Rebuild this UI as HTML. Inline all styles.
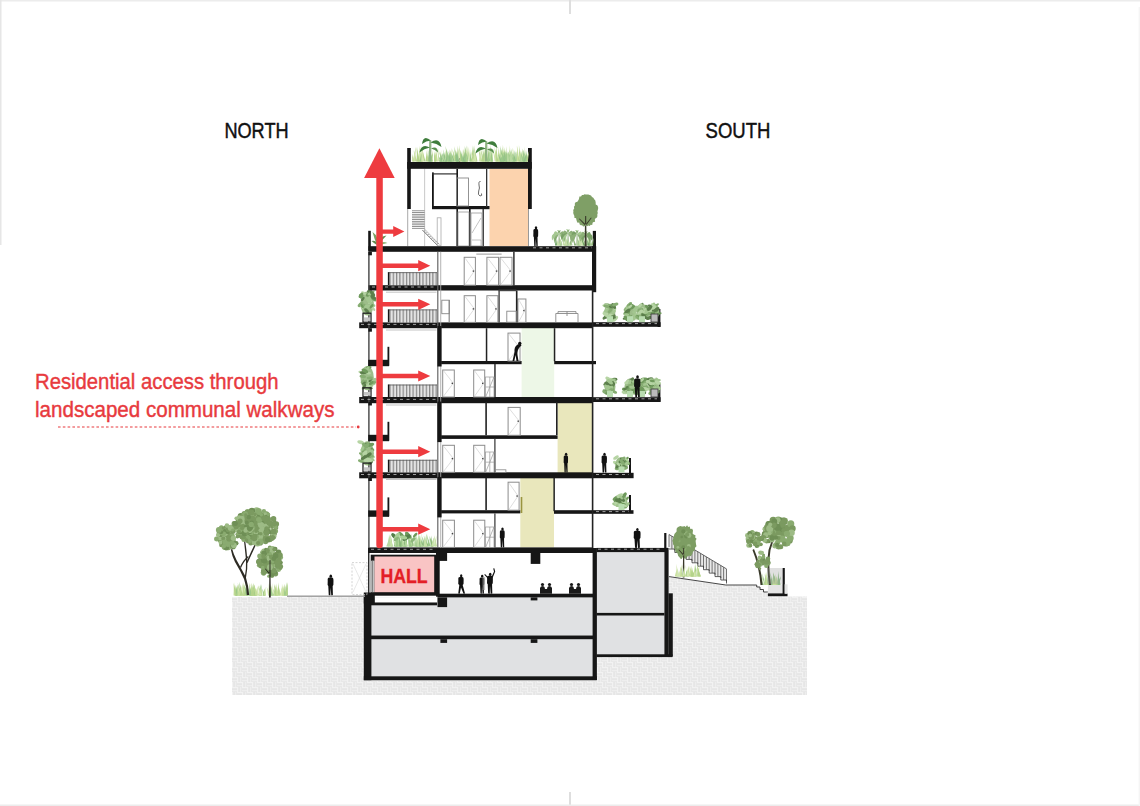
<!DOCTYPE html>
<html><head><meta charset="utf-8"><style>
html,body{margin:0;padding:0;background:#fff;}
body{width:1140px;height:806px;overflow:hidden;position:relative;}
svg{position:absolute;left:0;top:0;}
</style></head><body>
<svg width="1140" height="806" viewBox="0 0 1140 806" font-family="Liberation Sans, sans-serif">
<rect x="0" y="0" width="1140" height="1.5" fill="#ececec" />
<rect x="0" y="0" width="1.5" height="245" fill="#e6e6e6" />
<rect x="569" y="0" width="2" height="14" fill="#dedede" />
<rect x="569" y="792" width="2" height="14" fill="#dedede" />
<rect x="0" y="804.5" width="1140" height="1.5" fill="#ececec" />
<rect x="1138.6" y="7" width="1.4" height="799" fill="#f5f5f5" />
<defs>
<pattern id="hatch" x="232" y="597" width="10" height="10" patternUnits="userSpaceOnUse">
<rect width="10" height="10" fill="#fafafa"/>
<path d="M0 1.2H5M0 2.7H5M0 4.2H5 M5 6.2H10M5 7.7H10M5 9.2H10 M6.2 0V5M7.7 0V5M9.2 0V5 M1.2 5V10M2.7 5V10M4.2 5V10" stroke="#d6d6d6" stroke-width="0.7" fill="none"/>
</pattern>
<pattern id="rail" x="0" y="0" width="3.3" height="10" patternUnits="userSpaceOnUse">
<rect width="3.3" height="10" fill="#e4e4e4"/>
<rect x="0" width="1.2" height="10" fill="#858585"/>
</pattern>
</defs>
<path d="M232 597 H364 V681 H597 V657 H672.8 V593.3 H668.6 V576.6 L725.8 585 H756.7 L768 594 H787.5 V596.5 H807 V695 H232 Z" fill="url(#hatch)" stroke="none" stroke-width="1" />
<rect x="371" y="597.5" width="222" height="38" fill="#e0e1e3" />
<rect x="371" y="639" width="222" height="37.5" fill="#e0e1e3" />
<rect x="596.5" y="552" width="68" height="61" fill="#e0e1e3" />
<rect x="596.5" y="615" width="68" height="40" fill="#e0e1e3" />
<rect x="375" y="597.5" width="62" height="5" fill="#ffffff" />
<rect x="363.8" y="595.6" width="7.6" height="84.6" fill="#161616" />
<rect x="363.8" y="676.3" width="233" height="4" fill="#161616" />
<rect x="371" y="602.5" width="66" height="2.8" fill="#161616" />
<rect x="437.5" y="593.7" width="158" height="3.7" fill="#161616" />
<rect x="371" y="635.5" width="225" height="3.7" fill="#161616" />
<rect x="592.6" y="548" width="4.3" height="132" fill="#161616" />
<rect x="596.5" y="547.9" width="71" height="4.2" fill="#161616" />
<rect x="664.4" y="547.9" width="4.2" height="108.6" fill="#161616" />
<rect x="664.2" y="533" width="2.2" height="15" fill="#161616" />
<rect x="668.4" y="593.3" width="4.4" height="63.2" fill="#161616" />
<rect x="596.5" y="612.9" width="68" height="2.6" fill="#161616" />
<rect x="596.5" y="654.3" width="76" height="2.8" fill="#161616" />
<rect x="437.5" y="597.4" width="9.6" height="9.7" fill="#161616" />
<rect x="437.5" y="552.7" width="9.6" height="8.2" fill="#161616" />
<rect x="530.7" y="552.7" width="9.6" height="11.2" fill="#161616" />
<rect x="530.7" y="597.4" width="6.7" height="3" fill="#161616" />
<rect x="440.4" y="639.2" width="6.7" height="3.7" fill="#161616" />
<rect x="530.7" y="639.2" width="6.7" height="3.7" fill="#161616" />
<rect x="363.8" y="592.5" width="11" height="11" fill="#161616" />
<rect x="368.1" y="552.7" width="1.3" height="43" fill="#161616" />
<rect x="370.7" y="554.7" width="68" height="41" fill="#161616" />
<rect x="371.3" y="560.7" width="3.2" height="31.5" fill="#f4f4f4" />
<rect x="372.3" y="560.7" width="1" height="31.5" fill="#555" />
<rect x="374.5" y="556.5" width="59.7" height="35.7" fill="#f9c4c4" />
<text x="380.4" y="582.5" font-size="21" font-weight="bold" fill="#e41e26" stroke="#e41e26" stroke-width="0.35" textLength="47.2" lengthAdjust="spacingAndGlyphs">HALL</text>
<rect x="436" y="552.7" width="3.7" height="44" fill="#161616" />
<rect x="489.5" y="169" width="38.5" height="77" fill="#fcd3ae" />
<rect x="521.6" y="327.4" width="32.6" height="70.6" fill="#edf7e7" />
<rect x="557.6" y="401.6" width="34.8" height="71.7" fill="#e9e7bc" />
<rect x="520.3" y="476.9" width="33.7" height="70.6" fill="#e9e7bc" />
<rect x="407.2" y="148" width="3.6" height="61" fill="#161616" />
<rect x="528" y="148" width="3.8" height="61" fill="#161616" />
<rect x="407.2" y="162" width="124.6" height="6.8" fill="#161616" />
<rect x="457" y="158.3" width="3.2" height="4" fill="#161616" />
<rect x="432" y="206" width="57.5" height="3.2" fill="#161616" />
<rect x="432" y="172.4" width="1.8" height="35" fill="#161616" />
<rect x="432" y="173.3" width="25" height="1.2" fill="#333" />
<rect x="456.4" y="169" width="1.6" height="77" fill="#161616" />
<rect x="486" y="169" width="1.3" height="38" fill="#333" />
<rect x="469" y="209" width="1.6" height="37" fill="#161616" />
<rect x="482.5" y="209" width="1.4" height="37" fill="#333" />
<rect x="407.2" y="209" width="1" height="37" fill="#aaa" />
<rect x="424.3" y="169" width="0.8" height="77" fill="#bbb" />
<rect x="412" y="210.4" width="12.6" height="0.8" fill="#777" />
<rect x="412" y="212.15" width="12.6" height="0.8" fill="#777" />
<rect x="412" y="213.9" width="12.6" height="0.8" fill="#777" />
<rect x="412" y="215.65" width="12.6" height="0.8" fill="#777" />
<rect x="412" y="217.4" width="12.6" height="0.8" fill="#777" />
<rect x="412" y="219.15" width="12.6" height="0.8" fill="#777" />
<rect x="412" y="220.9" width="12.6" height="0.8" fill="#777" />
<rect x="412" y="222.65" width="12.6" height="0.8" fill="#777" />
<rect x="412" y="224.4" width="12.6" height="0.8" fill="#777" />
<rect x="412" y="226.15" width="12.6" height="0.8" fill="#777" />
<rect x="412" y="227.9" width="12.6" height="0.8" fill="#777" />
<line x1="422.3" y1="230" x2="437.5" y2="245.5" stroke="#666" stroke-width="0.8" />
<line x1="424.5" y1="229" x2="439.5" y2="244.5" stroke="#999" stroke-width="0.6" />
<line x1="423.5" y1="231.0" x2="425.4" y2="231.0" stroke="#777" stroke-width="0.6" />
<line x1="425.4" y1="232.8" x2="427.29999999999995" y2="232.8" stroke="#777" stroke-width="0.6" />
<line x1="427.3" y1="234.6" x2="429.2" y2="234.6" stroke="#777" stroke-width="0.6" />
<line x1="429.2" y1="236.4" x2="431.09999999999997" y2="236.4" stroke="#777" stroke-width="0.6" />
<line x1="431.1" y1="238.2" x2="433.0" y2="238.2" stroke="#777" stroke-width="0.6" />
<line x1="433.0" y1="240.0" x2="434.9" y2="240.0" stroke="#777" stroke-width="0.6" />
<line x1="434.9" y1="241.8" x2="436.79999999999995" y2="241.8" stroke="#777" stroke-width="0.6" />
<line x1="436.8" y1="243.6" x2="438.7" y2="243.6" stroke="#777" stroke-width="0.6" />
<rect x="456.8" y="178" width="11.7" height="28" fill="none" stroke="#888" stroke-width="0.9"/>
<rect x="458" y="212" width="11" height="34" fill="none" stroke="#999" stroke-width="0.8"/>
<rect x="471" y="213" width="11" height="33" fill="none" stroke="#999" stroke-width="0.8"/>
<path d="M472 240 H481 V246 M472 233 L481 218" fill="none" stroke="#aaa" stroke-width="0.7"/>
<rect x="437.2" y="217.8" width="3.8" height="28" fill="none" stroke="#aaa" stroke-width="0.8"/>
<path d="M480.5 181.5 Q478.5 181 479 185 Q480 188 478.7 191 Q477.5 195 480 196 Q482.5 196 481.5 193.5" fill="none" stroke="#444" stroke-width="0.8"/>
<rect x="528" y="209" width="1" height="37" fill="#999" />
<rect x="368.4" y="246.2" width="227.6" height="5.6" fill="#161616" />
<rect x="368.4" y="285.2" width="227.6" height="5.3" fill="#161616" />
<rect x="359.2" y="322.4" width="233.6" height="5.8" fill="#161616" />
<rect x="592.6" y="322.2" width="68" height="4.6" fill="#161616" />
<rect x="359.2" y="397" width="233.6" height="6.2" fill="#161616" />
<rect x="592.6" y="397.2" width="68" height="4.8" fill="#161616" />
<rect x="359.2" y="472.3" width="233.6" height="6.0" fill="#161616" />
<rect x="592.6" y="472.8" width="41" height="5.4" fill="#161616" />
<rect x="368.0" y="547.4" width="225" height="5.6" fill="#161616" />
<rect x="439.5" y="361" width="82.1" height="3.2" fill="#161616" />
<rect x="554.2" y="361" width="41.8" height="3.2" fill="#161616" />
<rect x="439.5" y="435.3" width="118.1" height="3.6" fill="#161616" />
<rect x="439.5" y="510.2" width="80.8" height="3.2" fill="#161616" />
<rect x="554" y="510.2" width="79.5" height="3.6" fill="#161616" />
<rect x="592" y="246.2" width="4.2" height="46" fill="#161616" />
<rect x="591.8" y="290" width="1.6" height="258" fill="#222" />
<rect x="437.2" y="251.8" width="1.2" height="296" fill="#666" />
<rect x="440.3" y="251.8" width="0.9" height="296" fill="#aaa" />
<rect x="437.4" y="326" width="4.2" height="40.5" fill="#161616" />
<rect x="437.4" y="401.6" width="4.2" height="40.5" fill="#161616" />
<rect x="437.4" y="476.9" width="4.2" height="40.5" fill="#161616" />
<rect x="368.2" y="251.8" width="1.4" height="296" fill="#444" />
<rect x="368.4" y="251.8" width="3.5" height="3.5" fill="#161616" />
<rect x="368.4" y="290.5" width="3.5" height="3.5" fill="#161616" />
<rect x="368.4" y="328.2" width="3.5" height="3.5" fill="#161616" />
<rect x="368.4" y="402" width="3.5" height="3.5" fill="#161616" />
<rect x="368.4" y="477.5" width="3.5" height="3.5" fill="#161616" />
<rect x="368.2" y="359.8" width="20.8" height="6.4" fill="#161616" />
<rect x="387.5" y="346.8" width="1.8" height="19" fill="#161616" />
<rect x="368.2" y="434.8" width="20.8" height="6.4" fill="#161616" />
<rect x="387.5" y="421.8" width="1.8" height="19" fill="#161616" />
<rect x="368.2" y="510.4" width="20.8" height="6.4" fill="#161616" />
<rect x="387.5" y="497.4" width="1.8" height="19" fill="#161616" />
<rect x="368.2" y="230.8" width="2.6" height="20" fill="#161616" />
<rect x="592.8" y="230.9" width="3.2" height="20" fill="#161616" />
<rect x="657.6" y="309" width="2.8" height="18" fill="#161616" />
<rect x="657.6" y="383.6" width="2.8" height="18" fill="#161616" />
<rect x="629" y="458" width="2" height="18" fill="#161616" />
<rect x="629" y="495" width="2" height="18" fill="#161616" />
<rect x="387.9" y="272.3" width="49.10000000000002" height="12.899999999999977" fill="url(#rail)" />
<rect x="387.9" y="272.3" width="49.10000000000002" height="0.8" fill="#555" />
<rect x="387.9" y="272.3" width="1.4" height="12.899999999999977" fill="#161616" />
<rect x="387.9" y="309.5" width="49.10000000000002" height="12.899999999999977" fill="url(#rail)" />
<rect x="387.9" y="309.5" width="49.10000000000002" height="0.8" fill="#555" />
<rect x="387.9" y="309.5" width="1.4" height="12.899999999999977" fill="#161616" />
<rect x="387.9" y="384.6" width="49.10000000000002" height="12.399999999999977" fill="url(#rail)" />
<rect x="387.9" y="384.6" width="49.10000000000002" height="0.8" fill="#555" />
<rect x="387.9" y="384.6" width="1.4" height="12.399999999999977" fill="#161616" />
<rect x="387.9" y="459.8" width="49.10000000000002" height="12.5" fill="url(#rail)" />
<rect x="387.9" y="459.8" width="49.10000000000002" height="0.8" fill="#555" />
<rect x="387.9" y="459.8" width="1.4" height="12.5" fill="#161616" />
<rect x="464.2" y="257.3" width="11.199999999999989" height="27.899999999999977" fill="none" stroke="#8c8c8c" stroke-width="1"/>
<path d="M465.2 284.2 L474.4 271.0 L465.2 258.3" fill="none" stroke="#c8c8c8" stroke-width="0.6"/>
<rect x="472.7" y="270.4" width="1.4" height="1.4" fill="#444" />
<rect x="486.9" y="257.3" width="11.600000000000023" height="27.899999999999977" fill="none" stroke="#8c8c8c" stroke-width="1"/>
<path d="M487.9 284.2 L497.5 271.0 L487.9 258.3" fill="none" stroke="#c8c8c8" stroke-width="0.6"/>
<rect x="495.8" y="270.4" width="1.4" height="1.4" fill="#444" />
<rect x="500.0" y="257.3" width="12.0" height="27.899999999999977" fill="none" stroke="#8c8c8c" stroke-width="1"/>
<path d="M501.0 284.2 L511.0 271.0 L501.0 258.3" fill="none" stroke="#c8c8c8" stroke-width="0.6"/>
<rect x="509.3" y="270.4" width="1.4" height="1.4" fill="#444" />
<rect x="513.2" y="251.8" width="1.4" height="33.5" fill="#222" />
<rect x="476.3" y="253.6" width="25.3" height="1" fill="#999" />
<rect x="464.2" y="295.7" width="11.199999999999989" height="26.69999999999999" fill="none" stroke="#8c8c8c" stroke-width="1"/>
<path d="M465.2 321.4 L474.4 308.79999999999995 L465.2 296.7" fill="none" stroke="#c8c8c8" stroke-width="0.6"/>
<rect x="472.7" y="308.19999999999993" width="1.4" height="1.4" fill="#444" />
<rect x="486.9" y="295.7" width="11.0" height="26.69999999999999" fill="none" stroke="#8c8c8c" stroke-width="1"/>
<path d="M487.9 321.4 L496.9 308.79999999999995 L487.9 296.7" fill="none" stroke="#c8c8c8" stroke-width="0.6"/>
<rect x="495.2" y="308.19999999999993" width="1.4" height="1.4" fill="#444" />
<rect x="517.9" y="299.0" width="8.0" height="23.399999999999977" fill="none" stroke="#8c8c8c" stroke-width="1"/>
<path d="M518.9 321.4 L524.9 310.45 L518.9 300.0" fill="none" stroke="#c8c8c8" stroke-width="0.6"/>
<rect x="523.1999999999999" y="309.84999999999997" width="1.4" height="1.4" fill="#444" />
<rect x="498.4" y="290.5" width="1.4" height="32" fill="#444" />
<rect x="515.9" y="290.5" width="1.6" height="32" fill="#222" />
<rect x="498.4" y="289.6" width="18" height="1.6" fill="#444" />
<rect x="506.8" y="311.2" width="9.5" height="11" fill="none" stroke="#888" stroke-width="0.9"/>
<rect x="441.8" y="300.2" width="7.5" height="13.5" fill="none" stroke="#888" stroke-width="0.9"/>
<rect x="448.6" y="300" width="1.2" height="22.5" fill="#888" />
<path d="M555.8 322.2 V313.5 H578 V322.2 M558 313.5 V311.6 H576 V313.5 M567 311.6 V316" fill="none" stroke="#888" stroke-width="0.9"/>
<rect x="485.8" y="328.2" width="1.5" height="32.8" fill="#222" />
<rect x="508.0" y="333.1" width="12.0" height="27.899999999999977" fill="none" stroke="#8c8c8c" stroke-width="1"/>
<path d="M509.0 360 L519.0 346.8 L509.0 334.1" fill="none" stroke="#c8c8c8" stroke-width="0.6"/>
<rect x="517.3" y="346.2" width="1.4" height="1.4" fill="#444" />
<rect x="553.8" y="328.2" width="1.5" height="33" fill="#222" />
<rect x="442.7" y="370.0" width="11.600000000000023" height="27.0" fill="none" stroke="#8c8c8c" stroke-width="1"/>
<path d="M443.7 396 L453.3 383.25 L443.7 371.0" fill="none" stroke="#c8c8c8" stroke-width="0.6"/>
<rect x="451.6" y="382.65" width="1.4" height="1.4" fill="#444" />
<rect x="473.7" y="370.0" width="11.0" height="27.0" fill="none" stroke="#8c8c8c" stroke-width="1"/>
<path d="M474.7 396 L483.7 383.25 L474.7 371.0" fill="none" stroke="#c8c8c8" stroke-width="0.6"/>
<rect x="482.0" y="382.65" width="1.4" height="1.4" fill="#444" />
<rect x="494.2" y="364" width="1.5" height="33" fill="#333" />
<rect x="485.3" y="402" width="1.6" height="33.3" fill="#222" />
<rect x="508.1" y="407.4" width="12.100000000000023" height="27.900000000000034" fill="none" stroke="#8c8c8c" stroke-width="1"/>
<path d="M509.1 434.3 L519.2 421.1 L509.1 408.4" fill="none" stroke="#c8c8c8" stroke-width="0.6"/>
<rect x="517.5" y="420.5" width="1.4" height="1.4" fill="#444" />
<rect x="556" y="402" width="1.6" height="33" fill="#222" />
<rect x="442.7" y="445.3" width="11.699999999999989" height="27.0" fill="none" stroke="#8c8c8c" stroke-width="1"/>
<path d="M443.7 471.3 L453.4 458.55 L443.7 446.3" fill="none" stroke="#c8c8c8" stroke-width="0.6"/>
<rect x="451.7" y="457.95" width="1.4" height="1.4" fill="#444" />
<rect x="473.7" y="445.3" width="11.100000000000023" height="27.0" fill="none" stroke="#8c8c8c" stroke-width="1"/>
<path d="M474.7 471.3 L483.8 458.55 L474.7 446.3" fill="none" stroke="#c8c8c8" stroke-width="0.6"/>
<rect x="482.1" y="457.95" width="1.4" height="1.4" fill="#444" />
<rect x="494.3" y="439" width="1.2" height="33.3" fill="#333" />
<rect x="495.6" y="469.8" width="10.3" height="2.8" fill="none" stroke="#888" stroke-width="0.8"/>
<rect x="485.3" y="477.8" width="1.6" height="32.4" fill="#222" />
<rect x="508.1" y="482.2" width="11.0" height="28.0" fill="none" stroke="#8c8c8c" stroke-width="1"/>
<path d="M509.1 509.2 L518.1 495.95 L509.1 483.2" fill="none" stroke="#c8c8c8" stroke-width="0.6"/>
<rect x="516.4" y="495.34999999999997" width="1.4" height="1.4" fill="#444" />
<rect x="553.4" y="477.8" width="1.5" height="33.4" fill="#222" />
<rect x="520.7" y="497" width="1.6" height="16" fill="#9a9440" />
<rect x="442.7" y="520.2" width="11.699999999999989" height="27.199999999999932" fill="none" stroke="#8c8c8c" stroke-width="1"/>
<path d="M443.7 546.4 L453.4 533.55 L443.7 521.2" fill="none" stroke="#c8c8c8" stroke-width="0.6"/>
<rect x="451.7" y="532.9499999999999" width="1.4" height="1.4" fill="#444" />
<rect x="473.7" y="520.2" width="11.100000000000023" height="27.199999999999932" fill="none" stroke="#8c8c8c" stroke-width="1"/>
<path d="M474.7 546.4 L483.8 533.55 L474.7 521.2" fill="none" stroke="#c8c8c8" stroke-width="0.6"/>
<rect x="482.1" y="532.9499999999999" width="1.4" height="1.4" fill="#444" />
<rect x="494.3" y="513.4" width="1.2" height="34" fill="#333" />
<g stroke="#999" stroke-width="0.7" fill="none"><rect x="485.6" y="377" width="8.399999999999977" height="20"/><line x1="485.6" y1="387.0" x2="494" y2="387.0"/><line x1="489.8" y1="377" x2="489.8" y2="397"/><line x1="485.6" y1="397" x2="494" y2="377"/></g>
<g stroke="#999" stroke-width="0.7" fill="none"><rect x="485.6" y="452" width="8.399999999999977" height="20.30000000000001"/><line x1="485.6" y1="462.15" x2="494" y2="462.15"/><line x1="489.8" y1="452" x2="489.8" y2="472.3"/><line x1="485.6" y1="472.3" x2="494" y2="452"/></g>
<g stroke="#999" stroke-width="0.7" fill="none"><rect x="485.6" y="527" width="8.399999999999977" height="20.399999999999977"/><line x1="485.6" y1="537.2" x2="494" y2="537.2"/><line x1="489.8" y1="527" x2="489.8" y2="547.4"/><line x1="485.6" y1="547.4" x2="494" y2="527"/></g>
<path d="M448.3 161.6 L450.2 152.5 L450.3 161.6 Z" fill="#c5de9a"/><path d="M505.8 161.6 L507.3 153.1 L507.8 161.6 Z" fill="#b4d38a"/><path d="M415.1 161.6 L413.6 149.9 L417.1 161.6 Z" fill="#c5de9a"/><path d="M474.6 161.6 L475.9 153.4 L476.6 161.6 Z" fill="#b4d38a"/><path d="M483.8 161.6 L482.1 148.5 L485.8 161.6 Z" fill="#d3e6b0"/><path d="M416.5 161.6 L417.9 151.9 L418.5 161.6 Z" fill="#b4d38a"/><path d="M444.3 161.6 L443.0 152.6 L446.3 161.6 Z" fill="#9cc98a"/><path d="M475.6 161.6 L474.2 147.6 L477.6 161.6 Z" fill="#b4d38a"/><path d="M453.9 161.6 L452.3 148.8 L455.9 161.6 Z" fill="#c5de9a"/><path d="M482.4 161.6 L483.6 149.3 L484.4 161.6 Z" fill="#9cc98a"/><path d="M464.7 161.6 L464.8 145.3 L466.7 161.6 Z" fill="#b4d38a"/><path d="M502.7 161.6 L502.2 147.4 L504.7 161.6 Z" fill="#9cc98a"/><path d="M471.6 161.6 L473.9 145.8 L473.6 161.6 Z" fill="#9cc98a"/><path d="M481.3 161.6 L482.3 153.3 L483.3 161.6 Z" fill="#b4d38a"/><path d="M498.4 161.6 L499.3 152.5 L500.4 161.6 Z" fill="#c5de9a"/><path d="M522.1 161.6 L523.5 153.2 L524.1 161.6 Z" fill="#9cc98a"/><path d="M450.2 161.6 L451.1 150.7 L452.2 161.6 Z" fill="#d3e6b0"/><path d="M418.8 161.6 L418.4 153.1 L420.8 161.6 Z" fill="#c5de9a"/><path d="M417.8 161.6 L419.7 147.4 L419.8 161.6 Z" fill="#d3e6b0"/><path d="M443.7 161.6 L445.7 150.3 L445.7 161.6 Z" fill="#c5de9a"/><path d="M519.6 161.6 L521.3 150.6 L521.6 161.6 Z" fill="#d3e6b0"/><path d="M417.6 161.6 L416.4 146.8 L419.6 161.6 Z" fill="#b4d38a"/><path d="M456.8 161.6 L457.8 145.4 L458.8 161.6 Z" fill="#b4d38a"/><path d="M462.8 161.6 L466.1 148.8 L464.8 161.6 Z" fill="#d3e6b0"/><path d="M510.8 161.6 L511.3 151.3 L512.8 161.6 Z" fill="#9cc98a"/><path d="M489.8 161.6 L489.2 150.4 L491.8 161.6 Z" fill="#c5de9a"/><path d="M431.2 161.6 L430.6 151.8 L433.2 161.6 Z" fill="#d3e6b0"/><path d="M507.0 161.6 L506.6 152.2 L509.0 161.6 Z" fill="#b4d38a"/><path d="M459.3 161.6 L460.7 150.5 L461.3 161.6 Z" fill="#b4d38a"/><path d="M490.7 161.6 L492.4 149.1 L492.7 161.6 Z" fill="#c5de9a"/><path d="M463.6 161.6 L467.3 145.8 L465.6 161.6 Z" fill="#d3e6b0"/><path d="M456.9 161.6 L457.7 150.3 L458.9 161.6 Z" fill="#d3e6b0"/><path d="M418.0 161.6 L417.3 153.3 L420.0 161.6 Z" fill="#b4d38a"/><path d="M423.5 161.6 L422.1 148.3 L425.5 161.6 Z" fill="#b4d38a"/><path d="M472.9 161.6 L474.6 145.1 L474.9 161.6 Z" fill="#c5de9a"/><path d="M512.0 161.6 L510.9 148.2 L514.0 161.6 Z" fill="#9cc98a"/><path d="M521.3 161.6 L522.2 148.3 L523.3 161.6 Z" fill="#c5de9a"/><path d="M509.0 161.6 L509.8 144.7 L511.0 161.6 Z" fill="#d3e6b0"/><path d="M446.9 161.6 L449.4 152.6 L448.9 161.6 Z" fill="#9cc98a"/><path d="M466.2 161.6 L467.3 147.5 L468.2 161.6 Z" fill="#b4d38a"/><path d="M520.8 161.6 L519.7 149.0 L522.8 161.6 Z" fill="#c5de9a"/><path d="M498.5 161.6 L500.4 151.2 L500.5 161.6 Z" fill="#c5de9a"/><path d="M491.3 161.6 L491.6 151.5 L493.3 161.6 Z" fill="#b4d38a"/><path d="M452.0 161.6 L453.2 151.9 L454.0 161.6 Z" fill="#9cc98a"/><path d="M484.4 161.6 L487.2 148.2 L486.4 161.6 Z" fill="#b4d38a"/><path d="M504.1 161.6 L506.5 146.3 L506.1 161.6 Z" fill="#b4d38a"/><path d="M433.9 161.6 L436.3 149.3 L435.9 161.6 Z" fill="#c5de9a"/><path d="M502.2 161.6 L501.4 149.5 L504.2 161.6 Z" fill="#9cc98a"/><path d="M462.5 161.6 L466.5 145.2 L464.5 161.6 Z" fill="#9cc98a"/><path d="M420.1 161.6 L420.9 153.0 L422.1 161.6 Z" fill="#9cc98a"/><path d="M434.4 161.6 L437.8 148.1 L436.4 161.6 Z" fill="#c5de9a"/><path d="M466.3 161.6 L469.1 147.8 L468.3 161.6 Z" fill="#c5de9a"/><path d="M507.4 161.6 L507.7 152.8 L509.4 161.6 Z" fill="#b4d38a"/><path d="M466.1 161.6 L468.8 152.3 L468.1 161.6 Z" fill="#9cc98a"/><path d="M420.8 161.6 L423.2 145.1 L422.8 161.6 Z" fill="#d3e6b0"/><path d="M457.2 161.6 L459.6 145.1 L459.2 161.6 Z" fill="#b4d38a"/><path d="M525.7 161.6 L527.2 153.7 L527.7 161.6 Z" fill="#d3e6b0"/><path d="M504.1 161.6 L507.1 152.6 L506.1 161.6 Z" fill="#d3e6b0"/><path d="M486.8 161.6 L488.1 150.7 L488.8 161.6 Z" fill="#b4d38a"/><path d="M413.3 161.6 L415.6 146.5 L415.3 161.6 Z" fill="#c5de9a"/><path d="M471.7 161.6 L472.3 145.2 L473.7 161.6 Z" fill="#b4d38a"/><path d="M506.4 161.6 L505.9 152.0 L508.4 161.6 Z" fill="#9cc98a"/><path d="M468.8 161.6 L468.7 146.8 L470.8 161.6 Z" fill="#d3e6b0"/><path d="M507.3 161.6 L509.8 153.4 L509.3 161.6 Z" fill="#d3e6b0"/><path d="M487.4 161.6 L488.5 146.3 L489.4 161.6 Z" fill="#b4d38a"/><path d="M472.3 161.6 L470.4 149.1 L474.3 161.6 Z" fill="#d3e6b0"/><path d="M500.6 161.6 L503.3 148.3 L502.6 161.6 Z" fill="#b4d38a"/><path d="M430.7 161.6 L433.1 149.5 L432.7 161.6 Z" fill="#c5de9a"/><path d="M448.5 161.6 L449.8 149.1 L450.5 161.6 Z" fill="#c5de9a"/><path d="M513.0 161.6 L512.1 153.4 L515.0 161.6 Z" fill="#c5de9a"/><path d="M500.2 161.6 L501.5 149.2 L502.2 161.6 Z" fill="#c5de9a"/><path d="M462.1 161.6 L463.1 148.2 L464.1 161.6 Z" fill="#b4d38a"/><path d="M490.9 161.6 L492.1 149.7 L492.9 161.6 Z" fill="#d3e6b0"/><path d="M469.5 161.6 L470.7 151.6 L471.5 161.6 Z" fill="#9cc98a"/><path d="M517.6 161.6 L516.8 145.6 L519.6 161.6 Z" fill="#d3e6b0"/><path d="M426.7 161.6 L427.3 152.8 L428.7 161.6 Z" fill="#c5de9a"/><path d="M488.5 161.6 L487.7 149.9 L490.5 161.6 Z" fill="#9cc98a"/><path d="M501.5 161.6 L500.4 145.6 L503.5 161.6 Z" fill="#9cc98a"/><path d="M427.3 161.6 L431.1 145.7 L429.3 161.6 Z" fill="#b4d38a"/><path d="M497.2 161.6 L500.5 153.1 L499.2 161.6 Z" fill="#b4d38a"/><path d="M525.3 161.6 L524.3 146.2 L527.3 161.6 Z" fill="#d3e6b0"/><path d="M525.8 161.6 L526.3 150.2 L527.8 161.6 Z" fill="#9cc98a"/><path d="M447.7 161.6 L445.8 147.2 L449.7 161.6 Z" fill="#d3e6b0"/><path d="M461.8 161.6 L461.7 153.8 L463.8 161.6 Z" fill="#9cc98a"/><path d="M470.1 161.6 L474.0 153.3 L472.1 161.6 Z" fill="#b4d38a"/><path d="M523.2 161.6 L522.8 153.0 L525.2 161.6 Z" fill="#c5de9a"/><path d="M515.6 161.6 L518.1 152.3 L517.6 161.6 Z" fill="#d3e6b0"/><path d="M509.1 161.6 L512.8 147.6 L511.1 161.6 Z" fill="#d3e6b0"/><path d="M428.1 161.6 L429.5 145.4 L430.1 161.6 Z" fill="#9cc98a"/><path d="M421.2 161.6 L423.3 153.4 L423.2 161.6 Z" fill="#d3e6b0"/><path d="M514.4 161.6 L512.5 151.4 L516.4 161.6 Z" fill="#c5de9a"/><path d="M503.5 161.6 L506.7 153.2 L505.5 161.6 Z" fill="#c5de9a"/><path d="M441.4 161.6 L439.5 152.8 L443.4 161.6 Z" fill="#d3e6b0"/><path d="M518.0 161.6 L516.8 151.4 L520.0 161.6 Z" fill="#b4d38a"/><path d="M519.3 161.6 L518.9 144.9 L521.3 161.6 Z" fill="#b4d38a"/><path d="M434.1 161.6 L434.0 151.0 L436.1 161.6 Z" fill="#b4d38a"/><path d="M444.3 161.6 L443.4 149.3 L446.3 161.6 Z" fill="#9cc98a"/><path d="M503.8 161.6 L502.0 144.7 L505.8 161.6 Z" fill="#c5de9a"/><path d="M495.6 161.6 L494.8 148.8 L497.6 161.6 Z" fill="#d3e6b0"/><path d="M439.2 161.6 L441.2 149.8 L441.2 161.6 Z" fill="#d3e6b0"/><path d="M486.8 161.6 L490.1 148.8 L488.8 161.6 Z" fill="#9cc98a"/><path d="M490.4 161.6 L490.4 144.8 L492.4 161.6 Z" fill="#b4d38a"/><path d="M457.6 161.6 L455.9 150.7 L459.6 161.6 Z" fill="#b4d38a"/><path d="M412.4 161.6 L415.7 148.1 L414.4 161.6 Z" fill="#d3e6b0"/><path d="M429.7 161.6 L432.7 153.2 L431.7 161.6 Z" fill="#9cc98a"/><path d="M480.1 161.6 L478.4 147.5 L482.1 161.6 Z" fill="#b4d38a"/><path d="M429.0 161.6 L428.6 149.8 L431.0 161.6 Z" fill="#9cc98a"/><path d="M523.3 161.6 L522.8 148.8 L525.3 161.6 Z" fill="#9cc98a"/><path d="M436.0 161.6 L436.0 152.2 L438.0 161.6 Z" fill="#c5de9a"/><path d="M465.7 161.6 L464.9 149.2 L467.7 161.6 Z" fill="#c5de9a"/><path d="M421.3 161.6 L420.2 146.3 L423.3 161.6 Z" fill="#c5de9a"/><path d="M456.4 161.6 L458.2 151.1 L458.4 161.6 Z" fill="#c5de9a"/><path d="M478.6 161.6 L481.1 149.0 L480.6 161.6 Z" fill="#d3e6b0"/><path d="M499.2 161.6 L500.2 147.2 L501.2 161.6 Z" fill="#9cc98a"/><path d="M494.6 161.6 L492.8 147.9 L496.6 161.6 Z" fill="#d3e6b0"/><path d="M495.7 161.6 L494.5 146.4 L497.7 161.6 Z" fill="#c5de9a"/><path d="M506.4 161.6 L509.8 148.5 L508.4 161.6 Z" fill="#b4d38a"/><path d="M420.6 161.6 L422.5 153.6 L422.6 161.6 Z" fill="#c5de9a"/><path d="M454.4 161.6 L452.7 149.7 L456.4 161.6 Z" fill="#c5de9a"/><path d="M483.3 161.6 L484.2 147.6 L485.3 161.6 Z" fill="#c5de9a"/><path d="M463.7 161.6 L467.3 153.3 L465.7 161.6 Z" fill="#c5de9a"/><path d="M487.1 161.6 L489.5 153.3 L489.1 161.6 Z" fill="#9cc98a"/><path d="M504.4 161.6 L503.8 146.0 L506.4 161.6 Z" fill="#b4d38a"/><path d="M437.5 161.6 L438.3 147.9 L439.5 161.6 Z" fill="#d3e6b0"/><path d="M419.7 161.6 L419.4 145.4 L421.7 161.6 Z" fill="#c5de9a"/><path d="M482.2 161.6 L480.6 147.9 L484.2 161.6 Z" fill="#b4d38a"/><path d="M449.2 161.6 L451.3 147.9 L451.2 161.6 Z" fill="#b4d38a"/><path d="M412.2 161.6 L411.9 153.4 L414.2 161.6 Z" fill="#c5de9a"/><path d="M490.9 161.6 L490.6 147.6 L492.9 161.6 Z" fill="#9cc98a"/><path d="M464.6 161.6 L463.3 149.6 L466.6 161.6 Z" fill="#b4d38a"/><path d="M446.9 161.6 L447.7 153.1 L448.9 161.6 Z" fill="#9cc98a"/><path d="M463.9 161.6 L467.7 146.3 L465.9 161.6 Z" fill="#d3e6b0"/><path d="M525.8 161.6 L529.3 150.3 L527.8 161.6 Z" fill="#b4d38a"/><path d="M419.4 161.6 L421.9 153.1 L421.4 161.6 Z" fill="#9cc98a"/><path d="M521.0 161.6 L524.0 152.7 L523.0 161.6 Z" fill="#9cc98a"/><path d="M513.4 161.6 L512.8 147.4 L515.4 161.6 Z" fill="#d3e6b0"/><path d="M456.4 161.6 L460.1 152.5 L458.4 161.6 Z" fill="#d3e6b0"/><path d="M457.7 161.6 L458.2 147.2 L459.7 161.6 Z" fill="#d3e6b0"/><path d="M447.4 161.6 L445.4 146.1 L449.4 161.6 Z" fill="#9cc98a"/><path d="M507.9 161.6 L511.4 152.8 L509.9 161.6 Z" fill="#c5de9a"/><path d="M515.1 161.6 L515.3 151.2 L517.1 161.6 Z" fill="#d3e6b0"/><path d="M455.9 161.6 L454.4 145.8 L457.9 161.6 Z" fill="#d3e6b0"/><path d="M498.2 161.6 L497.9 146.0 L500.2 161.6 Z" fill="#c5de9a"/><path d="M507.4 161.6 L511.0 151.3 L509.4 161.6 Z" fill="#b4d38a"/><path d="M523.1 161.6 L523.0 149.9 L525.1 161.6 Z" fill="#9cc98a"/><path d="M501.6 161.6 L499.8 150.0 L503.6 161.6 Z" fill="#d3e6b0"/><path d="M516.5 161.6 L517.8 145.2 L518.5 161.6 Z" fill="#c5de9a"/><path d="M416.5 161.6 L417.2 147.1 L418.5 161.6 Z" fill="#b4d38a"/><path d="M485.4 161.6 L483.7 151.3 L487.4 161.6 Z" fill="#b4d38a"/><path d="M430.6 161.6 L430.2 150.1 L432.6 161.6 Z" fill="#9cc98a"/><path d="M496.3 161.6 L495.9 144.8 L498.3 161.6 Z" fill="#b4d38a"/><path d="M445.6 161.6 L446.0 148.7 L447.6 161.6 Z" fill="#b4d38a"/><path d="M485.2 161.6 L486.2 153.2 L487.2 161.6 Z" fill="#d3e6b0"/><path d="M474.5 161.6 L474.5 149.7 L476.5 161.6 Z" fill="#d3e6b0"/><path d="M460.3 161.6 L459.7 148.8 L462.3 161.6 Z" fill="#b4d38a"/><path d="M450.4 161.6 L449.8 153.1 L452.4 161.6 Z" fill="#9cc98a"/><path d="M504.4 161.6 L502.6 152.1 L506.4 161.6 Z" fill="#d3e6b0"/><path d="M455.1 161.6 L454.4 147.0 L457.1 161.6 Z" fill="#9cc98a"/><path d="M449.9 161.6 L449.6 153.4 L451.9 161.6 Z" fill="#9cc98a"/><path d="M425.4 161.6 L427.1 149.2 L427.4 161.6 Z" fill="#b4d38a"/><path d="M421.5 161.6 L421.8 145.6 L423.5 161.6 Z" fill="#d3e6b0"/>
<path d="M428.8 161.6 L429.2 140.6 L431.4 140.6 L431.3 161.6 Z" fill="#8fb483"/><path d="M431.0 140.6 Q423.2 134.0 422.0 144.1 Q426.0 141.0 431.0 140.6 Z" fill="#3f7d3c"/><path d="M430.5 142.6 Q439.4 136.5 441.5 147.1 Q436.6 143.5 430.5 142.6 Z" fill="#3f7d3c"/><path d="M430.0 147.6 Q421.3 142.9 419.5 152.6 Q424.1 148.7 430.0 147.6 Z" fill="#3f7d3c"/><path d="M431.0 148.6 Q437.5 145.4 438.0 152.6 Q435.0 149.7 431.0 148.6 Z" fill="#5a9150"/>
<path d="M484.8 161.6 L485.2 141.6 L487.4 141.6 L487.3 161.6 Z" fill="#8fb483"/><path d="M487.0 141.6 Q479.2 135.0 478.0 145.1 Q482.0 142.0 487.0 141.6 Z" fill="#3f7d3c"/><path d="M486.5 143.6 Q495.4 137.5 497.5 148.1 Q492.6 144.5 486.5 143.6 Z" fill="#3f7d3c"/><path d="M486.0 148.6 Q477.3 143.9 475.5 153.6 Q480.1 149.7 486.0 148.6 Z" fill="#3f7d3c"/><path d="M487.0 149.6 Q493.5 146.4 494.0 153.6 Q491.0 150.7 487.0 149.6 Z" fill="#5a9150"/>
<path d="M450.2 161.6 L453.1 154.1 L452.2 161.6 Z" fill="#9cc98a"/><path d="M442.3 161.6 L444.9 153.4 L444.3 161.6 Z" fill="#8fbf86"/><path d="M464.2 161.6 L462.6 153.0 L466.2 161.6 Z" fill="#b8d8a0"/><path d="M461.2 161.6 L460.7 149.8 L463.2 161.6 Z" fill="#9cc98a"/><path d="M444.8 161.6 L448.7 155.2 L446.8 161.6 Z" fill="#9cc98a"/><path d="M463.5 161.6 L465.4 151.4 L465.5 161.6 Z" fill="#8fbf86"/><path d="M441.2 161.6 L439.2 151.1 L443.2 161.6 Z" fill="#9cc98a"/><path d="M445.0 161.6 L446.9 150.1 L447.0 161.6 Z" fill="#8fbf86"/><path d="M464.0 161.6 L465.2 152.1 L466.0 161.6 Z" fill="#8fbf86"/><path d="M457.2 161.6 L455.6 155.5 L459.2 161.6 Z" fill="#b8d8a0"/><path d="M463.5 161.6 L463.1 154.9 L465.5 161.6 Z" fill="#b8d8a0"/><path d="M439.0 161.6 L443.0 152.7 L441.0 161.6 Z" fill="#8fbf86"/><path d="M463.9 161.6 L467.2 151.9 L465.9 161.6 Z" fill="#8fbf86"/><path d="M452.7 161.6 L450.9 152.6 L454.7 161.6 Z" fill="#8fbf86"/><path d="M457.3 161.6 L455.5 154.2 L459.3 161.6 Z" fill="#8fbf86"/><path d="M462.0 161.6 L460.5 151.9 L464.0 161.6 Z" fill="#9cc98a"/><path d="M456.4 161.6 L455.7 150.1 L458.4 161.6 Z" fill="#9cc98a"/><path d="M457.1 161.6 L457.3 151.5 L459.1 161.6 Z" fill="#8fbf86"/><path d="M444.2 161.6 L446.6 150.9 L446.2 161.6 Z" fill="#b8d8a0"/><path d="M440.8 161.6 L440.0 152.9 L442.8 161.6 Z" fill="#9cc98a"/><path d="M445.0 161.6 L447.6 154.7 L447.0 161.6 Z" fill="#8fbf86"/><path d="M441.8 161.6 L443.5 152.1 L443.8 161.6 Z" fill="#9cc98a"/><path d="M451.6 161.6 L449.9 150.2 L453.6 161.6 Z" fill="#b8d8a0"/><path d="M442.8 161.6 L442.1 153.6 L444.8 161.6 Z" fill="#b8d8a0"/><path d="M442.7 161.6 L441.1 155.9 L444.7 161.6 Z" fill="#8fbf86"/><path d="M450.7 161.6 L450.6 151.5 L452.7 161.6 Z" fill="#9cc98a"/><path d="M464.9 161.6 L464.9 150.1 L466.9 161.6 Z" fill="#9cc98a"/><path d="M456.0 161.6 L456.8 152.7 L458.0 161.6 Z" fill="#8fbf86"/><path d="M456.3 161.6 L456.5 153.7 L458.3 161.6 Z" fill="#8fbf86"/><path d="M450.5 161.6 L449.0 155.5 L452.5 161.6 Z" fill="#9cc98a"/><path d="M448.1 161.6 L446.9 149.9 L450.1 161.6 Z" fill="#9cc98a"/><path d="M448.9 161.6 L448.7 151.1 L450.9 161.6 Z" fill="#8fbf86"/><path d="M441.3 161.6 L440.5 151.5 L443.3 161.6 Z" fill="#b8d8a0"/><path d="M462.9 161.6 L463.1 154.9 L464.9 161.6 Z" fill="#8fbf86"/><path d="M439.8 161.6 L442.7 153.5 L441.8 161.6 Z" fill="#8fbf86"/><path d="M440.1 161.6 L438.4 156.0 L442.1 161.6 Z" fill="#9cc98a"/>
<path d="M505.7 161.6 L509.1 151.3 L507.7 161.6 Z" fill="#8fbf86"/><path d="M508.4 161.6 L512.2 154.0 L510.4 161.6 Z" fill="#9cc98a"/><path d="M505.8 161.6 L505.7 151.5 L507.8 161.6 Z" fill="#8fbf86"/><path d="M506.7 161.6 L508.3 151.4 L508.7 161.6 Z" fill="#b8d8a0"/><path d="M523.6 161.6 L526.6 155.8 L525.6 161.6 Z" fill="#9cc98a"/><path d="M511.4 161.6 L515.1 149.9 L513.4 161.6 Z" fill="#8fbf86"/><path d="M519.5 161.6 L522.4 150.2 L521.5 161.6 Z" fill="#9cc98a"/><path d="M523.1 161.6 L525.9 155.0 L525.1 161.6 Z" fill="#b8d8a0"/><path d="M506.9 161.6 L505.8 151.6 L508.9 161.6 Z" fill="#9cc98a"/><path d="M507.5 161.6 L507.7 154.1 L509.5 161.6 Z" fill="#b8d8a0"/><path d="M501.1 161.6 L503.6 154.9 L503.1 161.6 Z" fill="#9cc98a"/><path d="M509.6 161.6 L510.5 151.9 L511.6 161.6 Z" fill="#b8d8a0"/><path d="M507.5 161.6 L510.8 149.7 L509.5 161.6 Z" fill="#9cc98a"/><path d="M505.9 161.6 L504.5 155.6 L507.9 161.6 Z" fill="#8fbf86"/><path d="M524.7 161.6 L523.7 149.8 L526.7 161.6 Z" fill="#9cc98a"/><path d="M509.8 161.6 L511.9 152.1 L511.8 161.6 Z" fill="#b8d8a0"/><path d="M513.0 161.6 L515.6 151.1 L515.0 161.6 Z" fill="#8fbf86"/><path d="M506.6 161.6 L506.9 152.5 L508.6 161.6 Z" fill="#b8d8a0"/><path d="M505.8 161.6 L504.9 153.3 L507.8 161.6 Z" fill="#9cc98a"/><path d="M503.0 161.6 L504.5 150.4 L505.0 161.6 Z" fill="#8fbf86"/><path d="M500.7 161.6 L500.2 154.5 L502.7 161.6 Z" fill="#b8d8a0"/><path d="M505.0 161.6 L506.9 150.9 L507.0 161.6 Z" fill="#9cc98a"/><path d="M501.7 161.6 L504.6 153.1 L503.7 161.6 Z" fill="#8fbf86"/><path d="M522.8 161.6 L522.5 155.9 L524.8 161.6 Z" fill="#9cc98a"/><path d="M500.3 161.6 L503.3 152.2 L502.3 161.6 Z" fill="#9cc98a"/><path d="M523.2 161.6 L526.4 153.7 L525.2 161.6 Z" fill="#8fbf86"/><path d="M514.7 161.6 L516.7 151.1 L516.7 161.6 Z" fill="#9cc98a"/><path d="M501.8 161.6 L503.5 152.3 L503.8 161.6 Z" fill="#9cc98a"/><path d="M500.0 161.6 L498.2 154.0 L502.0 161.6 Z" fill="#8fbf86"/><path d="M500.0 161.6 L503.5 151.4 L502.0 161.6 Z" fill="#9cc98a"/><path d="M520.3 161.6 L520.5 153.5 L522.3 161.6 Z" fill="#b8d8a0"/><path d="M507.1 161.6 L509.9 154.9 L509.1 161.6 Z" fill="#b8d8a0"/><path d="M511.6 161.6 L514.3 153.5 L513.6 161.6 Z" fill="#b8d8a0"/><path d="M513.3 161.6 L511.9 152.0 L515.3 161.6 Z" fill="#9cc98a"/><path d="M509.3 161.6 L513.3 154.4 L511.3 161.6 Z" fill="#b8d8a0"/><path d="M507.0 161.6 L506.9 149.9 L509.0 161.6 Z" fill="#b8d8a0"/>
<path d="M558.4 245.5 L558.7 234.3 L559.5 234.3 L559.6 245.5 Z" fill="#8aa878"/><path d="M559.0 234.0 Q550.1 231.3 552.0 240.4 Q554.7 236.3 559.0 234.0 Z" fill="#a6c892"/><path d="M559.0 234.0 Q567.9 231.3 566.0 240.4 Q563.3 236.3 559.0 234.0 Z" fill="#a6c892"/><path d="M559.0 234.0 Q554.6 227.8 553.4 235.3 Q556.0 233.6 559.0 234.0 Z" fill="#a6c892"/><path d="M559.0 234.0 Q563.8 228.0 564.9 235.6 Q562.2 233.8 559.0 234.0 Z" fill="#8db078"/><path d="M559.0 234.0 Q561.5 230.1 556.9 230.0 Q558.5 231.7 559.0 234.0 Z" fill="#a6c892"/><path d="M559.0 234.0 Q556.6 230.2 561.1 230.5 Q559.5 231.9 559.0 234.0 Z" fill="#79a066"/><path d="M559.0 234.0 Q551.4 236.4 554.8 243.6 Q556.1 238.4 559.0 234.0 Z" fill="#8db078"/><path d="M559.0 234.0 Q566.6 236.4 563.2 243.6 Q561.9 238.4 559.0 234.0 Z" fill="#a6c892"/>
<path d="M567.4 245.5 L567.7 233.6 L568.5 233.6 L568.6 245.5 Z" fill="#8aa878"/><path d="M568.0 233.3 Q559.0 231.1 561.5 240.1 Q563.9 235.8 568.0 233.3 Z" fill="#79a066"/><path d="M568.0 233.3 Q577.0 231.1 574.5 240.1 Q572.1 235.8 568.0 233.3 Z" fill="#a6c892"/><path d="M568.0 233.3 Q563.6 227.2 562.8 234.6 Q565.1 232.9 568.0 233.3 Z" fill="#8db078"/><path d="M568.0 233.3 Q572.8 227.4 573.5 235.0 Q571.0 233.1 568.0 233.3 Z" fill="#8db078"/><path d="M568.0 233.3 Q570.7 229.5 566.0 229.0 Q567.6 230.9 568.0 233.3 Z" fill="#a6c892"/><path d="M568.0 233.3 Q565.4 229.5 570.0 229.5 Q568.4 231.1 568.0 233.3 Z" fill="#8db078"/><path d="M568.0 233.3 Q560.4 236.2 564.1 243.5 Q565.2 238.0 568.0 233.3 Z" fill="#a6c892"/><path d="M568.0 233.3 Q575.6 236.2 571.9 243.5 Q570.8 238.0 568.0 233.3 Z" fill="#8db078"/>
<path d="M576.4 245.5 L576.7 234.3 L577.5 234.3 L577.6 245.5 Z" fill="#8aa878"/><path d="M577.0 234.0 Q568.1 231.5 570.5 240.4 Q572.9 236.3 577.0 234.0 Z" fill="#8db078"/><path d="M577.0 234.0 Q585.9 231.5 583.5 240.4 Q581.1 236.3 577.0 234.0 Z" fill="#a6c892"/><path d="M577.0 234.0 Q572.7 227.8 571.8 235.3 Q574.1 233.6 577.0 234.0 Z" fill="#79a066"/><path d="M577.0 234.0 Q581.7 228.1 582.5 235.6 Q580.0 233.8 577.0 234.0 Z" fill="#a6c892"/><path d="M577.0 234.0 Q579.6 230.2 575.0 230.0 Q576.6 231.7 577.0 234.0 Z" fill="#a6c892"/><path d="M577.0 234.0 Q574.5 230.3 579.0 230.5 Q577.5 231.9 577.0 234.0 Z" fill="#8db078"/><path d="M577.0 234.0 Q569.5 236.5 573.1 243.6 Q574.2 238.4 577.0 234.0 Z" fill="#8db078"/><path d="M577.0 234.0 Q584.5 236.5 580.9 243.6 Q579.8 238.4 577.0 234.0 Z" fill="#8db078"/>
<path d="M585.4 245.5 L585.7 235.0 L586.5 235.0 L586.6 245.5 Z" fill="#8aa878"/><path d="M586.0 234.7 Q577.3 232.0 580.0 240.7 Q582.2 236.9 586.0 234.7 Z" fill="#8db078"/><path d="M586.0 234.7 Q594.7 232.0 592.0 240.7 Q589.8 236.9 586.0 234.7 Z" fill="#79a066"/><path d="M586.0 234.7 Q581.9 228.5 581.2 235.9 Q583.3 234.3 586.0 234.7 Z" fill="#8db078"/><path d="M586.0 234.7 Q590.5 228.7 591.0 236.2 Q588.8 234.4 586.0 234.7 Z" fill="#79a066"/><path d="M586.0 234.7 Q588.7 231.1 584.2 230.9 Q585.6 232.6 586.0 234.7 Z" fill="#a6c892"/><path d="M586.0 234.7 Q583.4 231.1 587.8 231.4 Q586.4 232.8 586.0 234.7 Z" fill="#8db078"/><path d="M586.0 234.7 Q578.6 237.0 582.4 243.7 Q583.4 238.9 586.0 234.7 Z" fill="#79a066"/><path d="M586.0 234.7 Q593.4 237.0 589.6 243.7 Q588.6 238.9 586.0 234.7 Z" fill="#79a066"/>
<path d="M588.3 245.5 L587.4 237.8 L590.5 245.5 Z" fill="#c6dea8"/><path d="M565.1 245.5 L568.8 238.9 L567.3 245.5 Z" fill="#a6c892"/><path d="M568.7 245.5 L571.6 237.7 L570.9 245.5 Z" fill="#8db078"/><path d="M565.8 245.5 L564.1 237.3 L568.0 245.5 Z" fill="#6fa266"/><path d="M566.2 245.5 L568.1 238.4 L568.4 245.5 Z" fill="#a6c892"/><path d="M587.5 245.5 L590.5 238.4 L589.7 245.5 Z" fill="#8db078"/><path d="M578.0 245.5 L579.8 237.2 L580.2 245.5 Z" fill="#8db078"/><path d="M584.8 245.5 L584.2 240.5 L587.0 245.5 Z" fill="#6fa266"/><path d="M588.7 245.5 L588.9 240.7 L590.9 245.5 Z" fill="#8db078"/><path d="M563.8 245.5 L567.3 237.9 L566.0 245.5 Z" fill="#a6c892"/><path d="M586.7 245.5 L588.9 237.3 L588.9 245.5 Z" fill="#c6dea8"/><path d="M559.1 245.5 L560.5 238.5 L561.3 245.5 Z" fill="#c6dea8"/><path d="M578.3 245.5 L577.9 239.9 L580.5 245.5 Z" fill="#6fa266"/><path d="M578.6 245.5 L579.3 239.2 L580.8 245.5 Z" fill="#a6c892"/><path d="M555.0 245.5 L555.9 236.6 L557.2 245.5 Z" fill="#6fa266"/><path d="M582.4 245.5 L583.2 237.6 L584.6 245.5 Z" fill="#8db078"/><path d="M584.1 245.5 L582.6 239.5 L586.3 245.5 Z" fill="#c6dea8"/><path d="M570.4 245.5 L571.2 241.0 L572.6 245.5 Z" fill="#a6c892"/><path d="M556.4 245.5 L560.0 240.8 L558.6 245.5 Z" fill="#c6dea8"/><path d="M582.9 245.5 L581.3 238.9 L585.1 245.5 Z" fill="#6fa266"/><path d="M578.4 245.5 L576.7 237.6 L580.6 245.5 Z" fill="#a6c892"/><path d="M590.8 245.5 L593.8 237.8 L593.0 245.5 Z" fill="#8db078"/><path d="M559.6 245.5 L559.5 237.1 L561.8 245.5 Z" fill="#8db078"/><path d="M579.6 245.5 L579.0 237.9 L581.8 245.5 Z" fill="#c6dea8"/><path d="M576.9 245.5 L576.9 240.2 L579.1 245.5 Z" fill="#c6dea8"/><path d="M587.5 245.5 L587.1 239.2 L589.7 245.5 Z" fill="#6fa266"/><path d="M562.4 245.5 L563.5 240.1 L564.6 245.5 Z" fill="#c6dea8"/><path d="M568.3 245.5 L568.8 240.5 L570.5 245.5 Z" fill="#c6dea8"/><path d="M579.4 245.5 L578.5 237.0 L581.6 245.5 Z" fill="#c6dea8"/><path d="M559.0 245.5 L561.0 238.8 L561.2 245.5 Z" fill="#c6dea8"/><path d="M589.7 245.5 L590.9 239.2 L591.9 245.5 Z" fill="#a6c892"/><path d="M564.0 245.5 L567.2 238.8 L566.2 245.5 Z" fill="#c6dea8"/><path d="M564.4 245.5 L566.0 236.5 L566.6 245.5 Z" fill="#c6dea8"/><path d="M566.8 245.5 L566.3 241.0 L569.0 245.5 Z" fill="#a6c892"/><path d="M565.6 245.5 L565.5 238.9 L567.8 245.5 Z" fill="#c6dea8"/><path d="M581.3 245.5 L580.7 237.8 L583.5 245.5 Z" fill="#c6dea8"/><path d="M577.1 245.5 L578.3 239.3 L579.3 245.5 Z" fill="#a6c892"/><path d="M559.7 245.5 L561.7 240.3 L561.9 245.5 Z" fill="#a6c892"/><path d="M556.9 245.5 L556.8 238.6 L559.1 245.5 Z" fill="#c6dea8"/><path d="M574.1 245.5 L574.0 239.4 L576.3 245.5 Z" fill="#8db078"/>
<path d="M597.4 211.5 L597.8 213.0 L597.3 214.5 L597.4 216.0 L597.0 217.5 L595.6 218.3 L594.8 219.4 L595.1 221.7 L593.6 221.9 L592.6 222.8 L592.2 224.9 L590.7 224.7 L589.7 225.9 L588.3 225.6 L587.1 226.2 L585.8 225.3 L584.5 226.2 L583.2 226.4 L582.1 225.3 L580.8 225.2 L579.7 224.4 L579.2 222.5 L577.5 222.7 L576.8 221.3 L576.4 219.8 L576.1 218.3 L574.3 217.7 L574.4 216.0 L573.7 214.6 L573.2 213.1 L573.4 211.5 L573.2 209.9 L574.2 208.5 L573.9 206.8 L574.9 205.6 L574.8 203.6 L575.6 202.2 L577.4 201.8 L578.2 200.4 L579.0 199.0 L579.4 196.4 L581.0 196.4 L582.0 195.1 L583.4 195.1 L584.5 194.2 L585.8 194.4 L587.0 194.6 L588.3 194.5 L589.6 195.1 L591.0 195.4 L592.0 196.9 L593.3 197.7 L594.2 199.3 L595.3 200.5 L595.7 202.4 L595.7 204.4 L597.3 205.2 L598.0 206.7 L598.2 208.3 L597.8 210.0 Z" fill="#7f9f66"/>
<path d="M584.6 246 L586.6 246 L586.2 216 L585.1 216 Z M585.5 226 L579 219 L579.6 218.4 L585.8 224.5 Z M585.9 224 L591 217.5 L591.6 218 L586.2 225.5 Z" fill="#3b3d2c"/>
<g fill="#111"><ellipse cx="536.00" cy="227.83" rx="1.22" ry="1.56"/><path d="M534.84 229.10 C533.30 229.20 533.30 230.20 533.40 232.20 L533.30 236.20 L533.88 237.20 L534.26 246.00 L535.61 246.20 L535.80 238.60 L536.38 246.20 L537.72 246.00 L537.53 237.20 L538.11 236.20 L538.20 232.20 C538.20 230.20 538.11 229.20 536.76 229.10 Z"/></g>
<path d="M377.0 245.0 Q379.5 236.9 372.5 232.0 Q374.3 238.7 377.0 245.0 Z" fill="#7aa062"/>
<path d="M377.0 245.0 Q378.2 236.7 386.5 235.5 Q382.1 240.6 377.0 245.0 Z" fill="#5f8a4c"/>
<path d="M378.0 245.0 Q381.9 240.1 387.5 243.0 Q382.8 244.4 378.0 245.0 Z" fill="#8fb477"/>
<path d="M377.0 245.0 Q376.6 239.8 371.5 241.0 Q374.0 243.3 377.0 245.0 Z" fill="#5f8a4c"/>
<path d="M377.5 245.0 Q381.7 238.5 380.0 231.0 Q378.5 237.9 377.5 245.0 Z" fill="#a8c890"/>
<ellipse cx="367.2" cy="303.5" rx="6.7" ry="12.1" fill="#9dbd8a"/>
<ellipse cx="363.2" cy="306.0" rx="2.9" ry="1.4" fill="#86ad72" transform="rotate(-44 363.2 306.0)"/><ellipse cx="370.0" cy="302.2" rx="2.3" ry="1.1" fill="#b6d4a4" transform="rotate(-43 370.0 302.2)"/><ellipse cx="365.9" cy="298.0" rx="2.2" ry="1.1" fill="#a3c690" transform="rotate(17 365.9 298.0)"/><ellipse cx="372.5" cy="305.3" rx="3.0" ry="1.5" fill="#a3c690" transform="rotate(12 372.5 305.3)"/><ellipse cx="370.3" cy="297.7" rx="3.5" ry="1.7" fill="#a3c690" transform="rotate(-55 370.3 297.7)"/><ellipse cx="360.8" cy="296.3" rx="2.4" ry="1.2" fill="#6f9a5c" transform="rotate(49 360.8 296.3)"/><ellipse cx="360.6" cy="304.4" rx="3.5" ry="1.8" fill="#86ad72" transform="rotate(-43 360.6 304.4)"/><ellipse cx="367.4" cy="306.4" rx="3.1" ry="1.6" fill="#a3c690" transform="rotate(-10 367.4 306.4)"/><ellipse cx="362.8" cy="299.0" rx="2.6" ry="1.3" fill="#5c7f4c" transform="rotate(-54 362.8 299.0)"/><ellipse cx="370.1" cy="292.3" rx="3.4" ry="1.7" fill="#5c7f4c" transform="rotate(29 370.1 292.3)"/><ellipse cx="361.6" cy="306.7" rx="2.4" ry="1.2" fill="#b6d4a4" transform="rotate(60 361.6 306.7)"/><ellipse cx="363.6" cy="293.0" rx="2.7" ry="1.3" fill="#b6d4a4" transform="rotate(30 363.6 293.0)"/><ellipse cx="370.0" cy="298.0" rx="3.0" ry="1.5" fill="#a3c690" transform="rotate(-8 370.0 298.0)"/><ellipse cx="373.5" cy="298.7" rx="3.5" ry="1.7" fill="#6f9a5c" transform="rotate(47 373.5 298.7)"/><ellipse cx="372.3" cy="292.5" rx="2.6" ry="1.3" fill="#86ad72" transform="rotate(-32 372.3 292.5)"/><ellipse cx="373.2" cy="308.7" rx="2.7" ry="1.3" fill="#b6d4a4" transform="rotate(46 373.2 308.7)"/><ellipse cx="368.6" cy="300.6" rx="3.4" ry="1.7" fill="#a3c690" transform="rotate(51 368.6 300.6)"/><ellipse cx="366.8" cy="310.8" rx="3.2" ry="1.6" fill="#5c7f4c" transform="rotate(43 366.8 310.8)"/><ellipse cx="373.3" cy="297.3" rx="3.4" ry="1.7" fill="#5c7f4c" transform="rotate(35 373.3 297.3)"/><ellipse cx="368.8" cy="293.9" rx="3.5" ry="1.7" fill="#6f9a5c" transform="rotate(-43 368.8 293.9)"/><ellipse cx="362.0" cy="305.9" rx="2.4" ry="1.2" fill="#6f9a5c" transform="rotate(57 362.0 305.9)"/><ellipse cx="360.9" cy="295.2" rx="3.1" ry="1.6" fill="#6f9a5c" transform="rotate(-55 360.9 295.2)"/><ellipse cx="370.4" cy="293.6" rx="3.0" ry="1.5" fill="#a3c690" transform="rotate(-16 370.4 293.6)"/><ellipse cx="372.5" cy="293.6" rx="3.4" ry="1.7" fill="#5c7f4c" transform="rotate(50 372.5 293.6)"/><ellipse cx="361.9" cy="296.7" rx="2.4" ry="1.2" fill="#6f9a5c" transform="rotate(-56 361.9 296.7)"/><ellipse cx="371.6" cy="306.2" rx="2.6" ry="1.3" fill="#6f9a5c" transform="rotate(-48 371.6 306.2)"/>
<rect x="363" y="313.2" width="8" height="9" fill="none" stroke="#222" stroke-width="1.3"/>
<rect x="363.8" y="317.4" width="6.4" height="3.5" fill="#c4c4c4"/>
<ellipse cx="367.2" cy="378.1" rx="6.7" ry="12.1" fill="#9dbd8a"/>
<ellipse cx="371.1" cy="381.1" rx="2.6" ry="1.3" fill="#b6d4a4" transform="rotate(-20 371.1 381.1)"/><ellipse cx="360.8" cy="372.4" rx="2.6" ry="1.3" fill="#b6d4a4" transform="rotate(26 360.8 372.4)"/><ellipse cx="372.7" cy="383.8" rx="3.0" ry="1.5" fill="#b6d4a4" transform="rotate(-3 372.7 383.8)"/><ellipse cx="368.8" cy="367.4" rx="2.8" ry="1.4" fill="#6f9a5c" transform="rotate(-8 368.8 367.4)"/><ellipse cx="365.1" cy="382.4" rx="3.0" ry="1.5" fill="#6f9a5c" transform="rotate(-34 365.1 382.4)"/><ellipse cx="368.2" cy="373.1" rx="2.8" ry="1.4" fill="#b6d4a4" transform="rotate(3 368.2 373.1)"/><ellipse cx="370.7" cy="388.4" rx="2.2" ry="1.1" fill="#5c7f4c" transform="rotate(-1 370.7 388.4)"/><ellipse cx="369.8" cy="385.1" rx="3.6" ry="1.8" fill="#a3c690" transform="rotate(11 369.8 385.1)"/><ellipse cx="364.0" cy="387.7" rx="2.6" ry="1.3" fill="#86ad72" transform="rotate(-34 364.0 387.7)"/><ellipse cx="367.2" cy="369.2" rx="3.1" ry="1.5" fill="#a3c690" transform="rotate(-50 367.2 369.2)"/><ellipse cx="371.1" cy="380.7" rx="2.7" ry="1.3" fill="#5c7f4c" transform="rotate(-12 371.1 380.7)"/><ellipse cx="372.5" cy="383.3" rx="2.8" ry="1.4" fill="#b6d4a4" transform="rotate(18 372.5 383.3)"/><ellipse cx="363.3" cy="372.6" rx="3.5" ry="1.7" fill="#5c7f4c" transform="rotate(0 363.3 372.6)"/><ellipse cx="373.7" cy="380.7" rx="3.5" ry="1.8" fill="#a3c690" transform="rotate(-45 373.7 380.7)"/><ellipse cx="370.6" cy="383.5" rx="3.1" ry="1.6" fill="#b6d4a4" transform="rotate(-18 370.6 383.5)"/><ellipse cx="367.5" cy="386.0" rx="2.8" ry="1.4" fill="#b6d4a4" transform="rotate(6 367.5 386.0)"/><ellipse cx="362.8" cy="376.5" rx="3.3" ry="1.6" fill="#86ad72" transform="rotate(10 362.8 376.5)"/><ellipse cx="365.0" cy="381.0" rx="3.2" ry="1.6" fill="#b6d4a4" transform="rotate(1 365.0 381.0)"/><ellipse cx="364.5" cy="382.3" rx="3.4" ry="1.7" fill="#86ad72" transform="rotate(-41 364.5 382.3)"/><ellipse cx="373.6" cy="382.8" rx="3.0" ry="1.5" fill="#86ad72" transform="rotate(-18 373.6 382.8)"/><ellipse cx="364.9" cy="370.9" rx="3.6" ry="1.8" fill="#6f9a5c" transform="rotate(27 364.9 370.9)"/><ellipse cx="362.7" cy="381.3" rx="2.5" ry="1.2" fill="#86ad72" transform="rotate(-42 362.7 381.3)"/><ellipse cx="371.2" cy="383.0" rx="2.8" ry="1.4" fill="#6f9a5c" transform="rotate(-36 371.2 383.0)"/><ellipse cx="364.3" cy="386.4" rx="2.8" ry="1.4" fill="#5c7f4c" transform="rotate(-58 364.3 386.4)"/><ellipse cx="369.8" cy="377.9" rx="3.1" ry="1.5" fill="#86ad72" transform="rotate(-4 369.8 377.9)"/><ellipse cx="363.9" cy="383.1" rx="2.2" ry="1.1" fill="#5c7f4c" transform="rotate(-31 363.9 383.1)"/>
<rect x="363" y="387.8" width="8" height="9" fill="none" stroke="#222" stroke-width="1.3"/>
<rect x="363.8" y="392" width="6.4" height="3.5" fill="#c4c4c4"/>
<ellipse cx="367.2" cy="453.4" rx="6.7" ry="12.1" fill="#9dbd8a"/>
<ellipse cx="369.9" cy="455.1" rx="3.1" ry="1.6" fill="#a3c690" transform="rotate(42 369.9 455.1)"/><ellipse cx="371.9" cy="457.1" rx="3.1" ry="1.5" fill="#b6d4a4" transform="rotate(-6 371.9 457.1)"/><ellipse cx="364.0" cy="457.6" rx="3.5" ry="1.7" fill="#5c7f4c" transform="rotate(-31 364.0 457.6)"/><ellipse cx="370.1" cy="456.0" rx="2.6" ry="1.3" fill="#5c7f4c" transform="rotate(-9 370.1 456.0)"/><ellipse cx="360.7" cy="461.1" rx="2.9" ry="1.5" fill="#86ad72" transform="rotate(19 360.7 461.1)"/><ellipse cx="372.5" cy="449.3" rx="2.2" ry="1.1" fill="#6f9a5c" transform="rotate(40 372.5 449.3)"/><ellipse cx="361.0" cy="454.1" rx="2.4" ry="1.2" fill="#86ad72" transform="rotate(34 361.0 454.1)"/><ellipse cx="367.5" cy="444.3" rx="3.0" ry="1.5" fill="#5c7f4c" transform="rotate(5 367.5 444.3)"/><ellipse cx="367.4" cy="456.2" rx="3.4" ry="1.7" fill="#5c7f4c" transform="rotate(3 367.4 456.2)"/><ellipse cx="370.5" cy="452.2" rx="3.6" ry="1.8" fill="#a3c690" transform="rotate(-38 370.5 452.2)"/><ellipse cx="370.7" cy="444.8" rx="3.6" ry="1.8" fill="#6f9a5c" transform="rotate(-17 370.7 444.8)"/><ellipse cx="363.9" cy="450.5" rx="2.3" ry="1.1" fill="#5c7f4c" transform="rotate(-51 363.9 450.5)"/><ellipse cx="368.9" cy="457.0" rx="3.0" ry="1.5" fill="#b6d4a4" transform="rotate(-47 368.9 457.0)"/><ellipse cx="370.4" cy="462.9" rx="2.9" ry="1.5" fill="#5c7f4c" transform="rotate(-34 370.4 462.9)"/><ellipse cx="366.7" cy="445.7" rx="3.5" ry="1.8" fill="#86ad72" transform="rotate(-52 366.7 445.7)"/><ellipse cx="366.8" cy="454.5" rx="2.5" ry="1.3" fill="#b6d4a4" transform="rotate(56 366.8 454.5)"/><ellipse cx="369.4" cy="460.5" rx="3.3" ry="1.7" fill="#b6d4a4" transform="rotate(-10 369.4 460.5)"/><ellipse cx="370.7" cy="456.5" rx="3.3" ry="1.6" fill="#86ad72" transform="rotate(-4 370.7 456.5)"/><ellipse cx="364.1" cy="450.4" rx="2.6" ry="1.3" fill="#86ad72" transform="rotate(-9 364.1 450.4)"/><ellipse cx="367.0" cy="459.9" rx="3.3" ry="1.7" fill="#b6d4a4" transform="rotate(-17 367.0 459.9)"/><ellipse cx="364.8" cy="452.8" rx="3.1" ry="1.5" fill="#b6d4a4" transform="rotate(-50 364.8 452.8)"/><ellipse cx="362.5" cy="448.8" rx="2.7" ry="1.4" fill="#a3c690" transform="rotate(-50 362.5 448.8)"/><ellipse cx="372.7" cy="459.4" rx="2.4" ry="1.2" fill="#a3c690" transform="rotate(40 372.7 459.4)"/><ellipse cx="360.7" cy="442.3" rx="3.5" ry="1.8" fill="#b6d4a4" transform="rotate(19 360.7 442.3)"/><ellipse cx="368.7" cy="454.9" rx="3.4" ry="1.7" fill="#5c7f4c" transform="rotate(-38 368.7 454.9)"/><ellipse cx="365.1" cy="445.4" rx="3.5" ry="1.7" fill="#86ad72" transform="rotate(35 365.1 445.4)"/>
<rect x="363" y="463.1" width="8" height="9" fill="none" stroke="#222" stroke-width="1.3"/>
<rect x="363.8" y="467.3" width="6.4" height="3.5" fill="#c4c4c4"/>
<path d="M415.7 546.5 L419.7 534.9 L418.1 546.5 Z" fill="#b8d8a0"/><path d="M418.6 546.5 L421.5 533.3 L421.0 546.5 Z" fill="#c8e2a8"/><path d="M395.5 546.5 L396.9 534.9 L397.9 546.5 Z" fill="#8ab87a"/><path d="M418.7 546.5 L417.6 539.3 L421.1 546.5 Z" fill="#8ab87a"/><path d="M397.3 546.5 L398.4 539.1 L399.7 546.5 Z" fill="#b8d8a0"/><path d="M409.5 546.5 L411.9 533.2 L411.9 546.5 Z" fill="#9cc98a"/><path d="M410.2 546.5 L413.6 536.0 L412.6 546.5 Z" fill="#b8d8a0"/><path d="M393.7 546.5 L396.0 537.7 L396.1 546.5 Z" fill="#8ab87a"/><path d="M418.4 546.5 L418.8 533.7 L420.8 546.5 Z" fill="#8ab87a"/><path d="M434.8 546.5 L434.1 535.0 L437.2 546.5 Z" fill="#c8e2a8"/><path d="M417.0 546.5 L418.8 540.0 L419.4 546.5 Z" fill="#c8e2a8"/><path d="M425.4 546.5 L426.5 539.5 L427.8 546.5 Z" fill="#9cc98a"/><path d="M387.5 546.5 L389.4 534.7 L389.9 546.5 Z" fill="#c8e2a8"/><path d="M390.4 546.5 L390.7 535.1 L392.8 546.5 Z" fill="#9cc98a"/><path d="M399.7 546.5 L399.4 537.6 L402.1 546.5 Z" fill="#b8d8a0"/><path d="M426.3 546.5 L429.5 537.9 L428.7 546.5 Z" fill="#8ab87a"/><path d="M402.2 546.5 L405.6 532.6 L404.6 546.5 Z" fill="#c8e2a8"/><path d="M433.6 546.5 L436.5 535.2 L436.0 546.5 Z" fill="#c8e2a8"/><path d="M395.2 546.5 L394.2 534.7 L397.6 546.5 Z" fill="#b8d8a0"/><path d="M424.2 546.5 L426.8 539.9 L426.6 546.5 Z" fill="#8ab87a"/><path d="M412.5 546.5 L412.5 539.8 L414.9 546.5 Z" fill="#b8d8a0"/><path d="M388.1 546.5 L389.1 533.9 L390.5 546.5 Z" fill="#b8d8a0"/><path d="M424.5 546.5 L426.3 533.2 L426.9 546.5 Z" fill="#9cc98a"/><path d="M416.5 546.5 L418.3 534.8 L418.9 546.5 Z" fill="#b8d8a0"/><path d="M396.2 546.5 L397.2 535.1 L398.6 546.5 Z" fill="#9cc98a"/><path d="M390.8 546.5 L389.2 538.8 L393.2 546.5 Z" fill="#b8d8a0"/><path d="M430.6 546.5 L431.0 535.2 L433.0 546.5 Z" fill="#9cc98a"/><path d="M424.3 546.5 L424.1 535.9 L426.7 546.5 Z" fill="#c8e2a8"/><path d="M394.9 546.5 L393.2 539.9 L397.3 546.5 Z" fill="#b8d8a0"/><path d="M410.2 546.5 L413.3 536.2 L412.6 546.5 Z" fill="#8ab87a"/><path d="M414.0 546.5 L414.9 533.1 L416.4 546.5 Z" fill="#b8d8a0"/><path d="M419.1 546.5 L423.3 535.6 L421.5 546.5 Z" fill="#9cc98a"/><path d="M409.1 546.5 L407.9 537.0 L411.5 546.5 Z" fill="#8ab87a"/><path d="M396.2 546.5 L394.5 539.0 L398.6 546.5 Z" fill="#b8d8a0"/><path d="M386.3 546.5 L390.4 535.0 L388.7 546.5 Z" fill="#b8d8a0"/><path d="M396.5 546.5 L397.5 539.3 L398.9 546.5 Z" fill="#c8e2a8"/><path d="M421.0 546.5 L423.6 538.3 L423.4 546.5 Z" fill="#9cc98a"/><path d="M431.0 546.5 L433.7 537.4 L433.4 546.5 Z" fill="#9cc98a"/><path d="M421.6 546.5 L423.5 539.6 L424.0 546.5 Z" fill="#8ab87a"/><path d="M408.4 546.5 L408.1 533.0 L410.8 546.5 Z" fill="#b8d8a0"/><path d="M420.9 546.5 L419.2 540.1 L423.3 546.5 Z" fill="#b8d8a0"/><path d="M404.9 546.5 L406.7 537.8 L407.3 546.5 Z" fill="#8ab87a"/><path d="M415.6 546.5 L419.5 537.8 L418.0 546.5 Z" fill="#8ab87a"/><path d="M408.8 546.5 L412.8 538.9 L411.2 546.5 Z" fill="#b8d8a0"/><path d="M403.6 546.5 L405.6 535.2 L406.0 546.5 Z" fill="#8ab87a"/><path d="M409.2 546.5 L410.1 534.2 L411.6 546.5 Z" fill="#c8e2a8"/><path d="M424.2 546.5 L424.2 535.8 L426.6 546.5 Z" fill="#b8d8a0"/><path d="M416.3 546.5 L419.3 535.2 L418.7 546.5 Z" fill="#c8e2a8"/><path d="M428.4 546.5 L426.7 534.6 L430.8 546.5 Z" fill="#9cc98a"/><path d="M415.3 546.5 L416.0 537.8 L417.7 546.5 Z" fill="#9cc98a"/><path d="M404.3 546.5 L406.1 534.9 L406.7 546.5 Z" fill="#9cc98a"/><path d="M425.4 546.5 L423.6 538.0 L427.8 546.5 Z" fill="#c8e2a8"/><path d="M398.9 546.5 L402.7 539.0 L401.3 546.5 Z" fill="#b8d8a0"/><path d="M399.9 546.5 L403.5 539.1 L402.3 546.5 Z" fill="#9cc98a"/><path d="M399.2 546.5 L402.3 533.6 L401.6 546.5 Z" fill="#8ab87a"/><path d="M402.8 546.5 L404.3 539.5 L405.2 546.5 Z" fill="#8ab87a"/><path d="M395.6 546.5 L399.4 534.4 L398.0 546.5 Z" fill="#9cc98a"/><path d="M401.0 546.5 L401.5 539.8 L403.4 546.5 Z" fill="#9cc98a"/><path d="M431.2 546.5 L429.4 535.7 L433.6 546.5 Z" fill="#8ab87a"/><path d="M408.3 546.5 L411.4 539.5 L410.7 546.5 Z" fill="#b8d8a0"/><path d="M397.2 546.5 L400.8 535.7 L399.6 546.5 Z" fill="#c8e2a8"/><path d="M409.2 546.5 L408.5 535.7 L411.6 546.5 Z" fill="#9cc98a"/><path d="M390.3 546.5 L390.3 534.0 L392.7 546.5 Z" fill="#c8e2a8"/><path d="M405.5 546.5 L404.6 536.2 L407.9 546.5 Z" fill="#b8d8a0"/><path d="M431.0 546.5 L434.4 536.4 L433.4 546.5 Z" fill="#c8e2a8"/><path d="M416.8 546.5 L415.9 534.1 L419.2 546.5 Z" fill="#b8d8a0"/><path d="M402.7 546.5 L401.0 536.2 L405.1 546.5 Z" fill="#b8d8a0"/><path d="M395.8 546.5 L397.4 533.5 L398.2 546.5 Z" fill="#9cc98a"/><path d="M398.6 546.5 L399.4 534.2 L401.0 546.5 Z" fill="#8ab87a"/><path d="M423.4 546.5 L427.4 533.9 L425.8 546.5 Z" fill="#c8e2a8"/>
<ellipse cx="401.3" cy="534.6" rx="3.6" ry="1.6" fill="#6f9a5c" transform="rotate(47 401.3 534.6)"/><ellipse cx="406.3" cy="535.7" rx="3.7" ry="1.7" fill="#6f9a5c" transform="rotate(-62 406.3 535.7)"/><ellipse cx="408.2" cy="535.3" rx="4.2" ry="1.9" fill="#6f9a5c" transform="rotate(50 408.2 535.3)"/><ellipse cx="406.5" cy="537.6" rx="4.7" ry="2.1" fill="#55804a" transform="rotate(-33 406.5 537.6)"/><ellipse cx="413.1" cy="539.9" rx="3.3" ry="1.5" fill="#8cb67a" transform="rotate(-44 413.1 539.9)"/><ellipse cx="415.2" cy="535.1" rx="2.9" ry="1.3" fill="#6f9a5c" transform="rotate(-45 415.2 535.1)"/><ellipse cx="394.5" cy="536.4" rx="4.2" ry="1.9" fill="#55804a" transform="rotate(46 394.5 536.4)"/><ellipse cx="396.8" cy="536.7" rx="4.7" ry="2.1" fill="#a9cf96" transform="rotate(-61 396.8 536.7)"/><ellipse cx="403.6" cy="537.5" rx="3.7" ry="1.7" fill="#a9cf96" transform="rotate(12 403.6 537.5)"/><ellipse cx="396.3" cy="539.0" rx="3.1" ry="1.4" fill="#8cb67a" transform="rotate(-33 396.3 539.0)"/>
<ellipse cx="610" cy="311.7" rx="5.5" ry="8.0" fill="#9dbd8a"/>
<ellipse cx="613.4" cy="317.6" rx="3.4" ry="1.7" fill="#86ad72" transform="rotate(-4 613.4 317.6)"/><ellipse cx="613.3" cy="306.5" rx="3.4" ry="1.7" fill="#a3c690" transform="rotate(-51 613.3 306.5)"/><ellipse cx="614.0" cy="317.2" rx="2.4" ry="1.2" fill="#6f9a5c" transform="rotate(-6 614.0 317.2)"/><ellipse cx="614.7" cy="309.8" rx="2.2" ry="1.1" fill="#b6d4a4" transform="rotate(-51 614.7 309.8)"/><ellipse cx="608.1" cy="307.6" rx="2.4" ry="1.2" fill="#b6d4a4" transform="rotate(-16 608.1 307.6)"/><ellipse cx="607.0" cy="305.0" rx="3.2" ry="1.6" fill="#86ad72" transform="rotate(6 607.0 305.0)"/><ellipse cx="609.3" cy="306.4" rx="2.8" ry="1.4" fill="#6f9a5c" transform="rotate(-30 609.3 306.4)"/><ellipse cx="607.5" cy="316.5" rx="2.7" ry="1.3" fill="#5c7f4c" transform="rotate(-40 607.5 316.5)"/><ellipse cx="605.7" cy="310.9" rx="2.9" ry="1.4" fill="#a3c690" transform="rotate(-42 605.7 310.9)"/><ellipse cx="605.2" cy="317.3" rx="3.1" ry="1.6" fill="#5c7f4c" transform="rotate(-35 605.2 317.3)"/><ellipse cx="613.7" cy="306.0" rx="3.3" ry="1.6" fill="#5c7f4c" transform="rotate(56 613.7 306.0)"/><ellipse cx="615.4" cy="318.8" rx="3.5" ry="1.7" fill="#b6d4a4" transform="rotate(-48 615.4 318.8)"/><ellipse cx="609.1" cy="306.6" rx="3.4" ry="1.7" fill="#86ad72" transform="rotate(57 609.1 306.6)"/><ellipse cx="615.2" cy="304.5" rx="3.3" ry="1.7" fill="#86ad72" transform="rotate(-19 615.2 304.5)"/><ellipse cx="609.4" cy="315.8" rx="3.5" ry="1.8" fill="#b6d4a4" transform="rotate(-26 609.4 315.8)"/><ellipse cx="609.3" cy="317.6" rx="2.5" ry="1.3" fill="#86ad72" transform="rotate(9 609.3 317.6)"/><ellipse cx="613.7" cy="311.8" rx="2.5" ry="1.3" fill="#a3c690" transform="rotate(-39 613.7 311.8)"/><ellipse cx="605.4" cy="305.5" rx="3.1" ry="1.5" fill="#b6d4a4" transform="rotate(-1 605.4 305.5)"/><ellipse cx="606.5" cy="306.2" rx="3.1" ry="1.6" fill="#86ad72" transform="rotate(15 606.5 306.2)"/><ellipse cx="610.9" cy="307.2" rx="2.3" ry="1.1" fill="#5c7f4c" transform="rotate(28 610.9 307.2)"/><ellipse cx="613.7" cy="317.6" rx="2.9" ry="1.5" fill="#b6d4a4" transform="rotate(-18 613.7 317.6)"/><ellipse cx="613.7" cy="316.9" rx="2.9" ry="1.4" fill="#5c7f4c" transform="rotate(-58 613.7 316.9)"/><ellipse cx="606.0" cy="313.9" rx="2.5" ry="1.3" fill="#b6d4a4" transform="rotate(8 606.0 313.9)"/><ellipse cx="604.9" cy="314.5" rx="3.0" ry="1.5" fill="#b6d4a4" transform="rotate(43 604.9 314.5)"/><ellipse cx="610.2" cy="310.7" rx="2.9" ry="1.5" fill="#86ad72" transform="rotate(-46 610.2 310.7)"/><ellipse cx="613.5" cy="316.9" rx="2.6" ry="1.3" fill="#5c7f4c" transform="rotate(25 613.5 316.9)"/>
<rect x="607" y="316.2" width="6" height="6" fill="#b9dcb0"/>
<ellipse cx="630" cy="311.7" rx="5.5" ry="8.0" fill="#9dbd8a"/>
<ellipse cx="630.8" cy="317.3" rx="2.6" ry="1.3" fill="#5c7f4c" transform="rotate(-47 630.8 317.3)"/><ellipse cx="629.4" cy="304.6" rx="3.3" ry="1.7" fill="#86ad72" transform="rotate(-44 629.4 304.6)"/><ellipse cx="635.1" cy="307.5" rx="2.5" ry="1.2" fill="#b6d4a4" transform="rotate(-48 635.1 307.5)"/><ellipse cx="630.6" cy="318.2" rx="2.2" ry="1.1" fill="#86ad72" transform="rotate(51 630.6 318.2)"/><ellipse cx="627.4" cy="316.5" rx="3.1" ry="1.5" fill="#86ad72" transform="rotate(-4 627.4 316.5)"/><ellipse cx="632.2" cy="305.7" rx="3.4" ry="1.7" fill="#6f9a5c" transform="rotate(26 632.2 305.7)"/><ellipse cx="627.5" cy="311.0" rx="3.0" ry="1.5" fill="#6f9a5c" transform="rotate(31 627.5 311.0)"/><ellipse cx="625.9" cy="310.2" rx="2.4" ry="1.2" fill="#86ad72" transform="rotate(11 625.9 310.2)"/><ellipse cx="626.1" cy="312.6" rx="3.2" ry="1.6" fill="#6f9a5c" transform="rotate(-40 626.1 312.6)"/><ellipse cx="634.8" cy="309.9" rx="2.8" ry="1.4" fill="#a3c690" transform="rotate(41 634.8 309.9)"/><ellipse cx="624.9" cy="318.4" rx="2.3" ry="1.1" fill="#5c7f4c" transform="rotate(-16 624.9 318.4)"/><ellipse cx="627.2" cy="309.1" rx="2.8" ry="1.4" fill="#b6d4a4" transform="rotate(58 627.2 309.1)"/><ellipse cx="633.4" cy="316.6" rx="2.3" ry="1.1" fill="#b6d4a4" transform="rotate(2 633.4 316.6)"/><ellipse cx="627.3" cy="310.4" rx="3.1" ry="1.5" fill="#a3c690" transform="rotate(-16 627.3 310.4)"/><ellipse cx="626.6" cy="309.0" rx="2.5" ry="1.2" fill="#86ad72" transform="rotate(20 626.6 309.0)"/><ellipse cx="626.1" cy="318.4" rx="3.3" ry="1.6" fill="#6f9a5c" transform="rotate(52 626.1 318.4)"/><ellipse cx="633.4" cy="317.1" rx="3.4" ry="1.7" fill="#a3c690" transform="rotate(-56 633.4 317.1)"/><ellipse cx="627.4" cy="314.1" rx="2.6" ry="1.3" fill="#6f9a5c" transform="rotate(5 627.4 314.1)"/><ellipse cx="631.3" cy="307.9" rx="2.9" ry="1.5" fill="#6f9a5c" transform="rotate(-8 631.3 307.9)"/><ellipse cx="627.7" cy="308.7" rx="3.1" ry="1.6" fill="#a3c690" transform="rotate(-46 627.7 308.7)"/><ellipse cx="635.0" cy="317.7" rx="3.5" ry="1.7" fill="#a3c690" transform="rotate(-50 635.0 317.7)"/><ellipse cx="630.4" cy="306.4" rx="2.4" ry="1.2" fill="#b6d4a4" transform="rotate(-44 630.4 306.4)"/><ellipse cx="634.5" cy="312.7" rx="2.6" ry="1.3" fill="#a3c690" transform="rotate(28 634.5 312.7)"/><ellipse cx="627.7" cy="310.9" rx="3.2" ry="1.6" fill="#5c7f4c" transform="rotate(-33 627.7 310.9)"/><ellipse cx="626.7" cy="314.6" rx="2.8" ry="1.4" fill="#a3c690" transform="rotate(6 626.7 314.6)"/><ellipse cx="629.8" cy="316.2" rx="2.2" ry="1.1" fill="#86ad72" transform="rotate(-20 629.8 316.2)"/>
<rect x="627" y="316.2" width="6" height="6" fill="#b9dcb0"/>
<ellipse cx="642" cy="311.7" rx="5.5" ry="8.0" fill="#9dbd8a"/>
<ellipse cx="642.1" cy="309.8" rx="3.0" ry="1.5" fill="#b6d4a4" transform="rotate(-59 642.1 309.8)"/><ellipse cx="638.3" cy="318.1" rx="2.7" ry="1.3" fill="#b6d4a4" transform="rotate(-21 638.3 318.1)"/><ellipse cx="639.7" cy="318.7" rx="2.6" ry="1.3" fill="#86ad72" transform="rotate(33 639.7 318.7)"/><ellipse cx="642.6" cy="313.1" rx="2.7" ry="1.3" fill="#a3c690" transform="rotate(19 642.6 313.1)"/><ellipse cx="640.8" cy="310.7" rx="3.2" ry="1.6" fill="#86ad72" transform="rotate(-47 640.8 310.7)"/><ellipse cx="647.3" cy="314.1" rx="3.5" ry="1.8" fill="#b6d4a4" transform="rotate(-10 647.3 314.1)"/><ellipse cx="638.1" cy="307.2" rx="3.1" ry="1.5" fill="#a3c690" transform="rotate(-27 638.1 307.2)"/><ellipse cx="637.6" cy="316.7" rx="3.5" ry="1.7" fill="#b6d4a4" transform="rotate(59 637.6 316.7)"/><ellipse cx="645.1" cy="314.6" rx="3.5" ry="1.7" fill="#6f9a5c" transform="rotate(-45 645.1 314.6)"/><ellipse cx="636.6" cy="315.4" rx="3.0" ry="1.5" fill="#a3c690" transform="rotate(-0 636.6 315.4)"/><ellipse cx="638.2" cy="316.6" rx="2.6" ry="1.3" fill="#6f9a5c" transform="rotate(15 638.2 316.6)"/><ellipse cx="640.7" cy="310.8" rx="2.8" ry="1.4" fill="#b6d4a4" transform="rotate(27 640.7 310.8)"/><ellipse cx="640.4" cy="311.9" rx="3.0" ry="1.5" fill="#6f9a5c" transform="rotate(18 640.4 311.9)"/><ellipse cx="645.1" cy="316.6" rx="2.9" ry="1.4" fill="#86ad72" transform="rotate(-7 645.1 316.6)"/><ellipse cx="642.4" cy="316.0" rx="2.8" ry="1.4" fill="#86ad72" transform="rotate(-15 642.4 316.0)"/><ellipse cx="637.5" cy="317.7" rx="2.7" ry="1.3" fill="#86ad72" transform="rotate(41 637.5 317.7)"/><ellipse cx="647.0" cy="307.2" rx="2.8" ry="1.4" fill="#6f9a5c" transform="rotate(49 647.0 307.2)"/><ellipse cx="636.8" cy="308.0" rx="3.5" ry="1.7" fill="#a3c690" transform="rotate(-24 636.8 308.0)"/><ellipse cx="645.0" cy="312.1" rx="3.6" ry="1.8" fill="#a3c690" transform="rotate(2 645.0 312.1)"/><ellipse cx="644.5" cy="310.5" rx="2.8" ry="1.4" fill="#b6d4a4" transform="rotate(-55 644.5 310.5)"/><ellipse cx="641.5" cy="304.4" rx="2.3" ry="1.1" fill="#5c7f4c" transform="rotate(-32 641.5 304.4)"/><ellipse cx="640.6" cy="310.1" rx="3.0" ry="1.5" fill="#86ad72" transform="rotate(9 640.6 310.1)"/><ellipse cx="647.1" cy="311.3" rx="2.8" ry="1.4" fill="#a3c690" transform="rotate(15 647.1 311.3)"/><ellipse cx="640.3" cy="312.0" rx="3.3" ry="1.7" fill="#b6d4a4" transform="rotate(-40 640.3 312.0)"/><ellipse cx="640.5" cy="305.3" rx="2.6" ry="1.3" fill="#b6d4a4" transform="rotate(-39 640.5 305.3)"/><ellipse cx="644.1" cy="316.2" rx="3.6" ry="1.8" fill="#5c7f4c" transform="rotate(47 644.1 316.2)"/>
<rect x="639" y="316.2" width="6" height="6" fill="#b9dcb0"/>
<ellipse cx="654" cy="311.7" rx="5.5" ry="8.0" fill="#9dbd8a"/>
<ellipse cx="655.4" cy="311.9" rx="3.3" ry="1.7" fill="#86ad72" transform="rotate(-35 655.4 311.9)"/><ellipse cx="653.0" cy="305.1" rx="3.0" ry="1.5" fill="#a3c690" transform="rotate(-47 653.0 305.1)"/><ellipse cx="659.4" cy="313.5" rx="2.3" ry="1.1" fill="#6f9a5c" transform="rotate(-11 659.4 313.5)"/><ellipse cx="651.9" cy="314.3" rx="2.2" ry="1.1" fill="#6f9a5c" transform="rotate(-23 651.9 314.3)"/><ellipse cx="654.9" cy="314.0" rx="2.5" ry="1.2" fill="#a3c690" transform="rotate(-0 654.9 314.0)"/><ellipse cx="654.7" cy="317.0" rx="3.5" ry="1.7" fill="#86ad72" transform="rotate(2 654.7 317.0)"/><ellipse cx="654.8" cy="310.2" rx="2.4" ry="1.2" fill="#a3c690" transform="rotate(-41 654.8 310.2)"/><ellipse cx="649.7" cy="305.7" rx="2.4" ry="1.2" fill="#5c7f4c" transform="rotate(3 649.7 305.7)"/><ellipse cx="655.2" cy="316.0" rx="2.3" ry="1.1" fill="#a3c690" transform="rotate(-59 655.2 316.0)"/><ellipse cx="652.1" cy="314.7" rx="2.7" ry="1.3" fill="#b6d4a4" transform="rotate(-40 652.1 314.7)"/><ellipse cx="655.4" cy="316.8" rx="3.5" ry="1.8" fill="#86ad72" transform="rotate(-52 655.4 316.8)"/><ellipse cx="653.5" cy="309.9" rx="2.3" ry="1.1" fill="#a3c690" transform="rotate(47 653.5 309.9)"/><ellipse cx="656.9" cy="304.9" rx="2.3" ry="1.1" fill="#86ad72" transform="rotate(-31 656.9 304.9)"/><ellipse cx="649.0" cy="317.8" rx="3.4" ry="1.7" fill="#5c7f4c" transform="rotate(-22 649.0 317.8)"/><ellipse cx="651.9" cy="313.0" rx="3.5" ry="1.8" fill="#6f9a5c" transform="rotate(-1 651.9 313.0)"/><ellipse cx="651.2" cy="309.9" rx="3.2" ry="1.6" fill="#b6d4a4" transform="rotate(-33 651.2 309.9)"/><ellipse cx="652.9" cy="314.6" rx="2.2" ry="1.1" fill="#6f9a5c" transform="rotate(44 652.9 314.6)"/><ellipse cx="650.4" cy="309.5" rx="2.5" ry="1.2" fill="#b6d4a4" transform="rotate(57 650.4 309.5)"/><ellipse cx="652.9" cy="309.5" rx="2.7" ry="1.3" fill="#b6d4a4" transform="rotate(45 652.9 309.5)"/><ellipse cx="652.9" cy="305.2" rx="2.4" ry="1.2" fill="#b6d4a4" transform="rotate(39 652.9 305.2)"/><ellipse cx="654.6" cy="309.9" rx="2.9" ry="1.4" fill="#5c7f4c" transform="rotate(-19 654.6 309.9)"/><ellipse cx="648.9" cy="313.9" rx="2.7" ry="1.3" fill="#86ad72" transform="rotate(-41 648.9 313.9)"/><ellipse cx="649.6" cy="308.2" rx="3.4" ry="1.7" fill="#5c7f4c" transform="rotate(-45 649.6 308.2)"/><ellipse cx="653.6" cy="315.8" rx="2.5" ry="1.3" fill="#86ad72" transform="rotate(-16 653.6 315.8)"/><ellipse cx="656.4" cy="309.7" rx="3.5" ry="1.8" fill="#5c7f4c" transform="rotate(-35 656.4 309.7)"/><ellipse cx="654.1" cy="307.5" rx="2.8" ry="1.4" fill="#b6d4a4" transform="rotate(-44 654.1 307.5)"/>
<rect x="651" y="316.2" width="6" height="6" fill="#b9dcb0"/>
<rect x="651" y="314" width="7" height="8" fill="#bbb" stroke="#333" stroke-width="0.8"/>
<ellipse cx="610" cy="386.5" rx="5.5" ry="8.0" fill="#9dbd8a"/>
<ellipse cx="611.0" cy="385.5" rx="3.6" ry="1.8" fill="#5c7f4c" transform="rotate(4 611.0 385.5)"/><ellipse cx="611.2" cy="382.1" rx="3.4" ry="1.7" fill="#a3c690" transform="rotate(-45 611.2 382.1)"/><ellipse cx="605.5" cy="391.5" rx="3.2" ry="1.6" fill="#6f9a5c" transform="rotate(32 605.5 391.5)"/><ellipse cx="611.7" cy="387.3" rx="2.6" ry="1.3" fill="#6f9a5c" transform="rotate(-13 611.7 387.3)"/><ellipse cx="612.1" cy="390.4" rx="2.5" ry="1.3" fill="#6f9a5c" transform="rotate(-37 612.1 390.4)"/><ellipse cx="605.3" cy="392.4" rx="3.3" ry="1.7" fill="#86ad72" transform="rotate(31 605.3 392.4)"/><ellipse cx="605.3" cy="383.6" rx="2.5" ry="1.3" fill="#5c7f4c" transform="rotate(-45 605.3 383.6)"/><ellipse cx="607.6" cy="384.9" rx="3.5" ry="1.7" fill="#86ad72" transform="rotate(33 607.6 384.9)"/><ellipse cx="614.8" cy="381.6" rx="2.7" ry="1.4" fill="#b6d4a4" transform="rotate(36 614.8 381.6)"/><ellipse cx="614.3" cy="379.4" rx="3.2" ry="1.6" fill="#5c7f4c" transform="rotate(-4 614.3 379.4)"/><ellipse cx="608.4" cy="388.2" rx="2.5" ry="1.2" fill="#a3c690" transform="rotate(-46 608.4 388.2)"/><ellipse cx="612.6" cy="389.4" rx="2.3" ry="1.1" fill="#86ad72" transform="rotate(-55 612.6 389.4)"/><ellipse cx="609.2" cy="390.1" rx="2.4" ry="1.2" fill="#a3c690" transform="rotate(29 609.2 390.1)"/><ellipse cx="607.9" cy="388.4" rx="2.5" ry="1.2" fill="#a3c690" transform="rotate(41 607.9 388.4)"/><ellipse cx="610.0" cy="386.6" rx="3.5" ry="1.7" fill="#a3c690" transform="rotate(20 610.0 386.6)"/><ellipse cx="608.4" cy="379.0" rx="3.4" ry="1.7" fill="#b6d4a4" transform="rotate(33 608.4 379.0)"/><ellipse cx="614.4" cy="391.8" rx="3.0" ry="1.5" fill="#86ad72" transform="rotate(24 614.4 391.8)"/><ellipse cx="612.0" cy="379.6" rx="2.6" ry="1.3" fill="#b6d4a4" transform="rotate(33 612.0 379.6)"/><ellipse cx="612.7" cy="380.3" rx="3.2" ry="1.6" fill="#a3c690" transform="rotate(-13 612.7 380.3)"/><ellipse cx="613.6" cy="383.1" rx="2.3" ry="1.2" fill="#5c7f4c" transform="rotate(54 613.6 383.1)"/><ellipse cx="609.4" cy="384.0" rx="2.9" ry="1.5" fill="#5c7f4c" transform="rotate(23 609.4 384.0)"/><ellipse cx="610.1" cy="388.9" rx="2.5" ry="1.2" fill="#86ad72" transform="rotate(21 610.1 388.9)"/><ellipse cx="609.9" cy="381.8" rx="3.5" ry="1.8" fill="#a3c690" transform="rotate(39 609.9 381.8)"/><ellipse cx="607.4" cy="387.0" rx="3.6" ry="1.8" fill="#a3c690" transform="rotate(17 607.4 387.0)"/><ellipse cx="607.4" cy="393.1" rx="2.4" ry="1.2" fill="#6f9a5c" transform="rotate(-18 607.4 393.1)"/><ellipse cx="606.7" cy="383.6" rx="2.4" ry="1.2" fill="#5c7f4c" transform="rotate(25 606.7 383.6)"/>
<rect x="607" y="391" width="6" height="6" fill="#b9dcb0"/>
<ellipse cx="630" cy="386.5" rx="5.5" ry="8.0" fill="#9dbd8a"/>
<ellipse cx="627.1" cy="382.6" rx="2.9" ry="1.5" fill="#b6d4a4" transform="rotate(-7 627.1 382.6)"/><ellipse cx="632.2" cy="381.0" rx="3.2" ry="1.6" fill="#86ad72" transform="rotate(11 632.2 381.0)"/><ellipse cx="628.2" cy="390.9" rx="3.0" ry="1.5" fill="#86ad72" transform="rotate(31 628.2 390.9)"/><ellipse cx="631.9" cy="381.3" rx="3.6" ry="1.8" fill="#5c7f4c" transform="rotate(41 631.9 381.3)"/><ellipse cx="633.6" cy="380.7" rx="2.6" ry="1.3" fill="#86ad72" transform="rotate(-17 633.6 380.7)"/><ellipse cx="625.0" cy="392.1" rx="2.6" ry="1.3" fill="#b6d4a4" transform="rotate(-47 625.0 392.1)"/><ellipse cx="629.4" cy="380.7" rx="2.7" ry="1.3" fill="#b6d4a4" transform="rotate(-4 629.4 380.7)"/><ellipse cx="627.7" cy="387.2" rx="2.3" ry="1.1" fill="#5c7f4c" transform="rotate(-4 627.7 387.2)"/><ellipse cx="625.5" cy="389.5" rx="3.6" ry="1.8" fill="#6f9a5c" transform="rotate(8 625.5 389.5)"/><ellipse cx="631.6" cy="393.0" rx="2.9" ry="1.4" fill="#b6d4a4" transform="rotate(34 631.6 393.0)"/><ellipse cx="624.6" cy="392.5" rx="3.1" ry="1.6" fill="#b6d4a4" transform="rotate(15 624.6 392.5)"/><ellipse cx="631.7" cy="380.2" rx="3.2" ry="1.6" fill="#5c7f4c" transform="rotate(-57 631.7 380.2)"/><ellipse cx="633.7" cy="383.4" rx="2.5" ry="1.2" fill="#86ad72" transform="rotate(17 633.7 383.4)"/><ellipse cx="625.7" cy="389.5" rx="2.6" ry="1.3" fill="#5c7f4c" transform="rotate(14 625.7 389.5)"/><ellipse cx="626.6" cy="391.1" rx="2.6" ry="1.3" fill="#a3c690" transform="rotate(-16 626.6 391.1)"/><ellipse cx="634.6" cy="391.3" rx="2.6" ry="1.3" fill="#6f9a5c" transform="rotate(-53 634.6 391.3)"/><ellipse cx="630.7" cy="388.2" rx="3.3" ry="1.7" fill="#6f9a5c" transform="rotate(25 630.7 388.2)"/><ellipse cx="634.9" cy="386.2" rx="2.9" ry="1.4" fill="#b6d4a4" transform="rotate(-41 634.9 386.2)"/><ellipse cx="631.1" cy="388.2" rx="2.4" ry="1.2" fill="#86ad72" transform="rotate(-33 631.1 388.2)"/><ellipse cx="629.4" cy="393.2" rx="2.3" ry="1.2" fill="#5c7f4c" transform="rotate(-55 629.4 393.2)"/><ellipse cx="629.8" cy="382.2" rx="2.7" ry="1.4" fill="#a3c690" transform="rotate(-56 629.8 382.2)"/><ellipse cx="633.9" cy="390.5" rx="2.8" ry="1.4" fill="#6f9a5c" transform="rotate(-26 633.9 390.5)"/><ellipse cx="630.2" cy="385.2" rx="2.7" ry="1.3" fill="#86ad72" transform="rotate(-7 630.2 385.2)"/><ellipse cx="634.4" cy="381.4" rx="2.6" ry="1.3" fill="#a3c690" transform="rotate(-7 634.4 381.4)"/><ellipse cx="631.9" cy="387.3" rx="2.9" ry="1.4" fill="#a3c690" transform="rotate(5 631.9 387.3)"/><ellipse cx="629.6" cy="393.2" rx="3.5" ry="1.7" fill="#5c7f4c" transform="rotate(44 629.6 393.2)"/>
<rect x="627" y="391" width="6" height="6" fill="#b9dcb0"/>
<ellipse cx="642" cy="386.5" rx="5.5" ry="8.0" fill="#9dbd8a"/>
<ellipse cx="647.0" cy="388.1" rx="3.3" ry="1.7" fill="#b6d4a4" transform="rotate(-53 647.0 388.1)"/><ellipse cx="643.2" cy="383.4" rx="3.0" ry="1.5" fill="#5c7f4c" transform="rotate(54 643.2 383.4)"/><ellipse cx="643.7" cy="381.0" rx="3.4" ry="1.7" fill="#6f9a5c" transform="rotate(4 643.7 381.0)"/><ellipse cx="645.8" cy="382.3" rx="3.2" ry="1.6" fill="#86ad72" transform="rotate(23 645.8 382.3)"/><ellipse cx="643.8" cy="384.5" rx="3.0" ry="1.5" fill="#a3c690" transform="rotate(-10 643.8 384.5)"/><ellipse cx="639.2" cy="385.5" rx="2.6" ry="1.3" fill="#86ad72" transform="rotate(-33 639.2 385.5)"/><ellipse cx="642.5" cy="380.7" rx="3.4" ry="1.7" fill="#6f9a5c" transform="rotate(-30 642.5 380.7)"/><ellipse cx="638.6" cy="388.8" rx="3.2" ry="1.6" fill="#5c7f4c" transform="rotate(-33 638.6 388.8)"/><ellipse cx="639.0" cy="387.4" rx="2.4" ry="1.2" fill="#a3c690" transform="rotate(2 639.0 387.4)"/><ellipse cx="642.7" cy="391.5" rx="3.2" ry="1.6" fill="#86ad72" transform="rotate(36 642.7 391.5)"/><ellipse cx="646.0" cy="387.1" rx="3.2" ry="1.6" fill="#6f9a5c" transform="rotate(31 646.0 387.1)"/><ellipse cx="643.4" cy="393.1" rx="2.9" ry="1.5" fill="#5c7f4c" transform="rotate(-5 643.4 393.1)"/><ellipse cx="642.5" cy="393.2" rx="2.5" ry="1.2" fill="#6f9a5c" transform="rotate(-3 642.5 393.2)"/><ellipse cx="638.0" cy="390.4" rx="2.3" ry="1.1" fill="#b6d4a4" transform="rotate(-32 638.0 390.4)"/><ellipse cx="637.0" cy="389.3" rx="3.5" ry="1.8" fill="#6f9a5c" transform="rotate(-5 637.0 389.3)"/><ellipse cx="644.3" cy="385.2" rx="3.4" ry="1.7" fill="#86ad72" transform="rotate(15 644.3 385.2)"/><ellipse cx="642.7" cy="392.4" rx="3.4" ry="1.7" fill="#b6d4a4" transform="rotate(-40 642.7 392.4)"/><ellipse cx="645.3" cy="389.8" rx="2.2" ry="1.1" fill="#86ad72" transform="rotate(-29 645.3 389.8)"/><ellipse cx="640.6" cy="389.8" rx="3.5" ry="1.8" fill="#6f9a5c" transform="rotate(27 640.6 389.8)"/><ellipse cx="645.5" cy="384.2" rx="2.7" ry="1.3" fill="#a3c690" transform="rotate(-21 645.5 384.2)"/><ellipse cx="637.8" cy="392.5" rx="3.1" ry="1.6" fill="#86ad72" transform="rotate(-29 637.8 392.5)"/><ellipse cx="644.1" cy="379.3" rx="3.6" ry="1.8" fill="#6f9a5c" transform="rotate(-7 644.1 379.3)"/><ellipse cx="641.9" cy="380.1" rx="2.6" ry="1.3" fill="#b6d4a4" transform="rotate(-42 641.9 380.1)"/><ellipse cx="646.1" cy="388.8" rx="3.4" ry="1.7" fill="#b6d4a4" transform="rotate(11 646.1 388.8)"/><ellipse cx="642.4" cy="389.1" rx="3.3" ry="1.7" fill="#6f9a5c" transform="rotate(54 642.4 389.1)"/><ellipse cx="636.8" cy="393.6" rx="2.9" ry="1.4" fill="#6f9a5c" transform="rotate(-2 636.8 393.6)"/>
<rect x="639" y="391" width="6" height="6" fill="#b9dcb0"/>
<ellipse cx="654" cy="386.5" rx="5.5" ry="8.0" fill="#9dbd8a"/>
<ellipse cx="657.3" cy="379.5" rx="2.5" ry="1.2" fill="#a3c690" transform="rotate(38 657.3 379.5)"/><ellipse cx="652.8" cy="386.0" rx="2.4" ry="1.2" fill="#5c7f4c" transform="rotate(41 652.8 386.0)"/><ellipse cx="651.0" cy="393.0" rx="2.9" ry="1.5" fill="#a3c690" transform="rotate(-17 651.0 393.0)"/><ellipse cx="650.9" cy="392.1" rx="3.0" ry="1.5" fill="#86ad72" transform="rotate(-55 650.9 392.1)"/><ellipse cx="657.5" cy="389.7" rx="2.7" ry="1.3" fill="#b6d4a4" transform="rotate(-4 657.5 389.7)"/><ellipse cx="652.0" cy="383.9" rx="2.9" ry="1.4" fill="#86ad72" transform="rotate(-33 652.0 383.9)"/><ellipse cx="653.6" cy="393.4" rx="2.3" ry="1.1" fill="#86ad72" transform="rotate(-43 653.6 393.4)"/><ellipse cx="651.5" cy="383.0" rx="2.9" ry="1.5" fill="#a3c690" transform="rotate(-29 651.5 383.0)"/><ellipse cx="654.8" cy="387.6" rx="2.4" ry="1.2" fill="#a3c690" transform="rotate(24 654.8 387.6)"/><ellipse cx="658.4" cy="380.4" rx="2.5" ry="1.2" fill="#a3c690" transform="rotate(-9 658.4 380.4)"/><ellipse cx="655.5" cy="384.3" rx="2.6" ry="1.3" fill="#86ad72" transform="rotate(35 655.5 384.3)"/><ellipse cx="656.0" cy="383.5" rx="3.3" ry="1.6" fill="#a3c690" transform="rotate(29 656.0 383.5)"/><ellipse cx="657.9" cy="382.6" rx="3.4" ry="1.7" fill="#b6d4a4" transform="rotate(26 657.9 382.6)"/><ellipse cx="649.2" cy="384.0" rx="2.7" ry="1.3" fill="#5c7f4c" transform="rotate(59 649.2 384.0)"/><ellipse cx="654.0" cy="392.1" rx="3.3" ry="1.7" fill="#86ad72" transform="rotate(60 654.0 392.1)"/><ellipse cx="650.0" cy="379.1" rx="3.4" ry="1.7" fill="#5c7f4c" transform="rotate(-6 650.0 379.1)"/><ellipse cx="652.9" cy="390.3" rx="3.5" ry="1.8" fill="#86ad72" transform="rotate(10 652.9 390.3)"/><ellipse cx="651.8" cy="383.5" rx="3.2" ry="1.6" fill="#b6d4a4" transform="rotate(6 651.8 383.5)"/><ellipse cx="649.3" cy="381.8" rx="3.5" ry="1.7" fill="#b6d4a4" transform="rotate(10 649.3 381.8)"/><ellipse cx="654.9" cy="393.5" rx="2.7" ry="1.3" fill="#5c7f4c" transform="rotate(33 654.9 393.5)"/><ellipse cx="656.4" cy="392.5" rx="3.4" ry="1.7" fill="#86ad72" transform="rotate(-22 656.4 392.5)"/><ellipse cx="651.6" cy="382.8" rx="2.2" ry="1.1" fill="#b6d4a4" transform="rotate(-40 651.6 382.8)"/><ellipse cx="651.1" cy="379.3" rx="2.3" ry="1.1" fill="#a3c690" transform="rotate(-6 651.1 379.3)"/><ellipse cx="651.6" cy="386.4" rx="2.3" ry="1.2" fill="#6f9a5c" transform="rotate(-31 651.6 386.4)"/><ellipse cx="659.1" cy="387.8" rx="2.3" ry="1.2" fill="#a3c690" transform="rotate(37 659.1 387.8)"/><ellipse cx="652.3" cy="381.0" rx="2.5" ry="1.2" fill="#6f9a5c" transform="rotate(4 652.3 381.0)"/>
<rect x="651" y="391" width="6" height="6" fill="#b9dcb0"/>
<rect x="651" y="389" width="7" height="8" fill="#bbb" stroke="#333" stroke-width="0.8"/>
<ellipse cx="621.5" cy="463.5" rx="5.9" ry="6.6" fill="#9dbd8a"/>
<ellipse cx="623.1" cy="468.5" rx="2.5" ry="1.2" fill="#6f9a5c" transform="rotate(-21 623.1 468.5)"/><ellipse cx="623.3" cy="462.2" rx="3.2" ry="1.6" fill="#6f9a5c" transform="rotate(-19 623.3 462.2)"/><ellipse cx="625.8" cy="466.9" rx="2.3" ry="1.2" fill="#5c7f4c" transform="rotate(14 625.8 466.9)"/><ellipse cx="627.2" cy="462.2" rx="3.5" ry="1.8" fill="#6f9a5c" transform="rotate(45 627.2 462.2)"/><ellipse cx="626.5" cy="464.1" rx="3.6" ry="1.8" fill="#a3c690" transform="rotate(-53 626.5 464.1)"/><ellipse cx="624.0" cy="467.4" rx="2.4" ry="1.2" fill="#86ad72" transform="rotate(-58 624.0 467.4)"/><ellipse cx="617.3" cy="466.6" rx="2.3" ry="1.2" fill="#5c7f4c" transform="rotate(38 617.3 466.6)"/><ellipse cx="619.7" cy="465.5" rx="3.4" ry="1.7" fill="#a3c690" transform="rotate(-42 619.7 465.5)"/><ellipse cx="622.4" cy="460.1" rx="3.1" ry="1.5" fill="#5c7f4c" transform="rotate(38 622.4 460.1)"/><ellipse cx="624.6" cy="466.7" rx="2.6" ry="1.3" fill="#5c7f4c" transform="rotate(33 624.6 466.7)"/><ellipse cx="622.2" cy="461.7" rx="2.9" ry="1.5" fill="#b6d4a4" transform="rotate(-27 622.2 461.7)"/><ellipse cx="615.7" cy="463.1" rx="3.1" ry="1.6" fill="#b6d4a4" transform="rotate(33 615.7 463.1)"/><ellipse cx="617.4" cy="464.9" rx="2.8" ry="1.4" fill="#6f9a5c" transform="rotate(57 617.4 464.9)"/><ellipse cx="623.0" cy="458.8" rx="3.0" ry="1.5" fill="#86ad72" transform="rotate(-35 623.0 458.8)"/><ellipse cx="618.7" cy="464.6" rx="3.2" ry="1.6" fill="#86ad72" transform="rotate(48 618.7 464.6)"/><ellipse cx="621.8" cy="461.6" rx="3.2" ry="1.6" fill="#5c7f4c" transform="rotate(-7 621.8 461.6)"/><ellipse cx="618.1" cy="468.3" rx="3.5" ry="1.7" fill="#86ad72" transform="rotate(-13 618.1 468.3)"/><ellipse cx="619.4" cy="468.2" rx="2.4" ry="1.2" fill="#6f9a5c" transform="rotate(28 619.4 468.2)"/><ellipse cx="625.1" cy="468.3" rx="3.1" ry="1.6" fill="#86ad72" transform="rotate(-18 625.1 468.3)"/><ellipse cx="622.3" cy="462.3" rx="3.5" ry="1.7" fill="#86ad72" transform="rotate(53 622.3 462.3)"/><ellipse cx="616.0" cy="457.6" rx="3.2" ry="1.6" fill="#b6d4a4" transform="rotate(-31 616.0 457.6)"/><ellipse cx="618.0" cy="466.5" rx="3.1" ry="1.5" fill="#5c7f4c" transform="rotate(-24 618.0 466.5)"/><ellipse cx="618.2" cy="464.2" rx="2.4" ry="1.2" fill="#b6d4a4" transform="rotate(44 618.2 464.2)"/><ellipse cx="626.8" cy="459.0" rx="2.6" ry="1.3" fill="#6f9a5c" transform="rotate(-49 626.8 459.0)"/><ellipse cx="621.3" cy="468.1" rx="2.4" ry="1.2" fill="#a3c690" transform="rotate(22 621.3 468.1)"/><ellipse cx="626.9" cy="459.9" rx="2.3" ry="1.1" fill="#b6d4a4" transform="rotate(34 626.9 459.9)"/>
<rect x="618.5" y="466.5" width="6" height="6" fill="#b9dcb0"/>
<ellipse cx="621.5" cy="501.0" rx="5.9" ry="6.6" fill="#9dbd8a"/>
<ellipse cx="616.2" cy="504.2" rx="2.8" ry="1.4" fill="#86ad72" transform="rotate(-8 616.2 504.2)"/><ellipse cx="627.3" cy="498.4" rx="2.2" ry="1.1" fill="#6f9a5c" transform="rotate(-47 627.3 498.4)"/><ellipse cx="617.2" cy="498.5" rx="2.9" ry="1.5" fill="#86ad72" transform="rotate(-18 617.2 498.5)"/><ellipse cx="621.1" cy="499.6" rx="2.8" ry="1.4" fill="#5c7f4c" transform="rotate(17 621.1 499.6)"/><ellipse cx="626.0" cy="506.6" rx="2.2" ry="1.1" fill="#6f9a5c" transform="rotate(-32 626.0 506.6)"/><ellipse cx="616.1" cy="500.9" rx="2.5" ry="1.3" fill="#6f9a5c" transform="rotate(-8 616.1 500.9)"/><ellipse cx="624.2" cy="495.4" rx="3.5" ry="1.7" fill="#6f9a5c" transform="rotate(-52 624.2 495.4)"/><ellipse cx="617.0" cy="500.7" rx="2.4" ry="1.2" fill="#86ad72" transform="rotate(-9 617.0 500.7)"/><ellipse cx="618.3" cy="501.3" rx="3.1" ry="1.5" fill="#6f9a5c" transform="rotate(5 618.3 501.3)"/><ellipse cx="621.9" cy="504.9" rx="3.5" ry="1.8" fill="#86ad72" transform="rotate(-51 621.9 504.9)"/><ellipse cx="625.7" cy="506.5" rx="2.5" ry="1.3" fill="#86ad72" transform="rotate(-51 625.7 506.5)"/><ellipse cx="615.8" cy="498.1" rx="3.6" ry="1.8" fill="#6f9a5c" transform="rotate(-36 615.8 498.1)"/><ellipse cx="620.4" cy="501.5" rx="2.7" ry="1.4" fill="#6f9a5c" transform="rotate(-59 620.4 501.5)"/><ellipse cx="623.3" cy="501.4" rx="3.0" ry="1.5" fill="#b6d4a4" transform="rotate(23 623.3 501.4)"/><ellipse cx="620.3" cy="498.7" rx="2.8" ry="1.4" fill="#5c7f4c" transform="rotate(57 620.3 498.7)"/><ellipse cx="624.6" cy="505.5" rx="3.3" ry="1.7" fill="#6f9a5c" transform="rotate(48 624.6 505.5)"/><ellipse cx="618.4" cy="500.9" rx="3.6" ry="1.8" fill="#5c7f4c" transform="rotate(23 618.4 500.9)"/><ellipse cx="627.3" cy="504.8" rx="3.1" ry="1.6" fill="#a3c690" transform="rotate(-50 627.3 504.8)"/><ellipse cx="624.8" cy="505.8" rx="2.3" ry="1.1" fill="#b6d4a4" transform="rotate(23 624.8 505.8)"/><ellipse cx="623.7" cy="500.2" rx="3.1" ry="1.6" fill="#a3c690" transform="rotate(-5 623.7 500.2)"/><ellipse cx="615.6" cy="503.8" rx="3.4" ry="1.7" fill="#a3c690" transform="rotate(1 615.6 503.8)"/><ellipse cx="622.0" cy="499.4" rx="3.4" ry="1.7" fill="#5c7f4c" transform="rotate(35 622.0 499.4)"/><ellipse cx="619.8" cy="495.6" rx="3.6" ry="1.8" fill="#b6d4a4" transform="rotate(-28 619.8 495.6)"/><ellipse cx="616.5" cy="504.4" rx="3.1" ry="1.6" fill="#b6d4a4" transform="rotate(51 616.5 504.4)"/><ellipse cx="618.7" cy="505.0" rx="3.4" ry="1.7" fill="#a3c690" transform="rotate(-18 618.7 505.0)"/><ellipse cx="621.2" cy="497.5" rx="2.4" ry="1.2" fill="#a3c690" transform="rotate(51 621.2 497.5)"/>
<rect x="618.5" y="504" width="6" height="6" fill="#b9dcb0"/>
<path d="M252.1 595.5 L251.3 587.6 L254.5 595.5 Z" fill="#9cc98a"/><path d="M245.4 595.5 L248.6 587.9 L247.8 595.5 Z" fill="#d3e6b0"/><path d="M242.2 595.5 L245.6 581.9 L244.6 595.5 Z" fill="#c5de9a"/><path d="M249.9 595.5 L253.2 586.4 L252.3 595.5 Z" fill="#d3e6b0"/><path d="M239.3 595.5 L239.0 588.0 L241.7 595.5 Z" fill="#c5de9a"/><path d="M252.1 595.5 L253.5 584.1 L254.5 595.5 Z" fill="#9cc98a"/><path d="M256.8 595.5 L257.4 588.5 L259.2 595.5 Z" fill="#d3e6b0"/><path d="M269.6 595.5 L270.7 585.7 L272.0 595.5 Z" fill="#b4d38a"/><path d="M273.0 595.5 L275.3 588.0 L275.4 595.5 Z" fill="#9cc98a"/><path d="M258.7 595.5 L260.6 584.1 L261.1 595.5 Z" fill="#9cc98a"/><path d="M275.3 595.5 L276.8 587.3 L277.7 595.5 Z" fill="#c5de9a"/><path d="M263.0 595.5 L262.3 588.8 L265.4 595.5 Z" fill="#9cc98a"/><path d="M281.4 595.5 L281.2 587.2 L283.8 595.5 Z" fill="#d3e6b0"/><path d="M237.6 595.5 L241.0 584.3 L240.0 595.5 Z" fill="#b4d38a"/><path d="M239.6 595.5 L239.5 581.8 L242.0 595.5 Z" fill="#9cc98a"/><path d="M281.6 595.5 L282.0 583.7 L284.0 595.5 Z" fill="#c5de9a"/><path d="M270.6 595.5 L271.2 586.9 L273.0 595.5 Z" fill="#9cc98a"/><path d="M251.5 595.5 L253.1 586.2 L253.9 595.5 Z" fill="#b4d38a"/><path d="M284.6 595.5 L286.3 582.6 L287.0 595.5 Z" fill="#c5de9a"/><path d="M268.1 595.5 L266.7 586.7 L270.5 595.5 Z" fill="#d3e6b0"/><path d="M252.9 595.5 L254.1 585.2 L255.3 595.5 Z" fill="#c5de9a"/><path d="M238.5 595.5 L242.3 584.9 L240.9 595.5 Z" fill="#d3e6b0"/><path d="M254.8 595.5 L258.3 585.6 L257.2 595.5 Z" fill="#d3e6b0"/><path d="M253.9 595.5 L256.6 588.2 L256.3 595.5 Z" fill="#c5de9a"/><path d="M268.3 595.5 L268.9 583.5 L270.7 595.5 Z" fill="#c5de9a"/><path d="M281.9 595.5 L282.0 586.9 L284.3 595.5 Z" fill="#d3e6b0"/><path d="M273.6 595.5 L273.1 588.3 L276.0 595.5 Z" fill="#c5de9a"/><path d="M263.1 595.5 L264.2 589.1 L265.5 595.5 Z" fill="#b4d38a"/><path d="M262.7 595.5 L265.0 588.8 L265.1 595.5 Z" fill="#9cc98a"/><path d="M258.4 595.5 L260.7 588.8 L260.8 595.5 Z" fill="#d3e6b0"/><path d="M277.5 595.5 L278.2 588.1 L279.9 595.5 Z" fill="#c5de9a"/><path d="M279.0 595.5 L279.2 588.1 L281.4 595.5 Z" fill="#c5de9a"/><path d="M242.7 595.5 L244.0 585.1 L245.1 595.5 Z" fill="#c5de9a"/><path d="M249.4 595.5 L252.7 587.2 L251.8 595.5 Z" fill="#d3e6b0"/><path d="M259.9 595.5 L258.4 586.0 L262.3 595.5 Z" fill="#9cc98a"/><path d="M246.0 595.5 L246.8 586.3 L248.4 595.5 Z" fill="#9cc98a"/><path d="M249.0 595.5 L248.4 588.2 L251.4 595.5 Z" fill="#9cc98a"/><path d="M282.2 595.5 L284.7 584.1 L284.6 595.5 Z" fill="#b4d38a"/><path d="M252.2 595.5 L251.6 583.0 L254.6 595.5 Z" fill="#c5de9a"/><path d="M271.5 595.5 L270.1 589.1 L273.9 595.5 Z" fill="#9cc98a"/><path d="M234.7 595.5 L235.5 587.5 L237.1 595.5 Z" fill="#b4d38a"/><path d="M270.5 595.5 L272.2 583.0 L272.9 595.5 Z" fill="#d3e6b0"/><path d="M254.3 595.5 L253.7 583.6 L256.7 595.5 Z" fill="#b4d38a"/><path d="M235.9 595.5 L237.9 585.9 L238.3 595.5 Z" fill="#c5de9a"/><path d="M240.1 595.5 L243.1 582.4 L242.5 595.5 Z" fill="#d3e6b0"/><path d="M242.3 595.5 L243.9 582.1 L244.7 595.5 Z" fill="#b4d38a"/><path d="M259.2 595.5 L261.5 584.0 L261.6 595.5 Z" fill="#9cc98a"/><path d="M275.3 595.5 L274.5 585.1 L277.7 595.5 Z" fill="#b4d38a"/><path d="M260.2 595.5 L259.6 585.6 L262.6 595.5 Z" fill="#c5de9a"/><path d="M283.2 595.5 L285.3 586.0 L285.6 595.5 Z" fill="#9cc98a"/><path d="M270.2 595.5 L271.0 585.8 L272.6 595.5 Z" fill="#c5de9a"/><path d="M281.8 595.5 L280.9 588.2 L284.2 595.5 Z" fill="#d3e6b0"/><path d="M248.4 595.5 L250.1 587.4 L250.8 595.5 Z" fill="#9cc98a"/><path d="M270.3 595.5 L270.3 583.7 L272.7 595.5 Z" fill="#9cc98a"/><path d="M250.0 595.5 L249.1 582.7 L252.4 595.5 Z" fill="#b4d38a"/><path d="M253.5 595.5 L254.0 588.9 L255.9 595.5 Z" fill="#9cc98a"/><path d="M244.6 595.5 L243.4 585.0 L247.0 595.5 Z" fill="#d3e6b0"/><path d="M240.7 595.5 L240.9 587.8 L243.1 595.5 Z" fill="#d3e6b0"/><path d="M238.9 595.5 L237.8 582.8 L241.3 595.5 Z" fill="#b4d38a"/><path d="M285.6 595.5 L287.0 582.0 L288.0 595.5 Z" fill="#9cc98a"/><path d="M258.8 595.5 L261.7 589.1 L261.2 595.5 Z" fill="#c5de9a"/><path d="M243.4 595.5 L243.4 587.0 L245.8 595.5 Z" fill="#c5de9a"/><path d="M243.5 595.5 L246.3 585.6 L245.9 595.5 Z" fill="#b4d38a"/><path d="M263.5 595.5 L265.2 586.9 L265.9 595.5 Z" fill="#c5de9a"/><path d="M284.1 595.5 L287.9 586.5 L286.5 595.5 Z" fill="#9cc98a"/><path d="M235.5 595.5 L236.4 586.6 L237.9 595.5 Z" fill="#b4d38a"/><path d="M250.3 595.5 L249.1 586.4 L252.7 595.5 Z" fill="#9cc98a"/><path d="M275.7 595.5 L276.6 583.6 L278.1 595.5 Z" fill="#c5de9a"/><path d="M274.6 595.5 L275.5 584.6 L277.0 595.5 Z" fill="#c5de9a"/><path d="M234.9 595.5 L235.6 584.7 L237.3 595.5 Z" fill="#b4d38a"/><path d="M254.8 595.5 L253.5 582.8 L257.2 595.5 Z" fill="#b4d38a"/><path d="M251.9 595.5 L250.6 584.1 L254.3 595.5 Z" fill="#c5de9a"/><path d="M277.4 595.5 L278.5 582.5 L279.8 595.5 Z" fill="#b4d38a"/><path d="M246.6 595.5 L246.3 588.4 L249.0 595.5 Z" fill="#b4d38a"/><path d="M259.1 595.5 L258.0 585.1 L261.5 595.5 Z" fill="#d3e6b0"/><path d="M245.8 595.5 L244.3 584.8 L248.2 595.5 Z" fill="#9cc98a"/><path d="M252.2 595.5 L252.9 587.7 L254.6 595.5 Z" fill="#b4d38a"/><path d="M285.2 595.5 L287.7 582.2 L287.6 595.5 Z" fill="#b4d38a"/><path d="M280.0 595.5 L283.9 589.1 L282.4 595.5 Z" fill="#d3e6b0"/><path d="M274.8 595.5 L274.2 583.8 L277.2 595.5 Z" fill="#b4d38a"/><path d="M237.4 595.5 L240.7 587.9 L239.8 595.5 Z" fill="#c5de9a"/><path d="M255.3 595.5 L254.1 584.4 L257.7 595.5 Z" fill="#c5de9a"/><path d="M237.3 595.5 L236.9 584.7 L239.7 595.5 Z" fill="#c5de9a"/><path d="M276.3 595.5 L276.6 588.6 L278.7 595.5 Z" fill="#c5de9a"/><path d="M235.0 595.5 L237.3 584.4 L237.4 595.5 Z" fill="#9cc98a"/><path d="M250.9 595.5 L251.9 583.0 L253.3 595.5 Z" fill="#b4d38a"/><path d="M233.4 595.5 L234.0 582.0 L235.8 595.5 Z" fill="#d3e6b0"/><path d="M234.5 595.5 L233.6 583.1 L236.9 595.5 Z" fill="#b4d38a"/><path d="M240.8 595.5 L239.9 586.5 L243.2 595.5 Z" fill="#b4d38a"/><path d="M281.8 595.5 L284.3 583.9 L284.2 595.5 Z" fill="#c5de9a"/>
<path d="M246.8 595 L249.2 595 Q248.6 586 245.8 577 Q241 568 236.5 560 Q233.5 554 232.2 549 L230.8 549.5 Q232 556 235 562 Q240.5 571 244 579 Q246.8 587 246.8 595 Z" fill="#2d2b24"/>
<path d="M244.6 578 Q246.5 568 246 560 Q245 550 244 541 L245.2 540.8 Q246.6 550 247.4 560 Q247.8 569 245.8 579 Z" fill="#2d2b24"/>
<path d="M246.5 562 Q252 549 259.5 534.5 L260.5 535.2 Q253.5 550 247.6 563 Z" fill="#2d2b24"/>
<path d="M240 567 Q243 560 248 556 L248.6 557 Q244 561 241 568 Z" fill="#2d2b24"/>
<ellipse cx="257" cy="527" rx="10.5" ry="8.5" fill="#7b9a60"/><circle cx="275.8" cy="526.7" r="2.4" fill="#6f8f56"/><circle cx="244.5" cy="525.4" r="1.8" fill="#9dbb85"/><circle cx="250.3" cy="520.7" r="2.7" fill="#8aab70"/><circle cx="258.8" cy="520.9" r="2.8" fill="#8aab70"/><circle cx="240.6" cy="519.4" r="2.5" fill="#6f8f56"/><circle cx="269.7" cy="538.7" r="3.2" fill="#7b9a60"/><circle cx="256.4" cy="511.4" r="3.0" fill="#9dbb85"/><circle cx="263.9" cy="536.4" r="2.7" fill="#9dbb85"/><circle cx="250.8" cy="542.9" r="2.5" fill="#7b9a60"/><circle cx="274.0" cy="533.3" r="3.0" fill="#7b9a60"/><circle cx="258.0" cy="540.2" r="2.6" fill="#6f8f56"/><circle cx="238.9" cy="519.5" r="3.1" fill="#7b9a60"/><circle cx="242.4" cy="536.5" r="3.0" fill="#8aab70"/><circle cx="263.4" cy="517.0" r="1.8" fill="#8aab70"/><circle cx="246.6" cy="513.1" r="2.4" fill="#8aab70"/><circle cx="272.1" cy="527.3" r="1.7" fill="#7b9a60"/><circle cx="267.7" cy="518.7" r="2.3" fill="#8aab70"/><circle cx="244.7" cy="529.7" r="2.0" fill="#8aab70"/><circle cx="245.4" cy="534.4" r="1.7" fill="#8aab70"/><circle cx="266.9" cy="531.9" r="2.8" fill="#6f8f56"/><circle cx="243.9" cy="534.0" r="2.0" fill="#7b9a60"/><circle cx="254.4" cy="522.4" r="3.0" fill="#7b9a60"/><circle cx="247.2" cy="533.6" r="1.9" fill="#7b9a60"/><circle cx="260.2" cy="542.9" r="2.7" fill="#6f8f56"/><circle cx="252.5" cy="536.4" r="3.1" fill="#9dbb85"/><circle cx="264.1" cy="541.5" r="1.9" fill="#9dbb85"/><circle cx="276.5" cy="527.9" r="1.8" fill="#7b9a60"/><circle cx="238.8" cy="531.3" r="2.1" fill="#8aab70"/><circle cx="247.7" cy="511.9" r="2.9" fill="#9dbb85"/><circle cx="252.5" cy="520.8" r="2.9" fill="#8aab70"/><circle cx="253.3" cy="521.9" r="2.7" fill="#6f8f56"/><circle cx="255.8" cy="536.7" r="2.2" fill="#6f8f56"/><circle cx="274.6" cy="521.1" r="1.7" fill="#6f8f56"/><circle cx="239.4" cy="527.6" r="1.7" fill="#7b9a60"/><circle cx="243.5" cy="522.9" r="2.9" fill="#7b9a60"/><circle cx="254.6" cy="512.3" r="1.7" fill="#8aab70"/><circle cx="252.0" cy="527.4" r="3.2" fill="#8aab70"/><circle cx="267.1" cy="537.5" r="2.6" fill="#7b9a60"/><circle cx="266.7" cy="526.9" r="2.6" fill="#8aab70"/><circle cx="249.3" cy="520.6" r="2.9" fill="#7b9a60"/><circle cx="238.7" cy="535.0" r="2.7" fill="#6f8f56"/><circle cx="236.3" cy="527.7" r="2.2" fill="#8aab70"/><circle cx="248.3" cy="540.9" r="2.5" fill="#7b9a60"/><circle cx="260.5" cy="516.9" r="1.9" fill="#9dbb85"/><circle cx="259.4" cy="521.8" r="2.2" fill="#9dbb85"/><circle cx="262.9" cy="535.8" r="1.7" fill="#8aab70"/><circle cx="275.3" cy="524.3" r="2.2" fill="#7b9a60"/><circle cx="254.2" cy="542.9" r="2.4" fill="#9dbb85"/><circle cx="250.8" cy="537.5" r="1.8" fill="#8aab70"/><circle cx="248.9" cy="534.7" r="3.0" fill="#6f8f56"/><circle cx="255.9" cy="535.3" r="3.1" fill="#6f8f56"/><circle cx="243.1" cy="526.9" r="1.9" fill="#8aab70"/><circle cx="268.3" cy="529.6" r="2.5" fill="#9dbb85"/><circle cx="265.1" cy="517.8" r="1.8" fill="#6f8f56"/><circle cx="243.9" cy="539.4" r="2.5" fill="#8aab70"/><circle cx="262.1" cy="521.4" r="2.4" fill="#7b9a60"/><circle cx="275.5" cy="531.0" r="2.6" fill="#8aab70"/><circle cx="246.5" cy="520.6" r="3.3" fill="#7b9a60"/><circle cx="262.6" cy="522.5" r="2.6" fill="#6f8f56"/><circle cx="266.1" cy="514.5" r="3.2" fill="#7b9a60"/><circle cx="244.3" cy="513.8" r="2.7" fill="#7b9a60"/><circle cx="259.1" cy="516.1" r="3.2" fill="#8aab70"/><circle cx="244.7" cy="534.2" r="2.2" fill="#7b9a60"/><circle cx="254.9" cy="519.9" r="2.9" fill="#6f8f56"/><circle cx="247.3" cy="512.8" r="1.9" fill="#8aab70"/><circle cx="248.6" cy="512.1" r="1.8" fill="#7b9a60"/><circle cx="267.4" cy="515.7" r="2.6" fill="#6f8f56"/><circle cx="261.1" cy="541.3" r="2.9" fill="#7b9a60"/><circle cx="267.1" cy="538.5" r="2.9" fill="#9dbb85"/><circle cx="265.4" cy="533.8" r="1.7" fill="#6f8f56"/><circle cx="263.3" cy="522.1" r="2.8" fill="#6f8f56"/><circle cx="248.1" cy="520.8" r="1.8" fill="#9dbb85"/><circle cx="244.9" cy="519.4" r="2.7" fill="#7b9a60"/><circle cx="252.2" cy="536.9" r="2.6" fill="#7b9a60"/><circle cx="245.7" cy="538.1" r="1.8" fill="#8aab70"/><circle cx="259.9" cy="538.6" r="2.9" fill="#6f8f56"/><circle cx="255.9" cy="532.5" r="2.4" fill="#9dbb85"/><circle cx="252.1" cy="524.3" r="2.5" fill="#6f8f56"/><circle cx="265.3" cy="532.6" r="2.7" fill="#8aab70"/><circle cx="272.3" cy="524.2" r="2.0" fill="#9dbb85"/><circle cx="259.8" cy="518.8" r="3.0" fill="#9dbb85"/><circle cx="251.3" cy="525.9" r="2.9" fill="#7b9a60"/><circle cx="261.3" cy="518.3" r="2.3" fill="#8aab70"/><circle cx="254.4" cy="513.9" r="2.3" fill="#9dbb85"/><circle cx="270.3" cy="523.8" r="2.8" fill="#7b9a60"/><circle cx="263.9" cy="511.3" r="2.2" fill="#8aab70"/><circle cx="270.4" cy="532.2" r="1.9" fill="#6f8f56"/><circle cx="276.4" cy="523.9" r="2.7" fill="#7b9a60"/><circle cx="251.5" cy="533.8" r="2.3" fill="#8aab70"/><circle cx="257.4" cy="521.1" r="3.1" fill="#7b9a60"/><circle cx="247.5" cy="530.1" r="2.8" fill="#7b9a60"/><circle cx="258.5" cy="518.7" r="2.9" fill="#8aab70"/><circle cx="256.7" cy="510.4" r="3.2" fill="#9dbb85"/><circle cx="255.7" cy="521.5" r="2.0" fill="#7b9a60"/><circle cx="265.7" cy="515.1" r="2.9" fill="#9dbb85"/><circle cx="255.9" cy="537.5" r="1.9" fill="#8aab70"/><circle cx="269.2" cy="526.5" r="1.7" fill="#7b9a60"/><circle cx="251.9" cy="516.4" r="1.7" fill="#6f8f56"/><circle cx="258.8" cy="516.7" r="3.1" fill="#8aab70"/><circle cx="259.5" cy="515.2" r="3.3" fill="#8aab70"/><circle cx="261.1" cy="515.4" r="3.0" fill="#7b9a60"/><circle cx="266.2" cy="516.8" r="2.1" fill="#6f8f56"/><circle cx="259.9" cy="535.8" r="1.7" fill="#7b9a60"/><circle cx="251.9" cy="511.0" r="3.3" fill="#6f8f56"/><circle cx="259.8" cy="512.6" r="1.9" fill="#6f8f56"/><circle cx="260.5" cy="530.2" r="2.0" fill="#9dbb85"/><circle cx="251.3" cy="526.1" r="3.0" fill="#7b9a60"/><circle cx="250.8" cy="528.2" r="3.1" fill="#9dbb85"/><circle cx="273.7" cy="518.9" r="2.2" fill="#9dbb85"/><circle cx="268.3" cy="519.0" r="2.7" fill="#7b9a60"/><circle cx="267.4" cy="527.4" r="2.2" fill="#7b9a60"/><circle cx="273.1" cy="536.2" r="3.2" fill="#6f8f56"/><circle cx="241.3" cy="530.6" r="2.7" fill="#6f8f56"/><circle cx="258.2" cy="514.0" r="2.8" fill="#6f8f56"/><circle cx="265.4" cy="539.1" r="3.1" fill="#7b9a60"/><circle cx="253.9" cy="515.3" r="3.1" fill="#9dbb85"/><circle cx="269.6" cy="539.6" r="2.6" fill="#7b9a60"/><circle cx="251.1" cy="512.5" r="3.1" fill="#7b9a60"/><circle cx="242.4" cy="536.5" r="3.0" fill="#7b9a60"/><circle cx="257.9" cy="543.2" r="2.0" fill="#7b9a60"/><circle cx="263.3" cy="528.2" r="2.0" fill="#7b9a60"/><circle cx="258.0" cy="521.9" r="2.6" fill="#9dbb85"/><circle cx="267.1" cy="522.5" r="1.9" fill="#7b9a60"/><circle cx="236.6" cy="529.2" r="2.9" fill="#7b9a60"/><circle cx="264.3" cy="541.2" r="1.9" fill="#9dbb85"/><circle cx="250.2" cy="538.1" r="3.2" fill="#6f8f56"/><circle cx="261.1" cy="525.1" r="3.1" fill="#9dbb85"/><circle cx="252.5" cy="522.1" r="2.6" fill="#9dbb85"/><circle cx="241.3" cy="518.4" r="1.8" fill="#7b9a60"/><circle cx="248.2" cy="515.5" r="2.4" fill="#7b9a60"/><circle cx="247.3" cy="523.9" r="2.0" fill="#9dbb85"/><circle cx="262.5" cy="516.0" r="1.9" fill="#7b9a60"/><circle cx="247.2" cy="512.1" r="2.7" fill="#7b9a60"/><circle cx="244.5" cy="524.0" r="1.8" fill="#7b9a60"/><circle cx="268.4" cy="514.3" r="1.8" fill="#8aab70"/><circle cx="255.2" cy="536.9" r="2.1" fill="#6f8f56"/><circle cx="240.7" cy="516.6" r="2.9" fill="#7b9a60"/><circle cx="262.6" cy="529.4" r="2.8" fill="#9dbb85"/><circle cx="260.0" cy="537.7" r="3.3" fill="#9dbb85"/><circle cx="247.6" cy="523.2" r="2.9" fill="#7b9a60"/><circle cx="273.5" cy="518.9" r="2.8" fill="#7b9a60"/><circle cx="252.7" cy="520.7" r="3.2" fill="#7b9a60"/><circle cx="265.7" cy="541.9" r="2.4" fill="#7b9a60"/><circle cx="256.8" cy="536.8" r="2.2" fill="#8aab70"/><circle cx="250.0" cy="532.2" r="1.9" fill="#6f8f56"/><circle cx="258.5" cy="511.4" r="3.3" fill="#8aab70"/><circle cx="255.3" cy="536.0" r="2.3" fill="#7b9a60"/><circle cx="248.5" cy="537.8" r="2.2" fill="#8aab70"/><circle cx="275.6" cy="527.2" r="2.0" fill="#8aab70"/><circle cx="261.3" cy="514.8" r="1.8" fill="#8aab70"/><circle cx="245.6" cy="531.7" r="1.8" fill="#7b9a60"/><circle cx="266.2" cy="525.4" r="2.5" fill="#9dbb85"/><circle cx="257.6" cy="543.3" r="3.2" fill="#9dbb85"/><circle cx="249.4" cy="511.4" r="1.8" fill="#7b9a60"/><circle cx="260.7" cy="541.6" r="3.1" fill="#8aab70"/><circle cx="249.3" cy="529.9" r="3.2" fill="#9dbb85"/><circle cx="240.7" cy="532.4" r="2.8" fill="#8aab70"/><circle cx="257.2" cy="517.9" r="2.1" fill="#7b9a60"/><circle cx="273.4" cy="535.7" r="2.7" fill="#9dbb85"/><circle cx="273.6" cy="523.9" r="2.6" fill="#7b9a60"/><circle cx="242.5" cy="518.7" r="2.2" fill="#7b9a60"/><circle cx="255.0" cy="514.4" r="1.8" fill="#7b9a60"/><circle cx="262.2" cy="532.3" r="2.5" fill="#9dbb85"/><circle cx="252.5" cy="518.3" r="2.9" fill="#7b9a60"/><circle cx="266.2" cy="521.6" r="2.3" fill="#7b9a60"/><circle cx="240.0" cy="532.0" r="1.8" fill="#6f8f56"/><circle cx="246.4" cy="540.0" r="1.7" fill="#7b9a60"/><circle cx="265.2" cy="532.3" r="2.2" fill="#8aab70"/><circle cx="256.1" cy="531.1" r="2.0" fill="#7b9a60"/><circle cx="266.4" cy="538.7" r="2.6" fill="#8aab70"/><circle cx="260.8" cy="533.7" r="1.8" fill="#7b9a60"/><circle cx="244.3" cy="536.3" r="2.6" fill="#7b9a60"/><circle cx="268.2" cy="530.7" r="2.1" fill="#7b9a60"/><circle cx="269.0" cy="522.9" r="2.5" fill="#7b9a60"/><circle cx="269.1" cy="538.6" r="2.1" fill="#8aab70"/><circle cx="265.7" cy="539.1" r="3.1" fill="#7b9a60"/><circle cx="254.0" cy="537.6" r="2.9" fill="#7b9a60"/><circle cx="245.2" cy="514.1" r="2.9" fill="#8aab70"/><circle cx="258.1" cy="543.1" r="2.1" fill="#7b9a60"/><circle cx="273.5" cy="531.4" r="3.0" fill="#7b9a60"/><circle cx="254.1" cy="538.8" r="2.5" fill="#7b9a60"/><circle cx="239.7" cy="530.6" r="1.8" fill="#7b9a60"/><circle cx="236.9" cy="528.5" r="3.2" fill="#6f8f56"/><circle cx="249.1" cy="529.5" r="1.8" fill="#8aab70"/><circle cx="246.6" cy="530.1" r="2.2" fill="#7b9a60"/><circle cx="266.7" cy="530.8" r="2.9" fill="#9dbb85"/><circle cx="240.9" cy="516.1" r="3.2" fill="#6f8f56"/><circle cx="272.7" cy="537.5" r="2.5" fill="#7b9a60"/><circle cx="241.8" cy="525.3" r="2.2" fill="#7b9a60"/><circle cx="267.0" cy="531.7" r="3.2" fill="#6f8f56"/><circle cx="258.9" cy="520.1" r="3.0" fill="#8aab70"/><circle cx="266.6" cy="532.5" r="3.0" fill="#7b9a60"/><circle cx="272.2" cy="538.5" r="2.4" fill="#7b9a60"/><circle cx="240.1" cy="526.2" r="3.0" fill="#7b9a60"/><circle cx="246.1" cy="515.8" r="1.7" fill="#7b9a60"/><circle cx="259.4" cy="513.1" r="1.9" fill="#8aab70"/><circle cx="268.6" cy="539.1" r="3.2" fill="#7b9a60"/><circle cx="265.3" cy="518.6" r="3.1" fill="#7b9a60"/><circle cx="255.3" cy="522.9" r="2.4" fill="#7b9a60"/><circle cx="238.5" cy="531.9" r="2.1" fill="#7b9a60"/><circle cx="263.5" cy="518.6" r="2.2" fill="#7b9a60"/><circle cx="269.8" cy="522.9" r="2.8" fill="#7b9a60"/><circle cx="247.4" cy="536.4" r="1.8" fill="#8aab70"/><circle cx="236.6" cy="525.8" r="2.5" fill="#7b9a60"/><circle cx="249.3" cy="521.1" r="3.0" fill="#7b9a60"/><circle cx="250.1" cy="541.1" r="2.1" fill="#8aab70"/><circle cx="266.6" cy="528.6" r="2.3" fill="#7b9a60"/><circle cx="240.1" cy="520.7" r="2.0" fill="#7b9a60"/><circle cx="267.7" cy="539.7" r="2.7" fill="#6f8f56"/>
<ellipse cx="227" cy="537" rx="5.5" ry="6.0" fill="#7b9a60"/><circle cx="218.3" cy="533.1" r="1.7" fill="#7b9a60"/><circle cx="221.3" cy="534.5" r="2.1" fill="#7b9a60"/><circle cx="231.6" cy="537.0" r="2.0" fill="#7b9a60"/><circle cx="230.7" cy="544.0" r="1.6" fill="#6f8f56"/><circle cx="228.5" cy="530.7" r="2.4" fill="#7b9a60"/><circle cx="233.9" cy="528.0" r="1.9" fill="#6f8f56"/><circle cx="233.2" cy="541.6" r="2.7" fill="#7b9a60"/><circle cx="230.1" cy="534.7" r="2.6" fill="#7b9a60"/><circle cx="232.1" cy="531.2" r="2.3" fill="#8aab70"/><circle cx="230.2" cy="527.8" r="2.3" fill="#7b9a60"/><circle cx="219.5" cy="539.9" r="2.3" fill="#8aab70"/><circle cx="235.7" cy="530.0" r="1.8" fill="#7b9a60"/><circle cx="222.0" cy="533.5" r="2.1" fill="#8aab70"/><circle cx="222.5" cy="530.7" r="2.9" fill="#8aab70"/><circle cx="225.3" cy="533.3" r="2.6" fill="#9dbb85"/><circle cx="224.7" cy="531.5" r="2.0" fill="#7b9a60"/><circle cx="220.7" cy="539.5" r="2.6" fill="#7b9a60"/><circle cx="220.6" cy="538.5" r="3.0" fill="#6f8f56"/><circle cx="236.2" cy="543.3" r="2.3" fill="#6f8f56"/><circle cx="237.2" cy="534.3" r="1.8" fill="#8aab70"/><circle cx="221.2" cy="542.9" r="2.0" fill="#7b9a60"/><circle cx="220.4" cy="528.3" r="1.7" fill="#9dbb85"/><circle cx="231.8" cy="543.0" r="2.1" fill="#7b9a60"/><circle cx="219.5" cy="538.6" r="2.0" fill="#9dbb85"/><circle cx="221.3" cy="545.0" r="2.2" fill="#7b9a60"/><circle cx="230.5" cy="527.6" r="2.5" fill="#7b9a60"/><circle cx="223.5" cy="540.0" r="2.4" fill="#8aab70"/><circle cx="231.6" cy="528.6" r="2.5" fill="#9dbb85"/><circle cx="232.2" cy="535.8" r="2.6" fill="#8aab70"/><circle cx="224.0" cy="532.6" r="1.6" fill="#6f8f56"/><circle cx="233.1" cy="527.9" r="2.4" fill="#7b9a60"/><circle cx="233.9" cy="531.3" r="2.1" fill="#9dbb85"/><circle cx="226.5" cy="541.1" r="1.5" fill="#7b9a60"/><circle cx="232.1" cy="540.3" r="1.8" fill="#7b9a60"/><circle cx="226.1" cy="547.2" r="3.0" fill="#7b9a60"/><circle cx="230.9" cy="537.6" r="1.6" fill="#7b9a60"/><circle cx="231.0" cy="542.9" r="2.3" fill="#8aab70"/><circle cx="224.5" cy="547.1" r="2.8" fill="#8aab70"/><circle cx="230.7" cy="538.5" r="1.7" fill="#7b9a60"/><circle cx="230.2" cy="538.5" r="3.0" fill="#7b9a60"/><circle cx="229.5" cy="527.0" r="2.0" fill="#6f8f56"/><circle cx="232.5" cy="544.3" r="3.0" fill="#7b9a60"/><circle cx="227.1" cy="526.0" r="2.1" fill="#8aab70"/><circle cx="225.8" cy="530.9" r="2.7" fill="#6f8f56"/><circle cx="234.1" cy="542.2" r="1.8" fill="#6f8f56"/><circle cx="230.3" cy="526.9" r="1.8" fill="#7b9a60"/><circle cx="230.5" cy="529.4" r="2.2" fill="#7b9a60"/><circle cx="230.0" cy="545.7" r="1.7" fill="#6f8f56"/><circle cx="227.3" cy="543.5" r="2.1" fill="#9dbb85"/><circle cx="225.3" cy="540.4" r="1.8" fill="#7b9a60"/><circle cx="228.1" cy="543.7" r="2.5" fill="#6f8f56"/><circle cx="219.1" cy="529.5" r="1.8" fill="#8aab70"/><circle cx="237.5" cy="536.7" r="1.7" fill="#7b9a60"/><circle cx="228.4" cy="547.5" r="2.7" fill="#8aab70"/><circle cx="220.5" cy="542.4" r="2.0" fill="#9dbb85"/><circle cx="224.5" cy="543.3" r="2.0" fill="#7b9a60"/><circle cx="233.2" cy="546.4" r="2.8" fill="#6f8f56"/><circle cx="233.4" cy="538.3" r="2.7" fill="#9dbb85"/><circle cx="233.3" cy="529.7" r="2.2" fill="#8aab70"/><circle cx="227.7" cy="532.4" r="1.6" fill="#6f8f56"/><circle cx="223.6" cy="538.6" r="2.7" fill="#9dbb85"/><circle cx="228.1" cy="544.0" r="2.2" fill="#6f8f56"/><circle cx="227.9" cy="529.4" r="2.2" fill="#8aab70"/><circle cx="223.9" cy="533.8" r="2.2" fill="#8aab70"/><circle cx="233.9" cy="545.3" r="2.9" fill="#9dbb85"/><circle cx="232.3" cy="543.1" r="2.4" fill="#8aab70"/><circle cx="221.4" cy="527.7" r="2.5" fill="#8aab70"/><circle cx="223.3" cy="538.7" r="2.1" fill="#7b9a60"/><circle cx="225.0" cy="526.9" r="1.5" fill="#7b9a60"/><circle cx="217.9" cy="535.1" r="2.0" fill="#9dbb85"/><circle cx="221.2" cy="532.2" r="1.9" fill="#6f8f56"/><circle cx="227.7" cy="528.9" r="2.0" fill="#7b9a60"/><circle cx="232.9" cy="531.7" r="2.3" fill="#7b9a60"/><circle cx="226.4" cy="547.4" r="2.8" fill="#6f8f56"/><circle cx="216.4" cy="539.0" r="2.4" fill="#8aab70"/><circle cx="227.4" cy="529.2" r="1.8" fill="#7b9a60"/><circle cx="226.9" cy="525.5" r="2.2" fill="#9dbb85"/><circle cx="223.9" cy="542.4" r="1.9" fill="#6f8f56"/><circle cx="230.6" cy="527.7" r="3.0" fill="#9dbb85"/><circle cx="224.8" cy="542.0" r="2.6" fill="#8aab70"/><circle cx="223.3" cy="528.0" r="1.6" fill="#7b9a60"/><circle cx="232.5" cy="530.0" r="1.5" fill="#8aab70"/><circle cx="218.8" cy="529.9" r="2.9" fill="#8aab70"/><circle cx="227.9" cy="544.1" r="2.8" fill="#8aab70"/><circle cx="224.2" cy="546.1" r="2.1" fill="#8aab70"/>
<ellipse cx="243" cy="524" rx="4.5" ry="5.0" fill="#7b9a60"/><circle cx="246.6" cy="527.3" r="2.9" fill="#6f8f56"/><circle cx="243.3" cy="515.2" r="2.4" fill="#7b9a60"/><circle cx="246.0" cy="516.6" r="1.6" fill="#7b9a60"/><circle cx="243.2" cy="514.9" r="1.9" fill="#8aab70"/><circle cx="236.9" cy="530.3" r="1.7" fill="#9dbb85"/><circle cx="241.3" cy="515.9" r="1.6" fill="#7b9a60"/><circle cx="247.9" cy="516.3" r="1.7" fill="#9dbb85"/><circle cx="241.4" cy="521.5" r="2.8" fill="#9dbb85"/><circle cx="251.7" cy="522.7" r="2.2" fill="#6f8f56"/><circle cx="244.7" cy="514.8" r="1.8" fill="#8aab70"/><circle cx="241.1" cy="526.6" r="1.7" fill="#7b9a60"/><circle cx="245.0" cy="522.4" r="2.1" fill="#9dbb85"/><circle cx="250.1" cy="527.6" r="1.8" fill="#6f8f56"/><circle cx="239.6" cy="519.5" r="2.2" fill="#6f8f56"/><circle cx="240.3" cy="531.5" r="2.8" fill="#6f8f56"/><circle cx="240.7" cy="529.6" r="2.8" fill="#8aab70"/><circle cx="239.9" cy="522.3" r="2.4" fill="#9dbb85"/><circle cx="248.6" cy="526.9" r="1.5" fill="#7b9a60"/><circle cx="244.5" cy="530.1" r="2.0" fill="#7b9a60"/><circle cx="239.1" cy="517.7" r="2.2" fill="#9dbb85"/><circle cx="236.0" cy="527.5" r="2.1" fill="#7b9a60"/><circle cx="245.1" cy="529.2" r="2.3" fill="#8aab70"/><circle cx="249.5" cy="529.3" r="2.4" fill="#7b9a60"/><circle cx="244.6" cy="533.3" r="3.0" fill="#6f8f56"/><circle cx="247.0" cy="530.8" r="1.6" fill="#6f8f56"/><circle cx="244.6" cy="529.5" r="2.0" fill="#7b9a60"/><circle cx="235.1" cy="524.5" r="1.5" fill="#7b9a60"/><circle cx="238.4" cy="520.1" r="2.7" fill="#7b9a60"/><circle cx="246.5" cy="532.7" r="2.3" fill="#7b9a60"/><circle cx="246.8" cy="519.4" r="2.9" fill="#7b9a60"/><circle cx="234.4" cy="523.7" r="2.8" fill="#7b9a60"/><circle cx="234.3" cy="523.3" r="2.3" fill="#7b9a60"/><circle cx="246.5" cy="529.6" r="1.5" fill="#7b9a60"/><circle cx="239.1" cy="520.7" r="1.9" fill="#6f8f56"/><circle cx="244.5" cy="531.9" r="1.6" fill="#7b9a60"/><circle cx="245.8" cy="515.0" r="1.7" fill="#7b9a60"/><circle cx="238.5" cy="522.8" r="2.7" fill="#7b9a60"/><circle cx="236.2" cy="518.3" r="1.8" fill="#9dbb85"/><circle cx="242.4" cy="520.1" r="2.2" fill="#9dbb85"/><circle cx="241.8" cy="518.6" r="2.8" fill="#9dbb85"/><circle cx="251.3" cy="527.2" r="2.2" fill="#7b9a60"/><circle cx="248.8" cy="517.0" r="2.3" fill="#6f8f56"/><circle cx="246.9" cy="529.4" r="2.5" fill="#9dbb85"/><circle cx="238.9" cy="531.6" r="1.9" fill="#7b9a60"/><circle cx="244.2" cy="533.3" r="2.0" fill="#6f8f56"/><circle cx="241.7" cy="528.3" r="1.8" fill="#7b9a60"/><circle cx="247.4" cy="530.1" r="1.7" fill="#8aab70"/><circle cx="245.6" cy="530.5" r="2.2" fill="#9dbb85"/><circle cx="234.3" cy="524.8" r="2.2" fill="#7b9a60"/><circle cx="236.5" cy="525.3" r="2.3" fill="#7b9a60"/><circle cx="249.8" cy="527.8" r="3.0" fill="#6f8f56"/><circle cx="249.3" cy="529.1" r="2.0" fill="#6f8f56"/><circle cx="239.1" cy="518.4" r="2.8" fill="#9dbb85"/><circle cx="251.3" cy="524.4" r="2.6" fill="#8aab70"/><circle cx="235.3" cy="523.5" r="2.5" fill="#6f8f56"/><circle cx="240.1" cy="521.0" r="2.5" fill="#7b9a60"/><circle cx="246.7" cy="522.6" r="2.0" fill="#6f8f56"/>
<ellipse cx="270" cy="561.5" rx="5.8" ry="7.5" fill="#7b9a60"/><circle cx="272.3" cy="550.2" r="2.5" fill="#8aab70"/><circle cx="271.6" cy="555.2" r="2.3" fill="#7b9a60"/><circle cx="268.9" cy="567.7" r="2.9" fill="#7b9a60"/><circle cx="262.3" cy="552.4" r="2.2" fill="#8aab70"/><circle cx="262.9" cy="572.3" r="2.0" fill="#9dbb85"/><circle cx="271.8" cy="552.8" r="2.9" fill="#7b9a60"/><circle cx="266.3" cy="569.9" r="2.4" fill="#8aab70"/><circle cx="280.3" cy="562.9" r="1.6" fill="#9dbb85"/><circle cx="280.9" cy="562.6" r="1.9" fill="#6f8f56"/><circle cx="275.2" cy="572.1" r="1.5" fill="#7b9a60"/><circle cx="272.5" cy="574.1" r="1.7" fill="#8aab70"/><circle cx="270.5" cy="566.3" r="1.9" fill="#7b9a60"/><circle cx="278.2" cy="557.8" r="2.9" fill="#7b9a60"/><circle cx="270.7" cy="555.0" r="2.8" fill="#7b9a60"/><circle cx="269.9" cy="547.5" r="2.1" fill="#7b9a60"/><circle cx="263.3" cy="552.2" r="1.8" fill="#7b9a60"/><circle cx="273.3" cy="560.9" r="1.6" fill="#7b9a60"/><circle cx="276.7" cy="563.7" r="2.5" fill="#7b9a60"/><circle cx="274.0" cy="565.9" r="1.8" fill="#9dbb85"/><circle cx="263.0" cy="572.9" r="1.8" fill="#7b9a60"/><circle cx="277.8" cy="560.2" r="2.1" fill="#8aab70"/><circle cx="262.3" cy="565.1" r="1.5" fill="#7b9a60"/><circle cx="275.5" cy="573.8" r="2.7" fill="#7b9a60"/><circle cx="261.3" cy="565.5" r="2.9" fill="#6f8f56"/><circle cx="259.6" cy="557.4" r="1.5" fill="#6f8f56"/><circle cx="276.7" cy="553.5" r="2.0" fill="#6f8f56"/><circle cx="265.0" cy="561.0" r="1.6" fill="#9dbb85"/><circle cx="261.7" cy="560.4" r="2.5" fill="#7b9a60"/><circle cx="269.0" cy="558.2" r="2.7" fill="#9dbb85"/><circle cx="279.8" cy="556.3" r="2.0" fill="#7b9a60"/><circle cx="261.0" cy="556.0" r="2.1" fill="#6f8f56"/><circle cx="280.7" cy="557.5" r="2.4" fill="#8aab70"/><circle cx="274.4" cy="557.1" r="3.0" fill="#7b9a60"/><circle cx="272.7" cy="548.6" r="2.7" fill="#9dbb85"/><circle cx="267.4" cy="553.3" r="2.6" fill="#8aab70"/><circle cx="272.2" cy="552.8" r="2.4" fill="#9dbb85"/><circle cx="263.6" cy="562.1" r="2.9" fill="#7b9a60"/><circle cx="259.5" cy="562.2" r="1.6" fill="#6f8f56"/><circle cx="270.6" cy="550.0" r="2.9" fill="#9dbb85"/><circle cx="260.3" cy="560.9" r="1.5" fill="#9dbb85"/><circle cx="270.7" cy="555.8" r="1.9" fill="#7b9a60"/><circle cx="263.8" cy="555.2" r="2.8" fill="#8aab70"/><circle cx="276.9" cy="566.6" r="2.1" fill="#7b9a60"/><circle cx="260.1" cy="562.0" r="1.8" fill="#8aab70"/><circle cx="268.7" cy="570.9" r="2.9" fill="#9dbb85"/><circle cx="277.8" cy="561.4" r="2.4" fill="#8aab70"/><circle cx="259.7" cy="565.3" r="2.1" fill="#6f8f56"/><circle cx="273.4" cy="560.3" r="2.8" fill="#8aab70"/><circle cx="280.8" cy="566.4" r="2.3" fill="#7b9a60"/><circle cx="263.6" cy="572.7" r="2.8" fill="#8aab70"/><circle cx="271.3" cy="557.6" r="2.2" fill="#7b9a60"/><circle cx="279.0" cy="568.1" r="2.8" fill="#7b9a60"/><circle cx="262.1" cy="563.8" r="2.6" fill="#8aab70"/><circle cx="263.8" cy="573.6" r="1.8" fill="#7b9a60"/><circle cx="263.8" cy="551.1" r="2.5" fill="#9dbb85"/><circle cx="269.7" cy="568.3" r="2.9" fill="#7b9a60"/><circle cx="259.9" cy="563.7" r="1.9" fill="#7b9a60"/><circle cx="272.0" cy="575.6" r="2.4" fill="#7b9a60"/><circle cx="264.2" cy="553.3" r="2.8" fill="#6f8f56"/><circle cx="271.8" cy="571.2" r="2.2" fill="#8aab70"/><circle cx="265.9" cy="549.6" r="1.8" fill="#6f8f56"/><circle cx="261.5" cy="562.8" r="1.8" fill="#8aab70"/><circle cx="275.1" cy="572.1" r="2.3" fill="#6f8f56"/><circle cx="278.5" cy="552.3" r="2.8" fill="#6f8f56"/><circle cx="263.7" cy="561.9" r="2.1" fill="#9dbb85"/><circle cx="258.6" cy="561.7" r="2.0" fill="#8aab70"/><circle cx="275.5" cy="555.3" r="2.9" fill="#7b9a60"/><circle cx="263.5" cy="561.6" r="2.0" fill="#9dbb85"/><circle cx="263.5" cy="558.9" r="1.5" fill="#7b9a60"/><circle cx="259.1" cy="565.3" r="2.2" fill="#8aab70"/><circle cx="259.7" cy="555.9" r="2.5" fill="#8aab70"/><circle cx="259.0" cy="563.3" r="1.8" fill="#7b9a60"/><circle cx="264.2" cy="570.6" r="2.0" fill="#7b9a60"/><circle cx="267.7" cy="550.2" r="2.1" fill="#7b9a60"/><circle cx="264.6" cy="559.1" r="2.3" fill="#7b9a60"/><circle cx="270.1" cy="553.6" r="1.7" fill="#8aab70"/><circle cx="280.3" cy="554.9" r="2.5" fill="#7b9a60"/><circle cx="268.8" cy="576.2" r="1.6" fill="#8aab70"/><circle cx="266.6" cy="572.1" r="1.5" fill="#6f8f56"/><circle cx="264.2" cy="571.8" r="2.3" fill="#7b9a60"/><circle cx="275.6" cy="562.1" r="1.8" fill="#7b9a60"/><circle cx="278.9" cy="570.1" r="1.9" fill="#9dbb85"/><circle cx="279.2" cy="558.1" r="2.1" fill="#7b9a60"/><circle cx="279.6" cy="567.1" r="3.0" fill="#7b9a60"/><circle cx="275.2" cy="549.0" r="2.3" fill="#6f8f56"/><circle cx="263.8" cy="570.8" r="2.9" fill="#7b9a60"/><circle cx="279.2" cy="561.0" r="2.5" fill="#7b9a60"/><circle cx="265.0" cy="568.3" r="1.7" fill="#8aab70"/><circle cx="269.8" cy="567.9" r="1.7" fill="#7b9a60"/><circle cx="277.9" cy="570.1" r="1.7" fill="#8aab70"/><circle cx="261.1" cy="561.3" r="2.3" fill="#6f8f56"/><circle cx="260.2" cy="564.5" r="2.6" fill="#7b9a60"/><circle cx="264.7" cy="565.2" r="2.6" fill="#7b9a60"/><circle cx="275.7" cy="555.8" r="2.7" fill="#6f8f56"/><circle cx="263.4" cy="556.1" r="2.2" fill="#7b9a60"/><circle cx="271.6" cy="573.7" r="2.8" fill="#6f8f56"/><circle cx="276.0" cy="560.9" r="1.6" fill="#7b9a60"/><circle cx="272.0" cy="569.2" r="2.7" fill="#7b9a60"/><circle cx="267.8" cy="566.0" r="2.6" fill="#7b9a60"/><circle cx="258.9" cy="560.4" r="1.9" fill="#7b9a60"/><circle cx="273.7" cy="570.5" r="2.9" fill="#7b9a60"/><circle cx="267.9" cy="551.7" r="1.7" fill="#7b9a60"/><circle cx="258.6" cy="561.7" r="2.6" fill="#7b9a60"/><circle cx="274.3" cy="549.3" r="1.9" fill="#7b9a60"/><circle cx="267.7" cy="566.4" r="2.6" fill="#7b9a60"/><circle cx="264.7" cy="561.0" r="2.5" fill="#6f8f56"/><circle cx="269.6" cy="571.9" r="1.9" fill="#6f8f56"/><circle cx="275.9" cy="561.7" r="2.1" fill="#7b9a60"/><circle cx="262.8" cy="567.6" r="1.9" fill="#8aab70"/><circle cx="266.8" cy="568.6" r="2.5" fill="#7b9a60"/><circle cx="277.5" cy="563.9" r="2.8" fill="#7b9a60"/><circle cx="272.2" cy="565.8" r="2.3" fill="#8aab70"/><circle cx="273.8" cy="558.7" r="2.3" fill="#6f8f56"/><circle cx="269.9" cy="567.2" r="2.9" fill="#9dbb85"/>
<path d="M269 597.5 L270.8 597.5 L270.4 560 L269.6 560 Z M269.8 575 L265 569 L265.5 568.5 L270 573.5 Z" fill="#2d2b24"/>
<g fill="#111"><ellipse cx="330.81" cy="576.21" rx="1.29" ry="1.64"/><path d="M329.45 577.54 C327.60 577.65 327.60 578.70 327.72 580.80 L327.60 585.00 L328.29 586.05 L328.75 595.29 L330.37 595.50 L330.60 587.52 L331.29 595.50 L332.91 595.29 L332.68 586.05 L333.37 585.00 L333.48 580.80 C333.48 578.70 333.37 577.65 331.75 577.54 Z"/></g>
<rect x="352" y="562.6" width="15" height="32" fill="none" stroke="#c8c8c8" stroke-width="0.8" stroke-dasharray="2 1.5"/>
<path d="M353 564 L366 592 M353 592 L366 564" stroke="#d8d8d8" stroke-width="0.6"/>
<rect x="287" y="595.5" width="78" height="1.4" fill="#9a9a9a" />
<path d="M669 534.5 L726.5 568.9 L726.5 581.5 L669 547 Z" fill="#e9e9e9"/>
<line x1="669.0" y1="534.5" x2="669.0" y2="547.0" stroke="#666" stroke-width="0.9"/><line x1="671.9" y1="536.2" x2="671.9" y2="548.7" stroke="#666" stroke-width="0.9"/><line x1="674.8" y1="537.9" x2="674.8" y2="550.5" stroke="#666" stroke-width="0.9"/><line x1="677.6" y1="539.7" x2="677.6" y2="552.2" stroke="#666" stroke-width="0.9"/><line x1="680.5" y1="541.4" x2="680.5" y2="553.9" stroke="#666" stroke-width="0.9"/><line x1="683.4" y1="543.1" x2="683.4" y2="555.6" stroke="#666" stroke-width="0.9"/><line x1="686.2" y1="544.8" x2="686.2" y2="557.4" stroke="#666" stroke-width="0.9"/><line x1="689.1" y1="546.5" x2="689.1" y2="559.1" stroke="#666" stroke-width="0.9"/><line x1="692.0" y1="548.3" x2="692.0" y2="560.8" stroke="#666" stroke-width="0.9"/><line x1="694.9" y1="550.0" x2="694.9" y2="562.5" stroke="#666" stroke-width="0.9"/><line x1="697.8" y1="551.7" x2="697.8" y2="564.2" stroke="#666" stroke-width="0.9"/><line x1="700.6" y1="553.4" x2="700.6" y2="566.0" stroke="#666" stroke-width="0.9"/><line x1="703.5" y1="555.1" x2="703.5" y2="567.7" stroke="#666" stroke-width="0.9"/><line x1="706.4" y1="556.9" x2="706.4" y2="569.4" stroke="#666" stroke-width="0.9"/><line x1="709.2" y1="558.6" x2="709.2" y2="571.1" stroke="#666" stroke-width="0.9"/><line x1="712.1" y1="560.3" x2="712.1" y2="572.9" stroke="#666" stroke-width="0.9"/><line x1="715.0" y1="562.0" x2="715.0" y2="574.6" stroke="#666" stroke-width="0.9"/><line x1="717.9" y1="563.7" x2="717.9" y2="576.3" stroke="#666" stroke-width="0.9"/><line x1="720.8" y1="565.5" x2="720.8" y2="578.0" stroke="#666" stroke-width="0.9"/><line x1="723.6" y1="567.2" x2="723.6" y2="579.8" stroke="#666" stroke-width="0.9"/><line x1="726.5" y1="568.9" x2="726.5" y2="581.5" stroke="#666" stroke-width="0.9"/>
<line x1="669" y1="534.5" x2="726.5" y2="568.9" stroke="#555" stroke-width="0.9" />
<path d="M669 549 H674.8 V552.5 H680.5 V555.9 H686.2 V559.4 H692.0 V562.8 H697.8 V566.2 H703.5 V569.7 H709.2 V573.1 H715.0 V576.6 H720.8 V580.0 H726.5 V583.5" fill="none" stroke="#333" stroke-width="0.8" />
<line x1="669" y1="576.6" x2="725.8" y2="585" stroke="#333" stroke-width="0.9" />
<line x1="725.8" y1="585" x2="756.7" y2="585" stroke="#333" stroke-width="0.9" />
<path d="M756.7 585 V587 H760 V589.5 H763.5 V592 H767.9" fill="none" stroke="#333" stroke-width="0.9" />
<rect x="767.9" y="584.3" width="16.5" height="9.5" fill="#e4e4e4" />
<rect x="782.6" y="568" width="2.2" height="27" fill="#161616" />
<rect x="767.9" y="593.4" width="19.6" height="2.8" fill="#161616" />
<rect x="784.6" y="584.3" width="3" height="9.5" fill="#e4e4e4" />
<path d="M695.8 542.5 L696.0 544.3 L696.5 546.2 L695.2 547.6 L694.8 549.2 L694.3 550.9 L692.9 551.6 L692.5 553.5 L691.7 554.9 L690.8 556.3 L689.0 555.4 L688.1 556.6 L686.8 556.5 L685.8 558.8 L684.4 558.5 L683.2 556.6 L681.6 558.9 L680.3 558.4 L679.3 556.9 L678.2 555.9 L677.7 553.9 L677.0 552.5 L675.4 552.2 L675.4 550.1 L674.6 548.9 L674.0 547.4 L674.1 545.7 L673.0 544.2 L673.0 542.5 L672.3 540.7 L673.1 539.0 L673.3 537.2 L674.0 535.7 L674.4 533.9 L675.5 532.7 L676.6 531.6 L676.6 528.7 L677.7 527.3 L679.1 526.6 L680.5 526.0 L681.9 526.5 L683.2 526.4 L684.4 526.1 L685.6 526.9 L687.1 525.2 L688.1 526.9 L689.7 526.6 L690.4 528.9 L692.2 528.8 L693.0 530.4 L692.6 533.5 L693.6 534.6 L695.5 535.2 L695.2 537.4 L696.6 538.7 L695.6 540.8 Z" fill="#7d9d63"/>
<ellipse cx="684.4" cy="542.5" rx="4.5" ry="6.0" fill="#7d9d63"/><circle cx="686.3" cy="536.1" r="2.3" fill="#6f8f56"/><circle cx="686.5" cy="545.4" r="1.7" fill="#7d9d63"/><circle cx="682.1" cy="533.7" r="2.4" fill="#7d9d63"/><circle cx="686.4" cy="532.1" r="1.3" fill="#8aab70"/><circle cx="684.7" cy="548.6" r="2.3" fill="#8aab70"/><circle cx="680.0" cy="550.8" r="1.6" fill="#8aab70"/><circle cx="687.6" cy="549.5" r="1.4" fill="#7d9d63"/><circle cx="690.9" cy="548.1" r="2.2" fill="#7d9d63"/><circle cx="681.7" cy="537.0" r="1.3" fill="#6f8f56"/><circle cx="688.2" cy="545.8" r="1.4" fill="#8aab70"/><circle cx="688.9" cy="546.0" r="1.9" fill="#9dbb85"/><circle cx="689.0" cy="535.5" r="2.4" fill="#9dbb85"/><circle cx="679.2" cy="541.0" r="1.4" fill="#8aab70"/><circle cx="688.3" cy="547.8" r="1.9" fill="#7d9d63"/><circle cx="679.0" cy="535.8" r="1.4" fill="#7d9d63"/><circle cx="677.9" cy="547.3" r="1.4" fill="#9dbb85"/><circle cx="683.4" cy="547.2" r="2.0" fill="#6f8f56"/><circle cx="685.7" cy="533.8" r="1.5" fill="#9dbb85"/><circle cx="677.9" cy="540.1" r="1.6" fill="#7d9d63"/><circle cx="687.1" cy="534.7" r="2.1" fill="#7d9d63"/><circle cx="683.3" cy="531.4" r="2.1" fill="#6f8f56"/><circle cx="679.4" cy="550.6" r="2.1" fill="#7d9d63"/>
<path d="M682.7 577.5 L684.5 577.5 L684.1 548 L683.2 548 Z M683.6 556 L678.5 550 L679 549.5 L683.8 554.5 Z" fill="#3a3a2a"/>
<path d="M694.6 576.6 L695.2 563.7 L696.8 576.6 Z" fill="#9cc98a"/><path d="M689.8 576.6 L689.5 565.8 L692.0 576.6 Z" fill="#c5de9a"/><path d="M682.4 576.6 L683.2 567.8 L684.6 576.6 Z" fill="#9cc98a"/><path d="M694.0 576.6 L694.1 569.1 L696.2 576.6 Z" fill="#c5de9a"/><path d="M691.9 576.6 L691.1 565.5 L694.1 576.6 Z" fill="#c5de9a"/><path d="M683.1 576.6 L684.2 568.8 L685.3 576.6 Z" fill="#b4d38a"/><path d="M696.3 576.6 L699.6 564.7 L698.5 576.6 Z" fill="#d3e6b0"/><path d="M681.1 576.6 L680.1 569.6 L683.3 576.6 Z" fill="#b4d38a"/><path d="M691.7 576.6 L690.2 568.2 L693.9 576.6 Z" fill="#b4d38a"/><path d="M682.2 576.6 L685.6 564.7 L684.4 576.6 Z" fill="#d3e6b0"/><path d="M684.5 576.6 L687.3 569.7 L686.7 576.6 Z" fill="#c5de9a"/><path d="M676.7 576.6 L677.8 568.8 L678.9 576.6 Z" fill="#9cc98a"/><path d="M698.6 576.6 L697.8 567.9 L700.8 576.6 Z" fill="#c5de9a"/><path d="M692.3 576.6 L692.3 569.9 L694.5 576.6 Z" fill="#b4d38a"/><path d="M690.9 576.6 L690.1 566.3 L693.1 576.6 Z" fill="#c5de9a"/><path d="M688.4 576.6 L687.9 566.7 L690.6 576.6 Z" fill="#c5de9a"/><path d="M678.9 576.6 L682.5 564.6 L681.1 576.6 Z" fill="#b4d38a"/><path d="M685.7 576.6 L689.1 565.2 L687.9 576.6 Z" fill="#c5de9a"/><path d="M674.8 576.6 L676.8 568.4 L677.0 576.6 Z" fill="#c5de9a"/><path d="M686.7 576.6 L686.0 569.9 L688.9 576.6 Z" fill="#9cc98a"/><path d="M698.7 576.6 L696.9 564.2 L700.9 576.6 Z" fill="#b4d38a"/><path d="M676.8 576.6 L676.3 563.7 L679.0 576.6 Z" fill="#d3e6b0"/><path d="M680.0 576.6 L680.4 566.6 L682.2 576.6 Z" fill="#c5de9a"/><path d="M686.9 576.6 L686.8 566.8 L689.1 576.6 Z" fill="#d3e6b0"/><path d="M693.3 576.6 L697.3 567.3 L695.5 576.6 Z" fill="#c5de9a"/><path d="M690.5 576.6 L692.2 567.4 L692.7 576.6 Z" fill="#b4d38a"/><path d="M693.3 576.6 L694.7 564.7 L695.5 576.6 Z" fill="#d3e6b0"/><path d="M677.9 576.6 L681.9 563.9 L680.1 576.6 Z" fill="#d3e6b0"/><path d="M697.4 576.6 L697.3 564.5 L699.6 576.6 Z" fill="#b4d38a"/><path d="M691.2 576.6 L694.8 570.3 L693.4 576.6 Z" fill="#b4d38a"/>
<path d="M767.9 585 L769.1 575.4 L770.1 585 Z" fill="#8fbf86"/><path d="M778.4 585 L778.7 576.0 L780.6 585 Z" fill="#9cc98a"/><path d="M762.8 585 L761.6 574.6 L765.0 585 Z" fill="#8fbf86"/><path d="M777.3 585 L780.6 577.1 L779.5 585 Z" fill="#8fbf86"/><path d="M777.0 585 L778.5 574.1 L779.2 585 Z" fill="#8fbf86"/><path d="M766.3 585 L770.1 578.0 L768.5 585 Z" fill="#8fbf86"/><path d="M776.9 585 L780.9 575.9 L779.1 585 Z" fill="#8fbf86"/><path d="M763.5 585 L762.3 573.5 L765.7 585 Z" fill="#9cc98a"/><path d="M768.8 585 L769.1 571.3 L771.0 585 Z" fill="#e0e8d0"/><path d="M761.0 585 L760.3 571.0 L763.2 585 Z" fill="#e0e8d0"/><path d="M767.8 585 L766.9 576.7 L770.0 585 Z" fill="#e0e8d0"/><path d="M764.0 585 L767.0 571.6 L766.2 585 Z" fill="#c5de9a"/><path d="M761.4 585 L765.3 577.0 L763.6 585 Z" fill="#e0e8d0"/><path d="M773.7 585 L774.7 574.9 L775.9 585 Z" fill="#9cc98a"/><path d="M771.2 585 L770.3 578.2 L773.4 585 Z" fill="#9cc98a"/><path d="M765.8 585 L764.7 573.7 L768.0 585 Z" fill="#9cc98a"/><path d="M773.4 585 L773.3 572.0 L775.6 585 Z" fill="#9cc98a"/><path d="M774.5 585 L773.3 573.1 L776.7 585 Z" fill="#8fbf86"/><path d="M766.8 585 L768.1 573.5 L769.0 585 Z" fill="#9cc98a"/><path d="M773.7 585 L773.7 573.0 L775.9 585 Z" fill="#9cc98a"/><path d="M775.2 585 L776.0 575.9 L777.4 585 Z" fill="#9cc98a"/><path d="M776.5 585 L775.3 573.7 L778.7 585 Z" fill="#c5de9a"/><path d="M772.1 585 L773.3 573.4 L774.3 585 Z" fill="#9cc98a"/><path d="M766.0 585 L765.1 572.2 L768.2 585 Z" fill="#c5de9a"/><path d="M761.2 585 L761.9 571.8 L763.4 585 Z" fill="#e0e8d0"/><path d="M771.0 585 L770.3 572.1 L773.2 585 Z" fill="#8fbf86"/><path d="M772.4 585 L772.7 577.7 L774.6 585 Z" fill="#c5de9a"/><path d="M761.3 585 L759.7 573.2 L763.5 585 Z" fill="#8fbf86"/><path d="M773.7 585 L776.2 576.4 L775.9 585 Z" fill="#c5de9a"/><path d="M777.4 585 L778.2 571.1 L779.6 585 Z" fill="#8fbf86"/>
<path d="M760.5 585 L762.5 585 Q761 565 754 549 L752.5 550 Q759 566 760.5 585 Z" fill="#3a3a2a"/>
<path d="M769 585 L771 585 Q768 565 770.5 550 Q773 540 778 532 L776.5 531 Q771 540 768.5 550 Q766 565 769 585 Z" fill="#3a3a2a"/>
<ellipse cx="778" cy="533" rx="8.2" ry="7.5" fill="#7b9a60"/><circle cx="774.3" cy="531.8" r="1.9" fill="#8aab70"/><circle cx="778.9" cy="538.5" r="3.5" fill="#9dbb85"/><circle cx="765.1" cy="534.2" r="3.4" fill="#6f8f56"/><circle cx="774.4" cy="523.0" r="3.2" fill="#6f8f56"/><circle cx="785.7" cy="520.2" r="2.2" fill="#8aab70"/><circle cx="777.5" cy="519.3" r="2.2" fill="#8aab70"/><circle cx="771.3" cy="537.7" r="2.2" fill="#8aab70"/><circle cx="768.1" cy="535.2" r="2.7" fill="#9dbb85"/><circle cx="778.3" cy="519.9" r="3.4" fill="#8aab70"/><circle cx="772.0" cy="536.9" r="2.7" fill="#6f8f56"/><circle cx="786.1" cy="544.0" r="2.6" fill="#7b9a60"/><circle cx="766.2" cy="534.9" r="3.2" fill="#7b9a60"/><circle cx="773.0" cy="526.4" r="2.8" fill="#7b9a60"/><circle cx="777.1" cy="542.2" r="2.0" fill="#8aab70"/><circle cx="768.9" cy="541.1" r="2.2" fill="#6f8f56"/><circle cx="783.5" cy="519.8" r="2.3" fill="#7b9a60"/><circle cx="765.7" cy="529.2" r="2.9" fill="#7b9a60"/><circle cx="775.7" cy="526.4" r="3.0" fill="#7b9a60"/><circle cx="781.1" cy="520.8" r="3.3" fill="#6f8f56"/><circle cx="785.1" cy="522.0" r="2.6" fill="#7b9a60"/><circle cx="782.2" cy="538.8" r="3.4" fill="#8aab70"/><circle cx="780.8" cy="546.8" r="2.5" fill="#7b9a60"/><circle cx="789.5" cy="540.5" r="3.3" fill="#7b9a60"/><circle cx="765.8" cy="534.8" r="2.6" fill="#9dbb85"/><circle cx="771.8" cy="533.5" r="3.6" fill="#7b9a60"/><circle cx="763.3" cy="537.9" r="3.0" fill="#7b9a60"/><circle cx="769.9" cy="531.2" r="3.2" fill="#8aab70"/><circle cx="769.2" cy="524.4" r="3.5" fill="#7b9a60"/><circle cx="771.7" cy="525.4" r="2.7" fill="#7b9a60"/><circle cx="785.3" cy="532.2" r="2.4" fill="#8aab70"/><circle cx="764.5" cy="528.9" r="2.0" fill="#9dbb85"/><circle cx="781.5" cy="529.6" r="2.2" fill="#7b9a60"/><circle cx="777.5" cy="546.8" r="2.3" fill="#7b9a60"/><circle cx="778.0" cy="541.7" r="2.6" fill="#8aab70"/><circle cx="778.7" cy="547.1" r="2.5" fill="#7b9a60"/><circle cx="782.3" cy="528.5" r="3.1" fill="#6f8f56"/><circle cx="773.2" cy="520.4" r="3.6" fill="#7b9a60"/><circle cx="772.2" cy="540.1" r="2.5" fill="#9dbb85"/><circle cx="770.4" cy="538.5" r="1.9" fill="#9dbb85"/><circle cx="777.8" cy="520.5" r="2.9" fill="#9dbb85"/><circle cx="783.7" cy="523.7" r="2.1" fill="#6f8f56"/><circle cx="790.5" cy="525.4" r="2.2" fill="#7b9a60"/><circle cx="767.3" cy="529.2" r="2.8" fill="#7b9a60"/><circle cx="790.0" cy="532.7" r="2.0" fill="#8aab70"/><circle cx="787.0" cy="527.0" r="1.8" fill="#8aab70"/><circle cx="768.7" cy="524.3" r="3.3" fill="#6f8f56"/><circle cx="784.4" cy="520.2" r="2.6" fill="#7b9a60"/><circle cx="784.7" cy="540.6" r="1.8" fill="#8aab70"/><circle cx="789.2" cy="534.4" r="2.4" fill="#9dbb85"/><circle cx="778.6" cy="538.0" r="1.9" fill="#7b9a60"/><circle cx="774.6" cy="546.1" r="2.4" fill="#9dbb85"/><circle cx="775.2" cy="526.7" r="2.0" fill="#7b9a60"/><circle cx="787.5" cy="532.8" r="3.2" fill="#8aab70"/><circle cx="774.3" cy="521.5" r="2.9" fill="#6f8f56"/><circle cx="783.2" cy="529.3" r="2.6" fill="#6f8f56"/><circle cx="788.4" cy="531.0" r="2.6" fill="#7b9a60"/><circle cx="772.1" cy="538.0" r="2.7" fill="#6f8f56"/><circle cx="766.7" cy="541.2" r="2.3" fill="#7b9a60"/><circle cx="766.4" cy="526.7" r="2.3" fill="#7b9a60"/><circle cx="784.1" cy="541.0" r="2.9" fill="#8aab70"/><circle cx="785.0" cy="542.1" r="2.6" fill="#8aab70"/><circle cx="784.9" cy="528.3" r="2.8" fill="#6f8f56"/><circle cx="789.4" cy="538.9" r="3.0" fill="#8aab70"/><circle cx="787.6" cy="527.6" r="3.2" fill="#7b9a60"/><circle cx="783.7" cy="530.3" r="2.3" fill="#7b9a60"/><circle cx="781.9" cy="524.2" r="3.2" fill="#7b9a60"/><circle cx="785.2" cy="533.7" r="2.2" fill="#7b9a60"/><circle cx="783.0" cy="522.6" r="2.9" fill="#7b9a60"/><circle cx="787.8" cy="543.4" r="2.6" fill="#8aab70"/><circle cx="769.7" cy="528.5" r="3.5" fill="#9dbb85"/><circle cx="777.7" cy="527.3" r="3.5" fill="#6f8f56"/><circle cx="776.2" cy="537.6" r="2.0" fill="#6f8f56"/><circle cx="790.8" cy="537.9" r="2.9" fill="#8aab70"/><circle cx="773.9" cy="525.3" r="2.8" fill="#7b9a60"/><circle cx="775.5" cy="544.5" r="2.3" fill="#8aab70"/><circle cx="770.2" cy="524.6" r="2.0" fill="#9dbb85"/><circle cx="769.5" cy="533.2" r="2.0" fill="#9dbb85"/><circle cx="782.7" cy="525.6" r="2.4" fill="#7b9a60"/><circle cx="764.7" cy="540.4" r="2.3" fill="#9dbb85"/><circle cx="790.8" cy="523.7" r="3.5" fill="#8aab70"/><circle cx="792.5" cy="528.4" r="3.2" fill="#7b9a60"/><circle cx="791.5" cy="532.8" r="3.3" fill="#9dbb85"/><circle cx="786.9" cy="533.8" r="3.1" fill="#8aab70"/><circle cx="777.2" cy="544.9" r="2.1" fill="#6f8f56"/><circle cx="784.2" cy="543.9" r="2.3" fill="#7b9a60"/>
<ellipse cx="754" cy="540" rx="4.2" ry="4.0" fill="#7b9a60"/><circle cx="756.8" cy="546.0" r="2.1" fill="#6f8f56"/><circle cx="757.9" cy="541.0" r="2.6" fill="#6f8f56"/><circle cx="752.4" cy="536.4" r="2.2" fill="#9dbb85"/><circle cx="753.6" cy="533.5" r="1.9" fill="#9dbb85"/><circle cx="749.5" cy="543.1" r="1.9" fill="#7b9a60"/><circle cx="761.4" cy="538.4" r="2.7" fill="#6f8f56"/><circle cx="757.0" cy="540.7" r="2.3" fill="#7b9a60"/><circle cx="752.2" cy="532.4" r="2.5" fill="#8aab70"/><circle cx="758.6" cy="536.5" r="1.8" fill="#9dbb85"/><circle cx="748.8" cy="545.3" r="2.5" fill="#9dbb85"/><circle cx="752.1" cy="536.8" r="1.6" fill="#9dbb85"/><circle cx="748.1" cy="538.9" r="2.5" fill="#9dbb85"/><circle cx="758.1" cy="545.7" r="1.7" fill="#8aab70"/><circle cx="758.8" cy="539.2" r="1.5" fill="#7b9a60"/><circle cx="752.3" cy="541.2" r="1.9" fill="#6f8f56"/><circle cx="748.3" cy="541.1" r="2.2" fill="#7b9a60"/><circle cx="760.9" cy="544.3" r="1.9" fill="#7b9a60"/><circle cx="757.2" cy="540.5" r="2.3" fill="#9dbb85"/><circle cx="752.4" cy="537.4" r="2.0" fill="#7b9a60"/><circle cx="759.3" cy="539.1" r="2.7" fill="#7b9a60"/><circle cx="754.6" cy="533.8" r="2.2" fill="#9dbb85"/><circle cx="756.6" cy="533.7" r="2.1" fill="#6f8f56"/><circle cx="757.6" cy="545.0" r="1.7" fill="#6f8f56"/><circle cx="755.7" cy="542.5" r="2.7" fill="#8aab70"/><circle cx="747.4" cy="535.5" r="2.4" fill="#9dbb85"/><circle cx="752.9" cy="537.7" r="2.0" fill="#9dbb85"/><circle cx="758.1" cy="542.9" r="2.3" fill="#8aab70"/><circle cx="749.7" cy="533.4" r="2.4" fill="#6f8f56"/><circle cx="748.3" cy="541.8" r="2.1" fill="#7b9a60"/><circle cx="752.5" cy="536.6" r="1.5" fill="#7b9a60"/><circle cx="755.1" cy="543.9" r="2.3" fill="#7b9a60"/><circle cx="762.1" cy="537.5" r="2.0" fill="#7b9a60"/><circle cx="751.3" cy="537.3" r="2.7" fill="#7b9a60"/><circle cx="751.3" cy="540.9" r="1.4" fill="#6f8f56"/><circle cx="753.7" cy="534.2" r="1.5" fill="#7b9a60"/><circle cx="758.4" cy="534.2" r="2.1" fill="#7b9a60"/><circle cx="750.4" cy="545.5" r="1.9" fill="#7b9a60"/><circle cx="750.2" cy="535.4" r="1.8" fill="#9dbb85"/>
<ellipse cx="762.5" cy="561" rx="3.2" ry="4.5" fill="#7b9a60"/><circle cx="763.5" cy="555.1" r="1.5" fill="#7b9a60"/><circle cx="768.4" cy="562.4" r="2.2" fill="#6f8f56"/><circle cx="760.4" cy="552.6" r="2.2" fill="#9dbb85"/><circle cx="759.7" cy="564.7" r="2.4" fill="#8aab70"/><circle cx="757.1" cy="565.8" r="1.8" fill="#9dbb85"/><circle cx="759.2" cy="565.6" r="1.7" fill="#7b9a60"/><circle cx="758.1" cy="561.1" r="1.8" fill="#7b9a60"/><circle cx="766.3" cy="565.7" r="2.2" fill="#8aab70"/><circle cx="768.4" cy="563.4" r="2.0" fill="#8aab70"/><circle cx="761.8" cy="559.2" r="1.8" fill="#7b9a60"/><circle cx="759.8" cy="566.1" r="1.3" fill="#9dbb85"/><circle cx="759.6" cy="557.4" r="1.9" fill="#9dbb85"/><circle cx="757.5" cy="566.0" r="2.2" fill="#7b9a60"/><circle cx="756.9" cy="564.6" r="2.0" fill="#9dbb85"/><circle cx="767.6" cy="559.6" r="1.8" fill="#9dbb85"/><circle cx="766.1" cy="562.4" r="2.0" fill="#7b9a60"/><circle cx="759.9" cy="568.6" r="1.3" fill="#7b9a60"/><circle cx="767.7" cy="562.4" r="2.2" fill="#7b9a60"/><circle cx="761.9" cy="552.8" r="2.1" fill="#9dbb85"/><circle cx="768.2" cy="560.0" r="1.9" fill="#7b9a60"/><circle cx="768.0" cy="558.7" r="2.3" fill="#7b9a60"/><circle cx="756.8" cy="564.2" r="2.3" fill="#7b9a60"/><circle cx="763.5" cy="557.0" r="1.9" fill="#8aab70"/><circle cx="764.1" cy="560.1" r="1.5" fill="#6f8f56"/><circle cx="765.0" cy="562.2" r="2.2" fill="#7b9a60"/><circle cx="758.6" cy="565.1" r="2.3" fill="#7b9a60"/>
<line x1="768" y1="568" x2="768" y2="584" stroke="#999" stroke-width="0.6" />
<line x1="770" y1="568" x2="770" y2="584" stroke="#999" stroke-width="0.6" />
<line x1="772" y1="568" x2="772" y2="584" stroke="#999" stroke-width="0.6" />
<line x1="774" y1="568" x2="774" y2="584" stroke="#999" stroke-width="0.6" />
<line x1="776" y1="568" x2="776" y2="584" stroke="#999" stroke-width="0.6" />
<line x1="778" y1="568" x2="778" y2="584" stroke="#999" stroke-width="0.6" />
<line x1="780" y1="568" x2="780" y2="584" stroke="#999" stroke-width="0.6" />
<line x1="782" y1="568" x2="782" y2="584" stroke="#999" stroke-width="0.6" />
<g fill="#111"><ellipse cx="637.40" cy="529.53" rx="1.22" ry="1.56"/><path d="M635.85 530.80 C633.70 530.90 633.70 531.90 633.83 533.90 L633.70 537.90 L634.51 538.90 L635.05 547.70 L636.93 547.90 L637.20 540.30 L638.01 547.90 L639.89 547.70 L639.62 538.90 L640.43 537.90 L640.57 533.90 C640.57 531.90 640.43 530.90 638.55 530.80 Z"/></g>
<g fill="#111"><ellipse cx="604.50" cy="454.23" rx="1.22" ry="1.56"/><path d="M603.24 455.50 C601.55 455.60 601.55 456.60 601.66 458.60 L601.55 462.60 L602.18 463.60 L602.61 472.40 L604.09 472.60 L604.30 465.00 L604.93 472.60 L606.42 472.40 L606.20 463.60 L606.84 462.60 L606.94 458.60 C606.94 456.60 606.84 455.60 605.36 455.50 Z"/></g>
<g fill="#111"><ellipse cx="566.10" cy="454.23" rx="1.22" ry="1.56"/><path d="M565.03 455.50 C563.65 455.60 563.65 456.60 563.74 458.60 L563.65 462.60 L564.17 463.60 L564.52 472.40 L565.73 472.60 L565.90 465.00 L566.42 472.60 L567.63 472.40 L567.46 463.60 L567.98 462.60 L568.06 458.60 C568.06 456.60 567.98 455.60 566.77 455.50 Z"/></g>
<g fill="#111"><ellipse cx="502.50" cy="529.03" rx="1.22" ry="1.56"/><path d="M501.34 530.30 C499.80 530.40 499.80 531.40 499.90 533.40 L499.80 537.40 L500.38 538.40 L500.76 547.20 L502.11 547.40 L502.30 539.80 L502.88 547.40 L504.22 547.20 L504.03 538.40 L504.61 537.40 L504.70 533.40 C504.70 531.40 504.61 530.40 503.26 530.30 Z"/></g>
<g fill="#111"><ellipse cx="637.52" cy="377.00" rx="1.35" ry="1.72"/><path d="M636.05 378.39 C634.05 378.50 634.05 379.60 634.17 381.80 L634.05 386.20 L634.80 387.30 L635.30 396.98 L637.05 397.20 L637.30 388.84 L638.05 397.20 L639.80 396.98 L639.55 387.30 L640.30 386.20 L640.42 381.80 C640.42 379.60 640.30 378.50 638.55 378.39 Z"/></g>
<path d="M512.5 361 L514.5 352 Q514 347 517 345 Q520 343 521.5 345.5 L519.8 347 Q517 350 517.5 355 L518.5 361 L516.5 361 L515.6 355 L514.3 361 Z" fill="#111"/><circle cx="519.8" cy="343.5" r="1.7" fill="#111"/>
<g fill="#111"><ellipse cx="461.19" cy="575.79" rx="1.19" ry="1.52"/><path d="M459.94 577.03 C458.25 577.12 458.25 578.10 458.36 580.05 L458.25 583.95 L459.31 584.93 L458.25 593.50 L459.73 593.70 L461.00 587.46 L463.54 593.70 L465.02 593.50 L462.69 584.93 L463.54 583.95 L463.64 580.05 C463.64 578.10 463.54 577.12 462.06 577.03 Z"/></g>
<g fill="#111"><ellipse cx="482.19" cy="576.25" rx="1.16" ry="1.49"/><path d="M481.04 577.46 C479.50 577.55 479.50 578.50 479.60 580.40 L479.50 584.20 L480.08 585.15 L480.46 593.51 L481.81 593.70 L482.00 586.48 L482.58 593.70 L483.92 593.51 L483.73 585.15 L484.31 584.20 L484.40 580.40 C484.40 578.50 484.31 577.55 482.96 577.46 Z"/></g>
<g fill="#111"><ellipse cx="490.21" cy="574.41" rx="1.29" ry="1.64"/><path d="M488.85 575.75 C487.00 575.85 487.00 576.90 487.12 579.00 L487.00 583.20 L487.69 584.25 L488.15 593.49 L489.77 593.70 L490.00 585.72 L490.69 593.70 L492.31 593.49 L492.08 584.25 L492.77 583.20 L492.88 579.00 C492.88 576.90 492.77 575.85 491.15 575.75 Z"/></g>
<path d="M491.5 577 L494 571.5 L493.2 568.5 L494.3 568.3 L495.2 571.5 L492.6 578 Z M488.5 577.5 L485 574 L484.3 574.8 L487.8 578.6 Z" fill="#111"/>
<rect x="482.5" y="577" width="2.6" height="13" fill="#999" opacity="0.6"/>
<g fill="#1a1a1a"><circle cx="542.5" cy="584.5" r="1.6"/><circle cx="549.5" cy="584.5" r="1.6"/><path d="M540 593.7 V588 Q540.5 586 543 586 Q545 586.5 545 589 L547 589 Q547 586.5 549 586 Q551.5 586 552 588 V593.7 Z"/></g>
<g fill="#1a1a1a"><circle cx="571.5" cy="584.5" r="1.6"/><circle cx="578.5" cy="584.5" r="1.6"/><path d="M569 593.7 V588 Q569.5 586 572 586 Q574 586.5 574 589 L576 589 Q576 586.5 578 586 Q580.5 586 581 588 V593.7 Z"/></g>
<line x1="372" y1="287" x2="436" y2="287" stroke="#c4c4c4" stroke-width="0.8" stroke-dasharray="3 3.5"/>
<line x1="361" y1="324.4" x2="436" y2="324.4" stroke="#c4c4c4" stroke-width="0.8" stroke-dasharray="3 3.5"/>
<line x1="361" y1="399.4" x2="436" y2="399.4" stroke="#c4c4c4" stroke-width="0.8" stroke-dasharray="3 3.5"/>
<line x1="361" y1="474.5" x2="436" y2="474.5" stroke="#c4c4c4" stroke-width="0.8" stroke-dasharray="3 3.5"/>
<line x1="371" y1="549.3" x2="436" y2="549.3" stroke="#c4c4c4" stroke-width="0.8" stroke-dasharray="3 3.5"/>
<line x1="596" y1="323.6" x2="657" y2="323.6" stroke="#c4c4c4" stroke-width="0.8" stroke-dasharray="3 3.5"/>
<line x1="596" y1="398.8" x2="657" y2="398.8" stroke="#c4c4c4" stroke-width="0.8" stroke-dasharray="3 3.5"/>
<line x1="596" y1="474.5" x2="629" y2="474.5" stroke="#c4c4c4" stroke-width="0.8" stroke-dasharray="3 3.5"/>
<line x1="596" y1="511.6" x2="629" y2="511.6" stroke="#c4c4c4" stroke-width="0.8" stroke-dasharray="3 3.5"/>
<line x1="598" y1="549.2" x2="663" y2="549.2" stroke="#c4c4c4" stroke-width="0.8" stroke-dasharray="3 3.5"/>
<line x1="533" y1="247.8" x2="592" y2="247.8" stroke="#c4c4c4" stroke-width="0.8" stroke-dasharray="3 3.5"/>
<line x1="386" y1="292.2" x2="436.5" y2="292.2" stroke="#aaa" stroke-width="0.7" />
<line x1="386" y1="330" x2="436.5" y2="330" stroke="#aaa" stroke-width="0.7" />
<line x1="386" y1="405" x2="436.5" y2="405" stroke="#aaa" stroke-width="0.7" />
<line x1="386" y1="479.5" x2="436.5" y2="479.5" stroke="#aaa" stroke-width="0.7" />
<text x="224.4" y="137.7" font-size="21.6" fill="#111" stroke="#111" stroke-width="0.45" textLength="64.2" lengthAdjust="spacingAndGlyphs">NORTH</text>
<text x="705.6" y="137.7" font-size="21.6" fill="#111" stroke="#111" stroke-width="0.45" textLength="64.8" lengthAdjust="spacingAndGlyphs">SOUTH</text>
<text x="35.0" y="388.9" font-size="21.2" fill="#e83a3e" stroke="#e83a3e" stroke-width="0.4" textLength="243.5" lengthAdjust="spacingAndGlyphs">Residential access through</text>
<text x="35.0" y="416.6" font-size="21.2" fill="#e83a3e" stroke="#e83a3e" stroke-width="0.4" textLength="299.5" lengthAdjust="spacingAndGlyphs">landscaped communal walkways</text>
<line x1="58" y1="427" x2="356" y2="427" stroke="#e83a3e" stroke-width="1.2" stroke-dasharray="2.6 2.2"/>
<circle cx="358.2" cy="427" r="1.4" fill="#e83a3e"/>
<path d="M376.3 178 V545 A3.25 3.25 0 0 0 382.8 545 V178 Z" fill="#ee3b3f" stroke="none" stroke-width="1" />
<path d="M379.4 148.2 L394.7 178 L364.1 178 Z" fill="#ee3b3f" stroke="none" stroke-width="1" />
<path d="M382 229.5 H393.2 V226.1 L404.4 231.6 L393.2 237.1 V233.7 H382 Z" fill="#ee3b3f" stroke="none" stroke-width="1" />
<path d="M382 263.4 H418.2 V260.09999999999997 L430.3 265.7 L418.2 271.3 V268.0 H382 Z" fill="#ee3b3f" stroke="none" stroke-width="1" />
<path d="M382 302.0 H418.2 V298.7 L430.3 304.3 L418.2 309.90000000000003 V306.6 H382 Z" fill="#ee3b3f" stroke="none" stroke-width="1" />
<path d="M382 373.7 H418.2 V370.4 L430.3 376.0 L418.2 381.6 V378.3 H382 Z" fill="#ee3b3f" stroke="none" stroke-width="1" />
<path d="M382 449.4 H418.2 V446.09999999999997 L430.3 451.7 L418.2 457.3 V454.0 H382 Z" fill="#ee3b3f" stroke="none" stroke-width="1" />
<path d="M382 526.9000000000001 H418.2 V523.6 L430.3 529.2 L418.2 534.8000000000001 V531.5 H382 Z" fill="#ee3b3f" stroke="none" stroke-width="1" />
</svg>
</body></html>
